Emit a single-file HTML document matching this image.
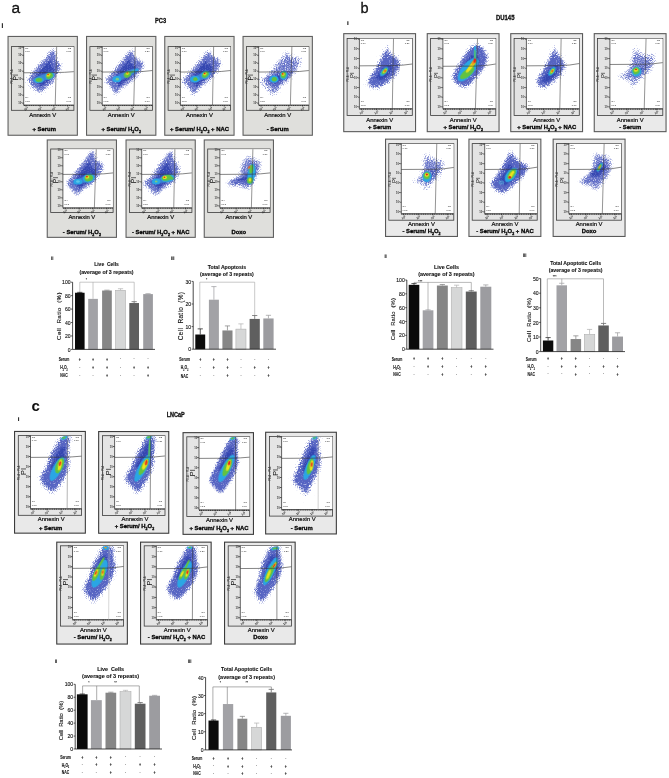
<!DOCTYPE html>
<html><head><meta charset="utf-8"><title>Figure</title>
<style>html,body{margin:0;padding:0;background:#fff}svg{display:block}text{font-family:'Liberation Sans', Arial, Helvetica, sans-serif}</style></head>
<body><svg width="669" height="778" viewBox="0 0 669 778">
<defs>
<filter id="bl0" x="-50%" y="-50%" width="200%" height="200%"><feGaussianBlur stdDeviation=".35"/></filter>
<filter id="bl1" x="-50%" y="-50%" width="200%" height="200%"><feGaussianBlur stdDeviation=".7"/></filter>
<filter id="bl2" x="-50%" y="-50%" width="200%" height="200%"><feGaussianBlur stdDeviation="1.2"/></filter>
<filter id="sp0" x="-50%" y="-50%" width="200%" height="200%" color-interpolation-filters="sRGB"><feGaussianBlur in="SourceAlpha" stdDeviation="2.8" result="a"/><feTurbulence type="fractalNoise" baseFrequency="1.0" numOctaves="1" seed="13"/><feColorMatrix type="matrix" values="0 0 0 0 0 0 0 0 0 0 0 0 0 0 0 0 1 0 0 0" result="n"/><feComposite in="a" in2="n" operator="arithmetic" k1="0" k2="1.5" k3="3.2" k4="-2.55" result="m"/><feFlood flood-color="#6673c9"/><feComposite in2="m" operator="in"/></filter>
<filter id="sp1" x="-50%" y="-50%" width="200%" height="200%" color-interpolation-filters="sRGB"><feGaussianBlur in="SourceAlpha" stdDeviation="2.1" result="a"/><feTurbulence type="fractalNoise" baseFrequency="0.9" numOctaves="1" seed="5"/><feColorMatrix type="matrix" values="0 0 0 0 0 0 0 0 0 0 0 0 0 0 0 1 0 0 0 0" result="n"/><feComposite in="a" in2="n" operator="arithmetic" k1="0" k2="2.1" k3="3.0" k4="-2.45" result="m"/><feFlood flood-color="#5664c2"/><feComposite in2="m" operator="in"/></filter>
<filter id="sp2" x="-50%" y="-50%" width="200%" height="200%" color-interpolation-filters="sRGB"><feGaussianBlur in="SourceAlpha" stdDeviation="2.0" result="a"/><feTurbulence type="fractalNoise" baseFrequency="0.9" numOctaves="1" seed="9"/><feColorMatrix type="matrix" values="0 0 0 0 0 0 0 0 0 0 0 0 0 0 0 0 1 0 0 0" result="n"/><feComposite in="a" in2="n" operator="arithmetic" k1="0" k2="1.6" k3="3.0" k4="-2.4" result="m"/><feFlood flood-color="#5f6cc6"/><feComposite in2="m" operator="in"/></filter>
<filter id="sp3" x="-50%" y="-50%" width="200%" height="200%" color-interpolation-filters="sRGB"><feGaussianBlur in="SourceAlpha" stdDeviation="2.1" result="a"/><feTurbulence type="fractalNoise" baseFrequency="0.9" numOctaves="1" seed="7"/><feColorMatrix type="matrix" values="0 0 0 0 0 0 0 0 0 0 0 0 0 0 0 1 0 0 0 0" result="n"/><feComposite in="a" in2="n" operator="arithmetic" k1="0" k2="1.9" k3="3.0" k4="-2.45" result="m"/><feFlood flood-color="#606dc7"/><feComposite in2="m" operator="in"/></filter>
<filter id="sq" x="-50%" y="-50%" width="200%" height="200%" color-interpolation-filters="sRGB"><feGaussianBlur in="SourceAlpha" stdDeviation="1.7" result="a"/><feTurbulence type="fractalNoise" baseFrequency="0.8" numOctaves="1" seed="21"/><feColorMatrix type="matrix" values="0 0 0 0 0 0 0 0 0 0 0 0 0 0 0 0 0 1 0 0" result="n"/><feComposite in="a" in2="n" operator="arithmetic" k1="0" k2="2.0" k3="2.4" k4="-2.2" result="m"/><feFlood flood-color="#3446b0"/><feComposite in2="m" operator="in"/></filter>

<filter id="bl3" x="-50%" y="-50%" width="200%" height="200%"><feGaussianBlur stdDeviation="2"/></filter>
</defs>
<rect width="669" height="778" fill="#fff"/>
<g><rect x="8.05" y="36.45" width="69.3" height="98.8" fill="#dfdfdc" stroke="#606060" stroke-width="1.1"/><rect x="11.4" y="46.6" width="62.5" height="63.7" fill="#e0e0dd" stroke="#3a3a3a" stroke-width=".8"/><rect x="23.7" y="46.8" width="50" height="58.2" fill="#fff"/><clipPath id="cpa0"><rect x="23.7" y="46.8" width="50" height="58.2"/></clipPath><g clip-path="url(#cpa0)"><g transform="translate(23.7 46.8)"><path d="M2.1 32.6C3.3 29 10.3 21.5 13.2 18.1C16 14.6 16.9 14.6 19.2 12.1C21.4 9.5 24.9 4.7 26.9 2.7C28.8 0.7 30 -0.6 31.1 0.1C32.3 0.8 33.1 4.7 33.7 7C34.3 9.2 33.7 12.2 34.5 13.8C35.4 15.4 38.4 14.6 38.8 16.4C39.3 18.1 38.1 21.6 37.1 24.1C36.1 26.5 33.8 28.9 32.8 30.9C31.8 32.9 32.8 34 31.1 36C29.4 38 25 40.9 22.6 42.9C20.2 44.9 18.6 47.7 16.6 48C14.6 48.3 12.5 46 10.6 44.6C8.8 43.1 6.9 41.4 5.5 39.4C4.1 37.4 0.8 36.2 2.1 32.6Z" fill="#000" filter="url(#sp0)"/><path d="M4 31.9C5.2 28.6 11.5 21.8 14.1 18.7C16.7 15.5 17.5 15.5 19.6 13.2C21.6 10.9 24.8 6.5 26.6 4.7C28.4 2.9 29.4 1.7 30.5 2.3C31.5 3 32.3 6.5 32.8 8.6C33.3 10.6 32.8 13.3 33.6 14.8C34.3 16.2 37.1 15.5 37.4 17.1C37.8 18.7 36.8 21.9 35.9 24.1C35 26.3 32.9 28.5 32 30.3C31.1 32.1 32 33.2 30.5 35C28.9 36.8 24.9 39.4 22.7 41.2C20.5 43 19.1 45.6 17.2 45.9C15.4 46.1 13.5 44 11.8 42.8C10.1 41.5 8.4 39.9 7.1 38.1C5.8 36.3 2.9 35.1 4 31.9Z" fill="#000" filter="url(#sp3)"/><path d="M9.8 31.4C10.5 29.3 14.7 24.8 16.4 22.8C18.1 20.7 18.6 20.7 19.9 19.2C21.3 17.7 23.3 14.8 24.5 13.6C25.7 12.4 26.4 11.7 27 12.1C27.7 12.5 28.2 14.8 28.6 16.2C28.9 17.5 28.6 19.3 29.1 20.2C29.6 21.2 31.4 20.7 31.6 21.8C31.9 22.8 31.2 24.9 30.6 26.3C30 27.8 28.7 29.2 28.1 30.4C27.5 31.6 28.1 32.3 27 33.4C26 34.6 23.4 36.3 22 37.5C20.5 38.7 19.6 40.4 18.4 40.6C17.2 40.7 16 39.4 14.8 38.5C13.7 37.7 12.6 36.7 11.8 35.5C11 34.3 9 33.5 9.8 31.4Z" fill="#000" filter="url(#sq)"/><ellipse cx="19.73" cy="30.84" rx="11.21" ry="3.36" transform="rotate(-18 19.73 30.84)" fill="#3a84d6" opacity="1" filter="url(#bl1)"/><ellipse cx="15.25" cy="33.23" rx="4.63" ry="2.84" transform="rotate(-5 15.25 33.23)" fill="#2aa6e4" opacity="1" filter="url(#bl1)"/><ellipse cx="26.08" cy="28.97" rx="4.63" ry="3.74" transform="rotate(-30 26.08 28.97)" fill="#2aa6e4" opacity="1" filter="url(#bl1)"/><ellipse cx="15.25" cy="33.08" rx="3.36" ry="2.09" transform="rotate(-3 15.25 33.08)" fill="#62c340" opacity="1" filter="url(#bl0)"/><ellipse cx="25.71" cy="28.97" rx="3.59" ry="2.84" transform="rotate(-35 25.71 28.97)" fill="#62c340" opacity="1" filter="url(#bl0)"/><ellipse cx="24.81" cy="28.23" rx="1.94" ry="1.49" transform="rotate(-30 24.81 28.23)" fill="#ece31e" opacity="1" filter="url(#bl0)"/><ellipse cx="24.37" cy="27.7" rx="0.82" ry="0.67" transform="rotate(0 24.37 27.7)" fill="#e6281c" opacity="1" filter="url(#bl0)"/></g></g><path d="M23.7 46.6V105H73.9" fill="none" stroke="#222" stroke-width=".7"/><path d="M23.7 105.45H73.7" stroke="#3a3a3a" stroke-width="1.1" stroke-dasharray="1.3 .5" fill="none"/><path d="M56.66 46.8L55.24 105" stroke="#3c3c3c" stroke-width=".55" fill="none"/><path d="M23.7 72.78L55.07 72.58Q64.69 72.48 73.8 71.66" stroke="#333" stroke-width=".6" fill="none"/><path d="M23.7 47.4h-1.6" stroke="#222" stroke-width=".6"/><text font-size="27" font-weight="bold" text-anchor="end" fill="#3a3a3a" transform="translate(22.4 48.5) scale(0.1 0.1)">10<tspan dy="-10" font-size="19">7</tspan></text><path d="M23.7 55.37h-1.6" stroke="#222" stroke-width=".6"/><text font-size="27" font-weight="bold" text-anchor="end" fill="#3a3a3a" transform="translate(22.4 56.47) scale(0.1 0.1)">10<tspan dy="-10" font-size="19">6</tspan></text><path d="M23.7 63.34h-1.6" stroke="#222" stroke-width=".6"/><text font-size="27" font-weight="bold" text-anchor="end" fill="#3a3a3a" transform="translate(22.4 64.44) scale(0.1 0.1)">10<tspan dy="-10" font-size="19">5</tspan></text><path d="M23.7 71.31h-1.6" stroke="#222" stroke-width=".6"/><text font-size="27" font-weight="bold" text-anchor="end" fill="#3a3a3a" transform="translate(22.4 72.41) scale(0.1 0.1)">10<tspan dy="-10" font-size="19">4</tspan></text><path d="M23.7 79.29h-1.6" stroke="#222" stroke-width=".6"/><text font-size="27" font-weight="bold" text-anchor="end" fill="#3a3a3a" transform="translate(22.4 80.39) scale(0.1 0.1)">10<tspan dy="-10" font-size="19">3</tspan></text><path d="M23.7 87.26h-1.6" stroke="#222" stroke-width=".6"/><text font-size="27" font-weight="bold" text-anchor="end" fill="#3a3a3a" transform="translate(22.4 88.36) scale(0.1 0.1)">10<tspan dy="-10" font-size="19">2</tspan></text><path d="M23.7 95.23h-1.6" stroke="#222" stroke-width=".6"/><text font-size="27" font-weight="bold" text-anchor="end" fill="#3a3a3a" transform="translate(22.4 96.33) scale(0.1 0.1)">10<tspan dy="-10" font-size="19">1</tspan></text><path d="M23.7 103.2h-1.6" stroke="#222" stroke-width=".6"/><text font-size="27" font-weight="bold" text-anchor="end" fill="#3a3a3a" transform="translate(22.4 104.3) scale(0.1 0.1)">10<tspan dy="-10" font-size="19">0</tspan></text><path d="M25.9 105v1.6" stroke="#222" stroke-width=".6"/><text font-size="29" font-weight="bold" text-anchor="middle" fill="#151515" transform="translate(26.5 109.7) rotate(-30) scale(0.1 0.1)">10<tspan dy="-10" font-size="19">2</tspan></text><path d="M39.77 105v1.6" stroke="#222" stroke-width=".6"/><text font-size="29" font-weight="bold" text-anchor="middle" fill="#151515" transform="translate(40.37 109.7) rotate(-30) scale(0.1 0.1)">10<tspan dy="-10" font-size="19">3</tspan></text><path d="M53.63 105v1.6" stroke="#222" stroke-width=".6"/><text font-size="29" font-weight="bold" text-anchor="middle" fill="#151515" transform="translate(54.23 109.7) rotate(-30) scale(0.1 0.1)">10<tspan dy="-10" font-size="19">4</tspan></text><path d="M67.5 105v1.6" stroke="#222" stroke-width=".6"/><text font-size="29" font-weight="bold" text-anchor="middle" fill="#151515" transform="translate(68.1 109.7) rotate(-30) scale(0.1 0.1)">10<tspan dy="-10" font-size="19">5</tspan></text><text font-size="68" font-weight="normal" text-anchor="middle" fill="#111" transform="translate(18.3 77.4) rotate(-90) scale(0.1 0.1)">PI</text><text font-size="26" font-weight="bold" text-anchor="middle" fill="#444" transform="translate(13.2 76.6) rotate(-90) scale(0.1 0.1)">PE-A :: PI-A</text><text font-size="25" font-weight="normal" text-anchor="start" fill="#2a2a2a" transform="translate(25 49) scale(0.1 0.1)">Q1</text><text font-size="25" font-weight="normal" text-anchor="start" fill="#2a2a2a" transform="translate(25 52.4) scale(0.1 0.1)">0.66</text><text font-size="25" font-weight="normal" text-anchor="end" fill="#2a2a2a" transform="translate(71.1 49) scale(0.1 0.1)">Q2</text><text font-size="25" font-weight="normal" text-anchor="end" fill="#2a2a2a" transform="translate(71.1 52.4) scale(0.1 0.1)">1.26</text><text font-size="25" font-weight="normal" text-anchor="end" fill="#2a2a2a" transform="translate(71.1 98.4) scale(0.1 0.1)">Q3</text><text font-size="25" font-weight="normal" text-anchor="end" fill="#2a2a2a" transform="translate(71.1 102) scale(0.1 0.1)">0.00</text><text font-size="25" font-weight="normal" text-anchor="start" fill="#2a2a2a" transform="translate(25 98.4) scale(0.1 0.1)">Q4</text><text font-size="25" font-weight="normal" text-anchor="start" fill="#2a2a2a" transform="translate(25 102) scale(0.1 0.1)">93.5</text><text font-size="62" font-weight="normal" text-anchor="middle" fill="#0a0a0a" transform="translate(42.7 117.15) scale(0.1 0.1)" stroke="#0a0a0a" stroke-width="2" textLength="269" lengthAdjust="spacingAndGlyphs">Annexin V</text><text font-size="59" font-weight="bold" text-anchor="middle" fill="#050505" transform="translate(44.2 130.9) scale(0.1 0.1)" stroke="#050505" stroke-width="3">+ Serum</text></g><g><rect x="86.55" y="36.45" width="69.3" height="98.8" fill="#dfdfdc" stroke="#606060" stroke-width="1.1"/><rect x="89.9" y="46.6" width="62.5" height="63.7" fill="#e0e0dd" stroke="#3a3a3a" stroke-width=".8"/><rect x="102.2" y="46.8" width="50" height="58.2" fill="#fff"/><clipPath id="cpa1"><rect x="102.2" y="46.8" width="50" height="58.2"/></clipPath><g clip-path="url(#cpa1)"><g transform="translate(102.2 46.8)"><path d="M1.5 33.3C2.2 30.9 6.5 28.1 9.2 24.8C11.9 21.5 15 17.1 17.7 13.7C20.4 10.2 23.3 6.5 25.4 4.3C27.6 2 29.3 -0.6 30.5 0C31.8 0.6 32.1 5.8 33.1 7.7C34.1 9.5 35 10.1 36.5 11.1C38.1 12.1 41.4 12.2 42.5 13.7C43.7 15.1 43.9 17.7 43.4 19.7C42.8 21.6 40.9 23.2 39.1 25.6C37.2 28.1 34.7 31.9 32.3 34.2C29.8 36.5 27 37.6 24.6 39.3C22.1 41 19.6 42.5 17.7 44.4C15.9 46.4 14.9 51.3 13.4 51.3C12 51.3 10.6 46.4 9.2 44.4C7.7 42.5 6.2 41.2 4.9 39.3C3.6 37.5 0.8 35.8 1.5 33.3Z" fill="#000" filter="url(#sp0)"/><path d="M3.5 32.6C4.2 30.4 8 27.8 10.5 24.8C13 21.9 15.8 17.8 18.3 14.7C20.7 11.6 23.3 8.3 25.3 6.2C27.2 4.1 28.8 1.8 29.9 2.3C31.1 2.8 31.4 7.6 32.3 9.3C33.2 11 33.9 11.5 35.4 12.4C36.8 13.3 39.8 13.4 40.8 14.7C41.8 16 42.1 18.4 41.6 20.2C41.1 22 39.4 23.4 37.7 25.6C36 27.8 33.7 31.3 31.5 33.4C29.3 35.5 26.7 36.5 24.5 38.1C22.3 39.6 20 40.9 18.3 42.7C16.6 44.5 15.7 48.9 14.4 48.9C13.1 48.9 11.8 44.5 10.5 42.7C9.2 40.9 7.8 39.7 6.6 38.1C5.4 36.4 2.9 34.8 3.5 32.6Z" fill="#000" filter="url(#sp3)"/><path d="M10.4 31C10.8 29.6 13.4 27.9 15 25.9C16.6 24 18.5 21.3 20.1 19.3C21.7 17.3 23.4 15.1 24.7 13.7C25.9 12.4 26.9 10.8 27.7 11.2C28.5 11.5 28.6 14.7 29.2 15.8C29.8 16.9 30.3 17.2 31.3 17.8C32.2 18.4 34.1 18.5 34.8 19.3C35.5 20.2 35.7 21.7 35.3 22.9C35 24.1 33.9 25 32.8 26.4C31.7 27.9 30.2 30.2 28.7 31.5C27.3 32.9 25.6 33.5 24.1 34.6C22.7 35.6 21.2 36.4 20.1 37.6C19 38.8 18.4 41.7 17.5 41.7C16.7 41.7 15.8 38.8 15 37.6C14.1 36.4 13.2 35.7 12.5 34.6C11.7 33.5 10 32.4 10.4 31Z" fill="#000" filter="url(#sq)"/><ellipse cx="22.97" cy="28.23" rx="14.2" ry="3.14" transform="rotate(-24 22.97 28.23)" fill="#3a84d6" opacity="1" filter="url(#bl1)"/><ellipse cx="14.75" cy="32.34" rx="4.33" ry="3.14" transform="rotate(0 14.75 32.34)" fill="#2aa6e4" opacity="1" filter="url(#bl1)"/><ellipse cx="32.68" cy="23.97" rx="4.11" ry="1.35" transform="rotate(-20 32.68 23.97)" fill="#2aa6e4" opacity="1" filter="url(#bl1)"/><ellipse cx="15.12" cy="32.34" rx="1.64" ry="1.35" transform="rotate(0 15.12 32.34)" fill="#8fd66a" opacity="0.8" filter="url(#bl0)"/><ellipse cx="25.21" cy="27.7" rx="3.74" ry="2.84" transform="rotate(-35 25.21 27.7)" fill="#62c340" opacity="1" filter="url(#bl0)"/><ellipse cx="29.7" cy="25.24" rx="2.99" ry="0.9" transform="rotate(-20 29.7 25.24)" fill="#62c340" opacity="0.8" filter="url(#bl0)"/><ellipse cx="25.21" cy="26.73" rx="1.64" ry="1.35" transform="rotate(-30 25.21 26.73)" fill="#ece31e" opacity="1" filter="url(#bl0)"/><ellipse cx="25.06" cy="26.06" rx="0.75" ry="0.67" transform="rotate(0 25.06 26.06)" fill="#e6281c" opacity="1" filter="url(#bl0)"/></g></g><path d="M102.2 46.6V105H152.4" fill="none" stroke="#222" stroke-width=".7"/><path d="M102.2 105.45H152.2" stroke="#3a3a3a" stroke-width="1.1" stroke-dasharray="1.3 .5" fill="none"/><path d="M135.26 46.8L133.76 105" stroke="#3c3c3c" stroke-width=".55" fill="none"/><path d="M102.2 72.04L133.57 71.84Q143.19 71.74 152.3 70.54" stroke="#333" stroke-width=".6" fill="none"/><path d="M102.2 47.4h-1.6" stroke="#222" stroke-width=".6"/><text font-size="27" font-weight="bold" text-anchor="end" fill="#3a3a3a" transform="translate(100.9 48.5) scale(0.1 0.1)">10<tspan dy="-10" font-size="19">7</tspan></text><path d="M102.2 55.37h-1.6" stroke="#222" stroke-width=".6"/><text font-size="27" font-weight="bold" text-anchor="end" fill="#3a3a3a" transform="translate(100.9 56.47) scale(0.1 0.1)">10<tspan dy="-10" font-size="19">6</tspan></text><path d="M102.2 63.34h-1.6" stroke="#222" stroke-width=".6"/><text font-size="27" font-weight="bold" text-anchor="end" fill="#3a3a3a" transform="translate(100.9 64.44) scale(0.1 0.1)">10<tspan dy="-10" font-size="19">5</tspan></text><path d="M102.2 71.31h-1.6" stroke="#222" stroke-width=".6"/><text font-size="27" font-weight="bold" text-anchor="end" fill="#3a3a3a" transform="translate(100.9 72.41) scale(0.1 0.1)">10<tspan dy="-10" font-size="19">4</tspan></text><path d="M102.2 79.29h-1.6" stroke="#222" stroke-width=".6"/><text font-size="27" font-weight="bold" text-anchor="end" fill="#3a3a3a" transform="translate(100.9 80.39) scale(0.1 0.1)">10<tspan dy="-10" font-size="19">3</tspan></text><path d="M102.2 87.26h-1.6" stroke="#222" stroke-width=".6"/><text font-size="27" font-weight="bold" text-anchor="end" fill="#3a3a3a" transform="translate(100.9 88.36) scale(0.1 0.1)">10<tspan dy="-10" font-size="19">2</tspan></text><path d="M102.2 95.23h-1.6" stroke="#222" stroke-width=".6"/><text font-size="27" font-weight="bold" text-anchor="end" fill="#3a3a3a" transform="translate(100.9 96.33) scale(0.1 0.1)">10<tspan dy="-10" font-size="19">1</tspan></text><path d="M102.2 103.2h-1.6" stroke="#222" stroke-width=".6"/><text font-size="27" font-weight="bold" text-anchor="end" fill="#3a3a3a" transform="translate(100.9 104.3) scale(0.1 0.1)">10<tspan dy="-10" font-size="19">0</tspan></text><path d="M104.4 105v1.6" stroke="#222" stroke-width=".6"/><text font-size="29" font-weight="bold" text-anchor="middle" fill="#151515" transform="translate(105 109.7) rotate(-30) scale(0.1 0.1)">10<tspan dy="-10" font-size="19">2</tspan></text><path d="M118.27 105v1.6" stroke="#222" stroke-width=".6"/><text font-size="29" font-weight="bold" text-anchor="middle" fill="#151515" transform="translate(118.87 109.7) rotate(-30) scale(0.1 0.1)">10<tspan dy="-10" font-size="19">3</tspan></text><path d="M132.13 105v1.6" stroke="#222" stroke-width=".6"/><text font-size="29" font-weight="bold" text-anchor="middle" fill="#151515" transform="translate(132.73 109.7) rotate(-30) scale(0.1 0.1)">10<tspan dy="-10" font-size="19">4</tspan></text><path d="M146 105v1.6" stroke="#222" stroke-width=".6"/><text font-size="29" font-weight="bold" text-anchor="middle" fill="#151515" transform="translate(146.6 109.7) rotate(-30) scale(0.1 0.1)">10<tspan dy="-10" font-size="19">5</tspan></text><text font-size="68" font-weight="normal" text-anchor="middle" fill="#111" transform="translate(96.8 77.4) rotate(-90) scale(0.1 0.1)">PI</text><text font-size="26" font-weight="bold" text-anchor="middle" fill="#444" transform="translate(91.7 76.6) rotate(-90) scale(0.1 0.1)">PE-A :: PI-A</text><text font-size="25" font-weight="normal" text-anchor="start" fill="#2a2a2a" transform="translate(103.5 49) scale(0.1 0.1)">Q1</text><text font-size="25" font-weight="normal" text-anchor="start" fill="#2a2a2a" transform="translate(103.5 52.4) scale(0.1 0.1)">0.66</text><text font-size="25" font-weight="normal" text-anchor="end" fill="#2a2a2a" transform="translate(149.6 49) scale(0.1 0.1)">Q2</text><text font-size="25" font-weight="normal" text-anchor="end" fill="#2a2a2a" transform="translate(149.6 52.4) scale(0.1 0.1)">1.26</text><text font-size="25" font-weight="normal" text-anchor="end" fill="#2a2a2a" transform="translate(149.6 98.4) scale(0.1 0.1)">Q3</text><text font-size="25" font-weight="normal" text-anchor="end" fill="#2a2a2a" transform="translate(149.6 102) scale(0.1 0.1)">0.00</text><text font-size="25" font-weight="normal" text-anchor="start" fill="#2a2a2a" transform="translate(103.5 98.4) scale(0.1 0.1)">Q4</text><text font-size="25" font-weight="normal" text-anchor="start" fill="#2a2a2a" transform="translate(103.5 102) scale(0.1 0.1)">93.5</text><text font-size="62" font-weight="normal" text-anchor="middle" fill="#0a0a0a" transform="translate(121.2 117.15) scale(0.1 0.1)" stroke="#0a0a0a" stroke-width="2" textLength="269" lengthAdjust="spacingAndGlyphs">Annexin V</text><text font-size="59" font-weight="bold" text-anchor="middle" fill="#050505" transform="translate(121.2 130.9) scale(0.1 0.1)" stroke="#050505" stroke-width="3">+ Serum/ H<tspan dy="19" font-size="36">2</tspan><tspan dy="-19">O</tspan><tspan dy="19" font-size="36">2</tspan></text></g><g><rect x="164.75" y="36.45" width="69.3" height="98.8" fill="#dfdfdc" stroke="#606060" stroke-width="1.1"/><rect x="168.1" y="46.6" width="62.5" height="63.7" fill="#e0e0dd" stroke="#3a3a3a" stroke-width=".8"/><rect x="180.4" y="46.8" width="50" height="58.2" fill="#fff"/><clipPath id="cpa2"><rect x="180.4" y="46.8" width="50" height="58.2"/></clipPath><g clip-path="url(#cpa2)"><g transform="translate(180.4 46.8)"><path d="M0.5 33.4C1.3 30.8 6.2 27.3 9 24C11.9 20.7 14.9 16.9 17.6 13.7C20.3 10.6 23.4 7.3 25.3 5.2C27.1 3 27.6 0.6 28.7 0.9C29.8 1.2 30.8 5.5 32.1 6.9C33.4 8.3 35 8.6 36.4 9.5C37.8 10.3 39.8 10.5 40.7 12C41.5 13.6 42 16.7 41.5 18.9C41.1 21 39.7 22.6 38.1 24.8C36.5 27.1 34.4 30.3 32.1 32.5C29.8 34.8 26.8 36.5 24.4 38.5C22 40.5 19.4 42.4 17.6 44.5C15.7 46.6 14.7 51.3 13.3 51.3C11.9 51.3 10.6 46.5 9 44.5C7.5 42.5 5.3 41.2 3.9 39.4C2.5 37.5 -0.4 36 0.5 33.4Z" fill="#000" filter="url(#sp0)"/><path d="M2.5 32.6C3.3 30.3 7.7 27.1 10.3 24.1C12.9 21.1 15.6 17.6 18.1 14.8C20.6 11.9 23.4 8.9 25.1 7C26.8 5 27.2 2.8 28.2 3.1C29.2 3.4 30.1 7.2 31.3 8.5C32.5 9.8 33.9 10.1 35.2 10.9C36.5 11.6 38.3 11.8 39.1 13.2C39.9 14.6 40.2 17.5 39.9 19.4C39.5 21.4 38.2 22.8 36.7 24.9C35.3 26.9 33.4 29.8 31.3 31.9C29.2 33.9 26.5 35.5 24.3 37.3C22.1 39.1 19.8 40.8 18.1 42.7C16.4 44.7 15.5 49 14.2 49C12.9 49 11.7 44.5 10.3 42.7C8.9 40.9 6.9 39.8 5.7 38.1C4.4 36.4 1.8 35 2.5 32.6Z" fill="#000" filter="url(#sp3)"/><path d="M8.7 31.6C9.2 30.1 12.1 28 13.8 26C15.5 24.1 17.2 21.8 18.8 19.9C20.5 18.1 22.3 16.1 23.4 14.9C24.5 13.6 24.8 12.2 25.4 12.3C26.1 12.5 26.7 15 27.5 15.9C28.2 16.7 29.2 16.9 30 17.4C30.9 17.9 32.1 18 32.6 18.9C33.1 19.9 33.3 21.7 33.1 23C32.8 24.3 32 25.2 31 26.6C30.1 27.9 28.8 29.8 27.5 31.1C26.1 32.5 24.3 33.5 22.9 34.7C21.5 35.9 19.9 37 18.8 38.2C17.7 39.5 17.1 42.3 16.3 42.3C15.5 42.3 14.7 39.4 13.8 38.2C12.8 37.1 11.6 36.3 10.7 35.2C9.9 34.1 8.2 33.2 8.7 31.6Z" fill="#000" filter="url(#sq)"/><ellipse cx="20.53" cy="30.1" rx="11.21" ry="2.99" transform="rotate(-24 20.53 30.1)" fill="#3a84d6" opacity="1" filter="url(#bl1)"/><ellipse cx="14.55" cy="32.34" rx="4.93" ry="3.44" transform="rotate(0 14.55 32.34)" fill="#2aa6e4" opacity="1" filter="url(#bl1)"/><ellipse cx="25.01" cy="28" rx="4.63" ry="3.89" transform="rotate(-35 25.01 28)" fill="#2aa6e4" opacity="1" filter="url(#bl1)"/><ellipse cx="14.92" cy="32.34" rx="2.24" ry="1.79" transform="rotate(0 14.92 32.34)" fill="#62c340" opacity="1" filter="url(#bl0)"/><ellipse cx="25.01" cy="27.85" rx="3.74" ry="2.69" transform="rotate(-40 25.01 27.85)" fill="#62c340" opacity="1" filter="url(#bl0)"/><ellipse cx="24.64" cy="27.11" rx="1.94" ry="1.35" transform="rotate(-35 24.64 27.11)" fill="#ece31e" opacity="1" filter="url(#bl0)"/><ellipse cx="24.26" cy="26.73" rx="0.9" ry="0.75" transform="rotate(0 24.26 26.73)" fill="#e6281c" opacity="1" filter="url(#bl0)"/></g></g><path d="M180.4 46.6V105H230.6" fill="none" stroke="#222" stroke-width=".7"/><path d="M180.4 105.45H230.4" stroke="#3a3a3a" stroke-width="1.1" stroke-dasharray="1.3 .5" fill="none"/><path d="M213.63 46.8L212.51 105" stroke="#3c3c3c" stroke-width=".55" fill="none"/><path d="M180.4 72.04L211.77 71.84Q221.39 71.74 230.5 70.54" stroke="#333" stroke-width=".6" fill="none"/><path d="M180.4 47.4h-1.6" stroke="#222" stroke-width=".6"/><text font-size="27" font-weight="bold" text-anchor="end" fill="#3a3a3a" transform="translate(179.1 48.5) scale(0.1 0.1)">10<tspan dy="-10" font-size="19">7</tspan></text><path d="M180.4 55.37h-1.6" stroke="#222" stroke-width=".6"/><text font-size="27" font-weight="bold" text-anchor="end" fill="#3a3a3a" transform="translate(179.1 56.47) scale(0.1 0.1)">10<tspan dy="-10" font-size="19">6</tspan></text><path d="M180.4 63.34h-1.6" stroke="#222" stroke-width=".6"/><text font-size="27" font-weight="bold" text-anchor="end" fill="#3a3a3a" transform="translate(179.1 64.44) scale(0.1 0.1)">10<tspan dy="-10" font-size="19">5</tspan></text><path d="M180.4 71.31h-1.6" stroke="#222" stroke-width=".6"/><text font-size="27" font-weight="bold" text-anchor="end" fill="#3a3a3a" transform="translate(179.1 72.41) scale(0.1 0.1)">10<tspan dy="-10" font-size="19">4</tspan></text><path d="M180.4 79.29h-1.6" stroke="#222" stroke-width=".6"/><text font-size="27" font-weight="bold" text-anchor="end" fill="#3a3a3a" transform="translate(179.1 80.39) scale(0.1 0.1)">10<tspan dy="-10" font-size="19">3</tspan></text><path d="M180.4 87.26h-1.6" stroke="#222" stroke-width=".6"/><text font-size="27" font-weight="bold" text-anchor="end" fill="#3a3a3a" transform="translate(179.1 88.36) scale(0.1 0.1)">10<tspan dy="-10" font-size="19">2</tspan></text><path d="M180.4 95.23h-1.6" stroke="#222" stroke-width=".6"/><text font-size="27" font-weight="bold" text-anchor="end" fill="#3a3a3a" transform="translate(179.1 96.33) scale(0.1 0.1)">10<tspan dy="-10" font-size="19">1</tspan></text><path d="M180.4 103.2h-1.6" stroke="#222" stroke-width=".6"/><text font-size="27" font-weight="bold" text-anchor="end" fill="#3a3a3a" transform="translate(179.1 104.3) scale(0.1 0.1)">10<tspan dy="-10" font-size="19">0</tspan></text><path d="M182.6 105v1.6" stroke="#222" stroke-width=".6"/><text font-size="29" font-weight="bold" text-anchor="middle" fill="#151515" transform="translate(183.2 109.7) rotate(-30) scale(0.1 0.1)">10<tspan dy="-10" font-size="19">2</tspan></text><path d="M196.47 105v1.6" stroke="#222" stroke-width=".6"/><text font-size="29" font-weight="bold" text-anchor="middle" fill="#151515" transform="translate(197.07 109.7) rotate(-30) scale(0.1 0.1)">10<tspan dy="-10" font-size="19">3</tspan></text><path d="M210.33 105v1.6" stroke="#222" stroke-width=".6"/><text font-size="29" font-weight="bold" text-anchor="middle" fill="#151515" transform="translate(210.93 109.7) rotate(-30) scale(0.1 0.1)">10<tspan dy="-10" font-size="19">4</tspan></text><path d="M224.2 105v1.6" stroke="#222" stroke-width=".6"/><text font-size="29" font-weight="bold" text-anchor="middle" fill="#151515" transform="translate(224.8 109.7) rotate(-30) scale(0.1 0.1)">10<tspan dy="-10" font-size="19">5</tspan></text><text font-size="68" font-weight="normal" text-anchor="middle" fill="#111" transform="translate(175 77.4) rotate(-90) scale(0.1 0.1)">PI</text><text font-size="26" font-weight="bold" text-anchor="middle" fill="#444" transform="translate(169.9 76.6) rotate(-90) scale(0.1 0.1)">PE-A :: PI-A</text><text font-size="25" font-weight="normal" text-anchor="start" fill="#2a2a2a" transform="translate(181.7 49) scale(0.1 0.1)">Q1</text><text font-size="25" font-weight="normal" text-anchor="start" fill="#2a2a2a" transform="translate(181.7 52.4) scale(0.1 0.1)">0.66</text><text font-size="25" font-weight="normal" text-anchor="end" fill="#2a2a2a" transform="translate(227.8 49) scale(0.1 0.1)">Q2</text><text font-size="25" font-weight="normal" text-anchor="end" fill="#2a2a2a" transform="translate(227.8 52.4) scale(0.1 0.1)">1.26</text><text font-size="25" font-weight="normal" text-anchor="end" fill="#2a2a2a" transform="translate(227.8 98.4) scale(0.1 0.1)">Q3</text><text font-size="25" font-weight="normal" text-anchor="end" fill="#2a2a2a" transform="translate(227.8 102) scale(0.1 0.1)">0.00</text><text font-size="25" font-weight="normal" text-anchor="start" fill="#2a2a2a" transform="translate(181.7 98.4) scale(0.1 0.1)">Q4</text><text font-size="25" font-weight="normal" text-anchor="start" fill="#2a2a2a" transform="translate(181.7 102) scale(0.1 0.1)">93.5</text><text font-size="62" font-weight="normal" text-anchor="middle" fill="#0a0a0a" transform="translate(199.4 117.15) scale(0.1 0.1)" stroke="#0a0a0a" stroke-width="2" textLength="269" lengthAdjust="spacingAndGlyphs">Annexin V</text><text font-size="59" font-weight="bold" text-anchor="middle" fill="#050505" transform="translate(199.4 130.9) scale(0.1 0.1)" stroke="#050505" stroke-width="3">+ Serum/ H<tspan dy="19" font-size="36">2</tspan><tspan dy="-19">O</tspan><tspan dy="19" font-size="36">2</tspan><tspan dy="-19"> + NAC</tspan></text></g><g><rect x="243.05" y="36.45" width="69.3" height="98.8" fill="#dfdfdc" stroke="#606060" stroke-width="1.1"/><rect x="246.4" y="46.6" width="62.5" height="63.7" fill="#e0e0dd" stroke="#3a3a3a" stroke-width=".8"/><rect x="258.7" y="46.8" width="50" height="58.2" fill="#fff"/><clipPath id="cpa3"><rect x="258.7" y="46.8" width="50" height="58.2"/></clipPath><g clip-path="url(#cpa3)"><g transform="translate(258.7 46.8)"><path d="M-0.4 33.9C0.2 31 7.1 28.1 10.3 24.8C13.4 21.5 15.7 17.4 18.5 14.1C21.2 10.8 24.6 7 26.7 5.1C28.7 3.2 29.7 2.1 30.8 2.6C31.9 3.2 31.2 7.1 33.3 8.4C35.3 9.6 41.6 8.2 43.1 10C44.6 11.8 43.3 16.5 42.3 19.1C41.4 21.7 39 23.5 37.4 25.6C35.7 27.8 34.5 30 32.4 32.2C30.4 34.4 27.4 36.3 25 38.8C22.7 41.3 20.4 45.1 18.5 47C16.6 48.9 15.6 51.1 13.5 50.3C11.5 49.5 8.5 44.8 6.1 42.1C3.8 39.3 -1.1 36.7 -0.4 33.9Z" fill="#000" filter="url(#sp0)"/><path d="M3.6 32.5C4.2 30.1 9.9 27.6 12.5 24.9C15.2 22.1 17.1 18.7 19.4 16C21.7 13.2 24.6 10 26.3 8.4C28 6.8 28.8 5.9 29.7 6.3C30.6 6.8 30.1 10.1 31.8 11.1C33.5 12.2 38.8 11 40 12.5C41.3 14 40.1 17.9 39.3 20.1C38.5 22.3 36.6 23.8 35.2 25.6C33.8 27.4 32.8 29.3 31.1 31.1C29.4 32.9 26.8 34.5 24.9 36.6C22.9 38.6 21 41.9 19.4 43.5C17.8 45.1 17 46.9 15.3 46.2C13.6 45.5 11 41.6 9.1 39.3C7.1 37 3 34.9 3.6 32.5Z" fill="#000" filter="url(#sp2)" opacity=".8"/><path d="M7 32.3C7.4 30.7 10.6 29.1 13 27.9C15.4 26.6 18.4 25.5 21.2 24.9C24.1 24.2 27.8 24.5 30.2 24.1C32.6 23.7 34.9 21.9 35.4 22.6C35.9 23.4 34.4 26.7 33.2 28.6C31.9 30.5 29.9 32.3 28 33.8C26 35.3 23.3 36.3 21.2 37.6C19.1 38.8 17 41.3 15.2 41.3C13.5 41.3 12.1 39.1 10.8 37.6C9.4 36.1 6.7 34 7 32.3Z" fill="#000" filter="url(#sp1)"/><path d="M10.7 31.9C11 30.8 13.2 29.7 14.8 28.9C16.4 28 18.4 27.3 20.4 26.9C22.3 26.4 24.9 26.6 26.5 26.3C28.1 26.1 29.7 24.8 30 25.3C30.4 25.8 29.4 28.1 28.5 29.4C27.7 30.7 26.3 31.9 25 33C23.6 34 21.8 34.6 20.4 35.5C18.9 36.3 17.5 38 16.3 38C15.1 38 14.2 36.5 13.3 35.5C12.3 34.5 10.5 33 10.7 31.9Z" fill="#000" filter="url(#sq)"/><ellipse cx="15.25" cy="32.34" rx="4.63" ry="3.59" transform="rotate(0 15.25 32.34)" fill="#2aa6e4" opacity="1" filter="url(#bl1)"/><ellipse cx="24.96" cy="28.6" rx="3.89" ry="4.63" transform="rotate(20 24.96 28.6)" fill="#2aa6e4" opacity="1" filter="url(#bl1)"/><ellipse cx="15.62" cy="32.34" rx="2.54" ry="2.24" transform="rotate(0 15.62 32.34)" fill="#62c340" opacity="1" filter="url(#bl0)"/><ellipse cx="24.81" cy="28.23" rx="2.54" ry="3.29" transform="rotate(20 24.81 28.23)" fill="#62c340" opacity="1" filter="url(#bl0)"/><ellipse cx="24.37" cy="27.48" rx="1.42" ry="1.64" transform="rotate(15 24.37 27.48)" fill="#ece31e" opacity="1" filter="url(#bl0)"/><ellipse cx="24.07" cy="27.11" rx="0.82" ry="0.82" transform="rotate(0 24.07 27.11)" fill="#e6281c" opacity="1" filter="url(#bl0)"/></g></g><path d="M258.7 46.6V105H308.9" fill="none" stroke="#222" stroke-width=".7"/><path d="M258.7 105.45H308.7" stroke="#3a3a3a" stroke-width="1.1" stroke-dasharray="1.3 .5" fill="none"/><path d="M291.88 46.8L290.39 105" stroke="#3c3c3c" stroke-width=".55" fill="none"/><path d="M258.7 72.04L290.07 71.84Q299.69 71.74 308.8 70.54" stroke="#333" stroke-width=".6" fill="none"/><path d="M258.7 47.4h-1.6" stroke="#222" stroke-width=".6"/><text font-size="27" font-weight="bold" text-anchor="end" fill="#3a3a3a" transform="translate(257.4 48.5) scale(0.1 0.1)">10<tspan dy="-10" font-size="19">7</tspan></text><path d="M258.7 55.37h-1.6" stroke="#222" stroke-width=".6"/><text font-size="27" font-weight="bold" text-anchor="end" fill="#3a3a3a" transform="translate(257.4 56.47) scale(0.1 0.1)">10<tspan dy="-10" font-size="19">6</tspan></text><path d="M258.7 63.34h-1.6" stroke="#222" stroke-width=".6"/><text font-size="27" font-weight="bold" text-anchor="end" fill="#3a3a3a" transform="translate(257.4 64.44) scale(0.1 0.1)">10<tspan dy="-10" font-size="19">5</tspan></text><path d="M258.7 71.31h-1.6" stroke="#222" stroke-width=".6"/><text font-size="27" font-weight="bold" text-anchor="end" fill="#3a3a3a" transform="translate(257.4 72.41) scale(0.1 0.1)">10<tspan dy="-10" font-size="19">4</tspan></text><path d="M258.7 79.29h-1.6" stroke="#222" stroke-width=".6"/><text font-size="27" font-weight="bold" text-anchor="end" fill="#3a3a3a" transform="translate(257.4 80.39) scale(0.1 0.1)">10<tspan dy="-10" font-size="19">3</tspan></text><path d="M258.7 87.26h-1.6" stroke="#222" stroke-width=".6"/><text font-size="27" font-weight="bold" text-anchor="end" fill="#3a3a3a" transform="translate(257.4 88.36) scale(0.1 0.1)">10<tspan dy="-10" font-size="19">2</tspan></text><path d="M258.7 95.23h-1.6" stroke="#222" stroke-width=".6"/><text font-size="27" font-weight="bold" text-anchor="end" fill="#3a3a3a" transform="translate(257.4 96.33) scale(0.1 0.1)">10<tspan dy="-10" font-size="19">1</tspan></text><path d="M258.7 103.2h-1.6" stroke="#222" stroke-width=".6"/><text font-size="27" font-weight="bold" text-anchor="end" fill="#3a3a3a" transform="translate(257.4 104.3) scale(0.1 0.1)">10<tspan dy="-10" font-size="19">0</tspan></text><path d="M260.9 105v1.6" stroke="#222" stroke-width=".6"/><text font-size="29" font-weight="bold" text-anchor="middle" fill="#151515" transform="translate(261.5 109.7) rotate(-30) scale(0.1 0.1)">10<tspan dy="-10" font-size="19">2</tspan></text><path d="M274.77 105v1.6" stroke="#222" stroke-width=".6"/><text font-size="29" font-weight="bold" text-anchor="middle" fill="#151515" transform="translate(275.37 109.7) rotate(-30) scale(0.1 0.1)">10<tspan dy="-10" font-size="19">3</tspan></text><path d="M288.63 105v1.6" stroke="#222" stroke-width=".6"/><text font-size="29" font-weight="bold" text-anchor="middle" fill="#151515" transform="translate(289.23 109.7) rotate(-30) scale(0.1 0.1)">10<tspan dy="-10" font-size="19">4</tspan></text><path d="M302.5 105v1.6" stroke="#222" stroke-width=".6"/><text font-size="29" font-weight="bold" text-anchor="middle" fill="#151515" transform="translate(303.1 109.7) rotate(-30) scale(0.1 0.1)">10<tspan dy="-10" font-size="19">5</tspan></text><text font-size="68" font-weight="normal" text-anchor="middle" fill="#111" transform="translate(253.3 77.4) rotate(-90) scale(0.1 0.1)">PI</text><text font-size="26" font-weight="bold" text-anchor="middle" fill="#444" transform="translate(248.2 76.6) rotate(-90) scale(0.1 0.1)">PE-A :: PI-A</text><text font-size="25" font-weight="normal" text-anchor="start" fill="#2a2a2a" transform="translate(260 49) scale(0.1 0.1)">Q1</text><text font-size="25" font-weight="normal" text-anchor="start" fill="#2a2a2a" transform="translate(260 52.4) scale(0.1 0.1)">0.66</text><text font-size="25" font-weight="normal" text-anchor="end" fill="#2a2a2a" transform="translate(306.1 49) scale(0.1 0.1)">Q2</text><text font-size="25" font-weight="normal" text-anchor="end" fill="#2a2a2a" transform="translate(306.1 52.4) scale(0.1 0.1)">1.26</text><text font-size="25" font-weight="normal" text-anchor="end" fill="#2a2a2a" transform="translate(306.1 98.4) scale(0.1 0.1)">Q3</text><text font-size="25" font-weight="normal" text-anchor="end" fill="#2a2a2a" transform="translate(306.1 102) scale(0.1 0.1)">0.00</text><text font-size="25" font-weight="normal" text-anchor="start" fill="#2a2a2a" transform="translate(260 98.4) scale(0.1 0.1)">Q4</text><text font-size="25" font-weight="normal" text-anchor="start" fill="#2a2a2a" transform="translate(260 102) scale(0.1 0.1)">93.5</text><text font-size="62" font-weight="normal" text-anchor="middle" fill="#0a0a0a" transform="translate(277.7 117.15) scale(0.1 0.1)" stroke="#0a0a0a" stroke-width="2" textLength="269" lengthAdjust="spacingAndGlyphs">Annexin V</text><text font-size="59" font-weight="bold" text-anchor="middle" fill="#050505" transform="translate(277.7 130.9) scale(0.1 0.1)" stroke="#050505" stroke-width="3">- Serum</text></g><g><rect x="47.25" y="139.95" width="69.2" height="97.4" fill="#dfdfdc" stroke="#606060" stroke-width="1.1"/><rect x="50.7" y="149" width="62.4" height="63.5" fill="#e0e0dd" stroke="#3a3a3a" stroke-width=".8"/><rect x="62.9" y="149.2" width="50" height="58.6" fill="#fff"/><clipPath id="cpa4"><rect x="62.9" y="149.2" width="50" height="58.6"/></clipPath><g clip-path="url(#cpa4)"><g transform="translate(62.9 149.2)"><path d="M1.8 33.8C2.7 31.4 6.8 27.8 9.5 24.4C12.2 21 15.4 16.9 18.1 13.3C20.8 9.7 23.5 5.6 25.8 3C28 0.5 30.5 -2.7 31.7 -2.1C33 -1.5 32.7 4.3 33.4 6.4C34.2 8.6 34.6 9.6 36 10.7C37.4 11.9 41 11.7 42 13.3C43 14.9 42.7 18 42 20.1C41.3 22.3 39.3 23.8 37.7 26.1C36.2 28.4 34.7 31.7 32.6 33.8C30.5 35.9 27.3 37.2 24.9 38.9C22.5 40.6 19.9 42.4 18.1 44.1C16.2 45.8 15.2 49.2 13.8 49.2C12.4 49.2 11.1 45.8 9.5 44.1C7.9 42.4 5.7 40.6 4.4 38.9C3.1 37.2 1 36.2 1.8 33.8Z" fill="#000" filter="url(#sp0)"/><path d="M3.8 33C4.6 30.8 8.3 27.6 10.8 24.4C13.3 21.3 16.1 17.6 18.6 14.3C21 11.1 23.5 7.3 25.6 5C27.7 2.7 29.9 -0.2 31 0.4C32.2 0.9 31.9 6.2 32.6 8.1C33.2 10.1 33.6 11 34.9 12C36.2 13 39.4 12.9 40.3 14.3C41.3 15.8 41 18.6 40.3 20.6C39.7 22.5 37.9 23.9 36.5 26C35 28.1 33.7 31.1 31.8 33C29.9 34.9 27 36.1 24.8 37.7C22.6 39.2 20.3 40.8 18.6 42.3C16.9 43.9 16 47 14.7 47C13.4 47 12.2 43.9 10.8 42.3C9.4 40.8 7.3 39.2 6.1 37.7C5 36.1 3 35.2 3.8 33Z" fill="#000" filter="url(#sp3)"/><path d="M9.6 32C10.2 30.6 12.6 28.5 14.2 26.5C15.8 24.4 17.7 22 19.3 19.8C20.9 17.7 22.5 15.3 23.9 13.8C25.2 12.2 26.7 10.4 27.4 10.7C28.2 11 28 14.5 28.5 15.8C28.9 17.1 29.1 17.6 30 18.3C30.8 19 32.9 18.9 33.5 19.8C34.1 20.8 34 22.6 33.5 23.9C33.1 25.2 31.9 26.1 31 27.5C30.1 28.8 29.2 30.8 27.9 32C26.7 33.3 24.8 34.1 23.4 35.1C21.9 36.1 20.4 37.1 19.3 38.1C18.2 39.2 17.6 41.2 16.8 41.2C15.9 41.2 15.2 39.2 14.2 38.1C13.3 37.1 11.9 36.1 11.2 35.1C10.4 34.1 9.1 33.5 9.6 32Z" fill="#000" filter="url(#sq)"/><ellipse cx="20.28" cy="30.82" rx="11.21" ry="2.99" transform="rotate(-20 20.28 30.82)" fill="#3a84d6" opacity="0.9" filter="url(#bl1)"/><ellipse cx="15.05" cy="32.31" rx="4.48" ry="2.84" transform="rotate(0 15.05 32.31)" fill="#2aa6e4" opacity="1" filter="url(#bl1)"/><ellipse cx="25.88" cy="28.95" rx="6.13" ry="4.33" transform="rotate(-15 25.88 28.95)" fill="#2aa6e4" opacity="1" filter="url(#bl1)"/><ellipse cx="15.05" cy="32.31" rx="1.87" ry="1.2" transform="rotate(0 15.05 32.31)" fill="#5cc6e8" opacity="1" filter="url(#bl1)"/><ellipse cx="25.88" cy="28.95" rx="4.33" ry="3.14" transform="rotate(-15 25.88 28.95)" fill="#62c340" opacity="1" filter="url(#bl0)"/><ellipse cx="24.39" cy="27.9" rx="1.94" ry="1.64" transform="rotate(-20 24.39 27.9)" fill="#ece31e" opacity="1" filter="url(#bl0)"/><ellipse cx="24.02" cy="27.45" rx="0.97" ry="0.82" transform="rotate(0 24.02 27.45)" fill="#e6281c" opacity="1" filter="url(#bl0)"/></g></g><path d="M62.9 149V207.8H113.1" fill="none" stroke="#222" stroke-width=".7"/><path d="M62.9 208.25H112.9" stroke="#3a3a3a" stroke-width="1.1" stroke-dasharray="1.3 .5" fill="none"/><path d="M96.26 149.2L94.39 207.8" stroke="#3c3c3c" stroke-width=".55" fill="none"/><path d="M62.9 174.41L94.27 174.21Q103.89 174.11 113 172.92" stroke="#333" stroke-width=".6" fill="none"/><path d="M62.9 149.8h-1.6" stroke="#222" stroke-width=".6"/><text font-size="27" font-weight="bold" text-anchor="end" fill="#3a3a3a" transform="translate(61.6 150.9) scale(0.1 0.1)">10<tspan dy="-10" font-size="19">7</tspan></text><path d="M62.9 157.83h-1.6" stroke="#222" stroke-width=".6"/><text font-size="27" font-weight="bold" text-anchor="end" fill="#3a3a3a" transform="translate(61.6 158.93) scale(0.1 0.1)">10<tspan dy="-10" font-size="19">6</tspan></text><path d="M62.9 165.86h-1.6" stroke="#222" stroke-width=".6"/><text font-size="27" font-weight="bold" text-anchor="end" fill="#3a3a3a" transform="translate(61.6 166.96) scale(0.1 0.1)">10<tspan dy="-10" font-size="19">5</tspan></text><path d="M62.9 173.89h-1.6" stroke="#222" stroke-width=".6"/><text font-size="27" font-weight="bold" text-anchor="end" fill="#3a3a3a" transform="translate(61.6 174.99) scale(0.1 0.1)">10<tspan dy="-10" font-size="19">4</tspan></text><path d="M62.9 181.91h-1.6" stroke="#222" stroke-width=".6"/><text font-size="27" font-weight="bold" text-anchor="end" fill="#3a3a3a" transform="translate(61.6 183.01) scale(0.1 0.1)">10<tspan dy="-10" font-size="19">3</tspan></text><path d="M62.9 189.94h-1.6" stroke="#222" stroke-width=".6"/><text font-size="27" font-weight="bold" text-anchor="end" fill="#3a3a3a" transform="translate(61.6 191.04) scale(0.1 0.1)">10<tspan dy="-10" font-size="19">2</tspan></text><path d="M62.9 197.97h-1.6" stroke="#222" stroke-width=".6"/><text font-size="27" font-weight="bold" text-anchor="end" fill="#3a3a3a" transform="translate(61.6 199.07) scale(0.1 0.1)">10<tspan dy="-10" font-size="19">1</tspan></text><path d="M62.9 206h-1.6" stroke="#222" stroke-width=".6"/><text font-size="27" font-weight="bold" text-anchor="end" fill="#3a3a3a" transform="translate(61.6 207.1) scale(0.1 0.1)">10<tspan dy="-10" font-size="19">0</tspan></text><path d="M65.1 207.8v1.6" stroke="#222" stroke-width=".6"/><text font-size="29" font-weight="bold" text-anchor="middle" fill="#151515" transform="translate(65.7 212.5) rotate(-30) scale(0.1 0.1)">10<tspan dy="-10" font-size="19">2</tspan></text><path d="M78.97 207.8v1.6" stroke="#222" stroke-width=".6"/><text font-size="29" font-weight="bold" text-anchor="middle" fill="#151515" transform="translate(79.57 212.5) rotate(-30) scale(0.1 0.1)">10<tspan dy="-10" font-size="19">3</tspan></text><path d="M92.83 207.8v1.6" stroke="#222" stroke-width=".6"/><text font-size="29" font-weight="bold" text-anchor="middle" fill="#151515" transform="translate(93.43 212.5) rotate(-30) scale(0.1 0.1)">10<tspan dy="-10" font-size="19">4</tspan></text><path d="M106.7 207.8v1.6" stroke="#222" stroke-width=".6"/><text font-size="29" font-weight="bold" text-anchor="middle" fill="#151515" transform="translate(107.3 212.5) rotate(-30) scale(0.1 0.1)">10<tspan dy="-10" font-size="19">5</tspan></text><text font-size="68" font-weight="normal" text-anchor="middle" fill="#111" transform="translate(57.5 180) rotate(-90) scale(0.1 0.1)">PI</text><text font-size="26" font-weight="bold" text-anchor="middle" fill="#444" transform="translate(52.5 179.2) rotate(-90) scale(0.1 0.1)">PE-A :: PI-A</text><text font-size="25" font-weight="normal" text-anchor="start" fill="#2a2a2a" transform="translate(64.2 151.4) scale(0.1 0.1)">Q1</text><text font-size="25" font-weight="normal" text-anchor="start" fill="#2a2a2a" transform="translate(64.2 154.8) scale(0.1 0.1)">0.66</text><text font-size="25" font-weight="normal" text-anchor="end" fill="#2a2a2a" transform="translate(110.3 151.4) scale(0.1 0.1)">Q2</text><text font-size="25" font-weight="normal" text-anchor="end" fill="#2a2a2a" transform="translate(110.3 154.8) scale(0.1 0.1)">1.26</text><text font-size="25" font-weight="normal" text-anchor="end" fill="#2a2a2a" transform="translate(110.3 201.2) scale(0.1 0.1)">Q3</text><text font-size="25" font-weight="normal" text-anchor="end" fill="#2a2a2a" transform="translate(110.3 204.8) scale(0.1 0.1)">0.00</text><text font-size="25" font-weight="normal" text-anchor="start" fill="#2a2a2a" transform="translate(64.2 201.2) scale(0.1 0.1)">Q4</text><text font-size="25" font-weight="normal" text-anchor="start" fill="#2a2a2a" transform="translate(64.2 204.8) scale(0.1 0.1)">93.5</text><text font-size="62" font-weight="normal" text-anchor="middle" fill="#0a0a0a" transform="translate(81.85 219.1) scale(0.1 0.1)" stroke="#0a0a0a" stroke-width="2" textLength="269" lengthAdjust="spacingAndGlyphs">Annexin V</text><text font-size="59" font-weight="bold" text-anchor="middle" fill="#050505" transform="translate(81.85 234.4) scale(0.1 0.1)" stroke="#050505" stroke-width="3">- Serum/ H<tspan dy="19" font-size="36">2</tspan><tspan dy="-19">O</tspan><tspan dy="19" font-size="36">2</tspan></text></g><g><rect x="126.05" y="139.95" width="69.2" height="97.4" fill="#dfdfdc" stroke="#606060" stroke-width="1.1"/><rect x="129.5" y="149" width="62.4" height="63.5" fill="#e0e0dd" stroke="#3a3a3a" stroke-width=".8"/><rect x="141.7" y="149.2" width="50" height="58.6" fill="#fff"/><clipPath id="cpa5"><rect x="141.7" y="149.2" width="50" height="58.6"/></clipPath><g clip-path="url(#cpa5)"><g transform="translate(141.7 149.2)"><path d="M-0.4 33.7C0.6 31.4 7 28.3 9.8 25.2C12.7 22 14.1 18.5 16.7 14.9C19.2 11.4 22.8 6.7 25.2 3.8C27.7 1 29.9 -2.6 31.2 -2.2C32.5 -1.8 32.2 4.1 32.9 6.4C33.6 8.6 34.6 9.9 35.5 11.5C36.3 13.1 37.5 14.1 38.1 15.8C38.6 17.5 39.1 19.8 38.9 21.8C38.8 23.8 38.2 25.7 37.2 27.7C36.2 29.7 34.9 31.9 32.9 33.7C30.9 35.6 27.7 37.1 25.2 38.9C22.8 40.6 20.2 42.3 18.4 44C16.5 45.7 15.5 49.1 14.1 49.1C12.7 49.1 11.6 45.7 9.8 44C8.1 42.3 5.6 40.6 3.9 38.9C2.1 37.1 -1.4 36 -0.4 33.7Z" fill="#000" filter="url(#sp0)"/><path d="M1.7 33C2.6 30.9 8.5 28.1 11 25.2C13.6 22.4 14.9 19.1 17.3 15.9C19.6 12.6 22.8 8.4 25 5.8C27.2 3.2 29.3 -0.1 30.5 0.3C31.6 0.7 31.4 6 32 8.1C32.7 10.2 33.6 11.3 34.4 12.8C35.1 14.2 36.2 15.1 36.7 16.7C37.2 18.2 37.6 20.3 37.5 22.1C37.3 23.9 36.8 25.7 35.9 27.5C35 29.3 33.8 31.3 32 33C30.2 34.7 27.2 36.1 25 37.6C22.8 39.2 20.5 40.7 18.8 42.3C17.1 43.9 16.2 47 14.9 47C13.6 47 12.6 43.9 11 42.3C9.5 40.7 7.2 39.2 5.6 37.6C4.1 36.1 0.8 35 1.7 33Z" fill="#000" filter="url(#sp3)"/><path d="M8.2 32.1C8.8 30.7 12.6 28.8 14.3 27C16 25.1 16.9 23 18.4 20.9C19.9 18.8 22 16 23.5 14.3C24.9 12.6 26.3 10.5 27 10.7C27.8 11 27.6 14.4 28.1 15.8C28.5 17.2 29.1 17.9 29.6 18.8C30.1 19.8 30.8 20.4 31.1 21.4C31.5 22.4 31.7 23.8 31.6 24.9C31.5 26.1 31.2 27.3 30.6 28.5C30 29.7 29.2 31 28.1 32.1C26.9 33.2 24.9 34.1 23.5 35.1C22 36.1 20.5 37.1 19.4 38.2C18.3 39.2 17.7 41.2 16.9 41.2C16 41.2 15.4 39.2 14.3 38.2C13.3 37.1 11.8 36.1 10.8 35.1C9.8 34.1 7.6 33.4 8.2 32.1Z" fill="#000" filter="url(#sq)"/><ellipse cx="20.48" cy="30.82" rx="11.21" ry="2.84" transform="rotate(-15 20.48 30.82)" fill="#3a84d6" opacity="0.9" filter="url(#bl1)"/><ellipse cx="14.5" cy="32.31" rx="4.19" ry="2.99" transform="rotate(0 14.5 32.31)" fill="#2aa6e4" opacity="1" filter="url(#bl1)"/><ellipse cx="26.08" cy="29.1" rx="6.88" ry="3.89" transform="rotate(-8 26.08 29.1)" fill="#2aa6e4" opacity="1" filter="url(#bl1)"/><ellipse cx="14.5" cy="32.31" rx="1.35" ry="0.97" transform="rotate(0 14.5 32.31)" fill="#8fd66a" opacity="0.8" filter="url(#bl0)"/><ellipse cx="24.96" cy="28.57" rx="5.08" ry="2.84" transform="rotate(-10 24.96 28.57)" fill="#62c340" opacity="1" filter="url(#bl0)"/><ellipse cx="30.2" cy="29.1" rx="1.64" ry="1.64" transform="rotate(0 30.2 29.1)" fill="#62c340" opacity="0.8" filter="url(#bl0)"/><ellipse cx="23.1" cy="28.2" rx="2.09" ry="1.72" transform="rotate(0 23.1 28.2)" fill="#ece31e" opacity="1" filter="url(#bl0)"/><ellipse cx="22.72" cy="28.05" rx="0.97" ry="0.82" transform="rotate(0 22.72 28.05)" fill="#e6281c" opacity="1" filter="url(#bl0)"/></g></g><path d="M141.7 149V207.8H191.9" fill="none" stroke="#222" stroke-width=".7"/><path d="M141.7 208.25H191.7" stroke="#3a3a3a" stroke-width="1.1" stroke-dasharray="1.3 .5" fill="none"/><path d="M174.88 149.2L173.76 207.8" stroke="#3c3c3c" stroke-width=".55" fill="none"/><path d="M141.7 174.41L173.07 174.21Q182.69 174.11 191.8 172.92" stroke="#333" stroke-width=".6" fill="none"/><path d="M141.7 149.8h-1.6" stroke="#222" stroke-width=".6"/><text font-size="27" font-weight="bold" text-anchor="end" fill="#3a3a3a" transform="translate(140.4 150.9) scale(0.1 0.1)">10<tspan dy="-10" font-size="19">7</tspan></text><path d="M141.7 157.83h-1.6" stroke="#222" stroke-width=".6"/><text font-size="27" font-weight="bold" text-anchor="end" fill="#3a3a3a" transform="translate(140.4 158.93) scale(0.1 0.1)">10<tspan dy="-10" font-size="19">6</tspan></text><path d="M141.7 165.86h-1.6" stroke="#222" stroke-width=".6"/><text font-size="27" font-weight="bold" text-anchor="end" fill="#3a3a3a" transform="translate(140.4 166.96) scale(0.1 0.1)">10<tspan dy="-10" font-size="19">5</tspan></text><path d="M141.7 173.89h-1.6" stroke="#222" stroke-width=".6"/><text font-size="27" font-weight="bold" text-anchor="end" fill="#3a3a3a" transform="translate(140.4 174.99) scale(0.1 0.1)">10<tspan dy="-10" font-size="19">4</tspan></text><path d="M141.7 181.91h-1.6" stroke="#222" stroke-width=".6"/><text font-size="27" font-weight="bold" text-anchor="end" fill="#3a3a3a" transform="translate(140.4 183.01) scale(0.1 0.1)">10<tspan dy="-10" font-size="19">3</tspan></text><path d="M141.7 189.94h-1.6" stroke="#222" stroke-width=".6"/><text font-size="27" font-weight="bold" text-anchor="end" fill="#3a3a3a" transform="translate(140.4 191.04) scale(0.1 0.1)">10<tspan dy="-10" font-size="19">2</tspan></text><path d="M141.7 197.97h-1.6" stroke="#222" stroke-width=".6"/><text font-size="27" font-weight="bold" text-anchor="end" fill="#3a3a3a" transform="translate(140.4 199.07) scale(0.1 0.1)">10<tspan dy="-10" font-size="19">1</tspan></text><path d="M141.7 206h-1.6" stroke="#222" stroke-width=".6"/><text font-size="27" font-weight="bold" text-anchor="end" fill="#3a3a3a" transform="translate(140.4 207.1) scale(0.1 0.1)">10<tspan dy="-10" font-size="19">0</tspan></text><path d="M143.9 207.8v1.6" stroke="#222" stroke-width=".6"/><text font-size="29" font-weight="bold" text-anchor="middle" fill="#151515" transform="translate(144.5 212.5) rotate(-30) scale(0.1 0.1)">10<tspan dy="-10" font-size="19">2</tspan></text><path d="M157.77 207.8v1.6" stroke="#222" stroke-width=".6"/><text font-size="29" font-weight="bold" text-anchor="middle" fill="#151515" transform="translate(158.37 212.5) rotate(-30) scale(0.1 0.1)">10<tspan dy="-10" font-size="19">3</tspan></text><path d="M171.63 207.8v1.6" stroke="#222" stroke-width=".6"/><text font-size="29" font-weight="bold" text-anchor="middle" fill="#151515" transform="translate(172.23 212.5) rotate(-30) scale(0.1 0.1)">10<tspan dy="-10" font-size="19">4</tspan></text><path d="M185.5 207.8v1.6" stroke="#222" stroke-width=".6"/><text font-size="29" font-weight="bold" text-anchor="middle" fill="#151515" transform="translate(186.1 212.5) rotate(-30) scale(0.1 0.1)">10<tspan dy="-10" font-size="19">5</tspan></text><text font-size="68" font-weight="normal" text-anchor="middle" fill="#111" transform="translate(136.3 180) rotate(-90) scale(0.1 0.1)">PI</text><text font-size="26" font-weight="bold" text-anchor="middle" fill="#444" transform="translate(131.3 179.2) rotate(-90) scale(0.1 0.1)">PE-A :: PI-A</text><text font-size="25" font-weight="normal" text-anchor="start" fill="#2a2a2a" transform="translate(143 151.4) scale(0.1 0.1)">Q1</text><text font-size="25" font-weight="normal" text-anchor="start" fill="#2a2a2a" transform="translate(143 154.8) scale(0.1 0.1)">0.66</text><text font-size="25" font-weight="normal" text-anchor="end" fill="#2a2a2a" transform="translate(189.1 151.4) scale(0.1 0.1)">Q2</text><text font-size="25" font-weight="normal" text-anchor="end" fill="#2a2a2a" transform="translate(189.1 154.8) scale(0.1 0.1)">1.26</text><text font-size="25" font-weight="normal" text-anchor="end" fill="#2a2a2a" transform="translate(189.1 201.2) scale(0.1 0.1)">Q3</text><text font-size="25" font-weight="normal" text-anchor="end" fill="#2a2a2a" transform="translate(189.1 204.8) scale(0.1 0.1)">0.00</text><text font-size="25" font-weight="normal" text-anchor="start" fill="#2a2a2a" transform="translate(143 201.2) scale(0.1 0.1)">Q4</text><text font-size="25" font-weight="normal" text-anchor="start" fill="#2a2a2a" transform="translate(143 204.8) scale(0.1 0.1)">93.5</text><text font-size="62" font-weight="normal" text-anchor="middle" fill="#0a0a0a" transform="translate(160.65 219.1) scale(0.1 0.1)" stroke="#0a0a0a" stroke-width="2" textLength="269" lengthAdjust="spacingAndGlyphs">Annexin V</text><text font-size="59" font-weight="bold" text-anchor="middle" fill="#050505" transform="translate(160.65 234.4) scale(0.1 0.1)" stroke="#050505" stroke-width="3">- Serum/ H<tspan dy="19" font-size="36">2</tspan><tspan dy="-19">O</tspan><tspan dy="19" font-size="36">2</tspan><tspan dy="-19"> + NAC</tspan></text></g><g><rect x="204.25" y="139.95" width="69.2" height="97.4" fill="#dfdfdc" stroke="#606060" stroke-width="1.1"/><rect x="207.7" y="149" width="62.4" height="63.5" fill="#e0e0dd" stroke="#3a3a3a" stroke-width=".8"/><rect x="219.9" y="149.2" width="50" height="58.6" fill="#fff"/><clipPath id="cpa6"><rect x="219.9" y="149.2" width="50" height="58.6"/></clipPath><g clip-path="url(#cpa6)"><g transform="translate(219.9 149.2)"><path d="M4 33.5C5.4 31.3 15.3 28.6 18 25.3C20.7 22 18.7 17.2 20.5 13.8C22.3 10.3 26.4 5.7 28.7 4.7C31 3.8 32.3 7 34.4 8C36.6 9 40.5 8.8 41.8 10.5C43.2 12.1 43.2 15.3 42.7 17.9C42.1 20.5 40.1 22.9 38.6 26.1C37.1 29.2 35.3 34.2 33.6 36.8C32 39.4 31.3 41.4 28.7 41.7C26.1 42 21.2 39 18 38.4C14.9 37.9 12.1 39.2 9.8 38.4C7.5 37.6 2.7 35.7 4 33.5Z" fill="#000" filter="url(#sp0)"/><path d="M7.7 32C8.9 30.2 17.1 27.9 19.4 25.2C21.7 22.4 20 18.4 21.5 15.5C23 12.7 26.4 8.8 28.3 8C30.3 7.2 31.3 9.9 33.2 10.7C35 11.5 38.2 11.4 39.3 12.8C40.5 14.2 40.5 16.8 40 19C39.6 21.2 37.9 23.2 36.6 25.8C35.3 28.5 33.8 32.6 32.5 34.8C31.1 37 30.5 38.7 28.3 38.9C26.2 39.1 22 36.6 19.4 36.2C16.8 35.7 14.5 36.9 12.5 36.2C10.6 35.5 6.6 33.9 7.7 32Z" fill="#000" filter="url(#sp2)" opacity=".8"/><path d="M7.6 32.7C7.6 31.7 12.6 30.6 15 29.7C17.5 28.8 20.5 28.7 22.5 27.5C24.5 26.2 26 24.1 27 22.2C28 20.4 27.8 17.9 28.5 16.2C29.2 14.6 30.4 12.9 31.5 12.5C32.6 12.1 34.2 13 35.2 14C36.2 15 37.2 16.7 37.5 18.5C37.7 20.2 37.2 22.6 36.7 24.5C36.2 26.3 35.2 28 34.5 29.7C33.7 31.4 33.2 33.7 32.2 34.9C31.2 36.2 30.1 37.2 28.5 37.2C26.9 37.2 24.8 35.2 22.5 34.9C20.3 34.7 17.5 36 15 35.7C12.6 35.3 7.6 33.7 7.6 32.7Z" fill="#000" filter="url(#sp1)"/><path d="M15.1 30.3C15.1 29.7 18.5 28.9 20.1 28.3C21.8 27.7 23.9 27.6 25.2 26.8C26.6 25.9 27.6 24.5 28.3 23.2C29 21.9 28.8 20.3 29.3 19.2C29.8 18.1 30.6 16.9 31.3 16.6C32.1 16.4 33.2 16.9 33.9 17.6C34.5 18.3 35.2 19.5 35.4 20.7C35.6 21.9 35.2 23.5 34.9 24.7C34.5 26 33.9 27.1 33.4 28.3C32.9 29.5 32.5 31 31.8 31.9C31.2 32.7 30.4 33.4 29.3 33.4C28.2 33.4 26.8 32 25.2 31.9C23.7 31.7 21.8 32.6 20.1 32.4C18.5 32.1 15.1 31 15.1 30.3Z" fill="#000" filter="url(#sq)"/><ellipse cx="31.49" cy="24.84" rx="3.89" ry="10.46" transform="rotate(8 31.49 24.84)" fill="#2aa6e4" opacity="1" filter="url(#bl1)"/><ellipse cx="31.49" cy="19.98" rx="1.94" ry="4.48" transform="rotate(8 31.49 19.98)" fill="#62c340" opacity="1" filter="url(#bl0)"/><ellipse cx="30" cy="31.19" rx="2.84" ry="3.29" transform="rotate(10 30 31.19)" fill="#62c340" opacity="1" filter="url(#bl0)"/><ellipse cx="30.14" cy="30.82" rx="1.42" ry="1.79" transform="rotate(10 30.14 30.82)" fill="#ece31e" opacity="1" filter="url(#bl0)"/><ellipse cx="29.4" cy="18.11" rx="0.82" ry="1.94" transform="rotate(35 29.4 18.11)" fill="#f39a1c" opacity="1" filter="url(#bl0)"/><ellipse cx="29.25" cy="17.96" rx="0.45" ry="1.2" transform="rotate(35 29.25 17.96)" fill="#e6281c" opacity="1" filter="url(#bl0)"/></g></g><path d="M219.9 149V207.8H270.1" fill="none" stroke="#222" stroke-width=".7"/><path d="M219.9 208.25H269.9" stroke="#3a3a3a" stroke-width="1.1" stroke-dasharray="1.3 .5" fill="none"/><path d="M252.88 149.2L251.39 207.8" stroke="#3c3c3c" stroke-width=".55" fill="none"/><path d="M219.9 174.41L251.27 174.21Q260.89 174.11 270 172.92" stroke="#333" stroke-width=".6" fill="none"/><path d="M219.9 149.8h-1.6" stroke="#222" stroke-width=".6"/><text font-size="27" font-weight="bold" text-anchor="end" fill="#3a3a3a" transform="translate(218.6 150.9) scale(0.1 0.1)">10<tspan dy="-10" font-size="19">7</tspan></text><path d="M219.9 157.83h-1.6" stroke="#222" stroke-width=".6"/><text font-size="27" font-weight="bold" text-anchor="end" fill="#3a3a3a" transform="translate(218.6 158.93) scale(0.1 0.1)">10<tspan dy="-10" font-size="19">6</tspan></text><path d="M219.9 165.86h-1.6" stroke="#222" stroke-width=".6"/><text font-size="27" font-weight="bold" text-anchor="end" fill="#3a3a3a" transform="translate(218.6 166.96) scale(0.1 0.1)">10<tspan dy="-10" font-size="19">5</tspan></text><path d="M219.9 173.89h-1.6" stroke="#222" stroke-width=".6"/><text font-size="27" font-weight="bold" text-anchor="end" fill="#3a3a3a" transform="translate(218.6 174.99) scale(0.1 0.1)">10<tspan dy="-10" font-size="19">4</tspan></text><path d="M219.9 181.91h-1.6" stroke="#222" stroke-width=".6"/><text font-size="27" font-weight="bold" text-anchor="end" fill="#3a3a3a" transform="translate(218.6 183.01) scale(0.1 0.1)">10<tspan dy="-10" font-size="19">3</tspan></text><path d="M219.9 189.94h-1.6" stroke="#222" stroke-width=".6"/><text font-size="27" font-weight="bold" text-anchor="end" fill="#3a3a3a" transform="translate(218.6 191.04) scale(0.1 0.1)">10<tspan dy="-10" font-size="19">2</tspan></text><path d="M219.9 197.97h-1.6" stroke="#222" stroke-width=".6"/><text font-size="27" font-weight="bold" text-anchor="end" fill="#3a3a3a" transform="translate(218.6 199.07) scale(0.1 0.1)">10<tspan dy="-10" font-size="19">1</tspan></text><path d="M219.9 206h-1.6" stroke="#222" stroke-width=".6"/><text font-size="27" font-weight="bold" text-anchor="end" fill="#3a3a3a" transform="translate(218.6 207.1) scale(0.1 0.1)">10<tspan dy="-10" font-size="19">0</tspan></text><path d="M222.1 207.8v1.6" stroke="#222" stroke-width=".6"/><text font-size="29" font-weight="bold" text-anchor="middle" fill="#151515" transform="translate(222.7 212.5) rotate(-30) scale(0.1 0.1)">10<tspan dy="-10" font-size="19">2</tspan></text><path d="M235.97 207.8v1.6" stroke="#222" stroke-width=".6"/><text font-size="29" font-weight="bold" text-anchor="middle" fill="#151515" transform="translate(236.57 212.5) rotate(-30) scale(0.1 0.1)">10<tspan dy="-10" font-size="19">3</tspan></text><path d="M249.83 207.8v1.6" stroke="#222" stroke-width=".6"/><text font-size="29" font-weight="bold" text-anchor="middle" fill="#151515" transform="translate(250.43 212.5) rotate(-30) scale(0.1 0.1)">10<tspan dy="-10" font-size="19">4</tspan></text><path d="M263.7 207.8v1.6" stroke="#222" stroke-width=".6"/><text font-size="29" font-weight="bold" text-anchor="middle" fill="#151515" transform="translate(264.3 212.5) rotate(-30) scale(0.1 0.1)">10<tspan dy="-10" font-size="19">5</tspan></text><text font-size="68" font-weight="normal" text-anchor="middle" fill="#111" transform="translate(214.5 180) rotate(-90) scale(0.1 0.1)">PI</text><text font-size="26" font-weight="bold" text-anchor="middle" fill="#444" transform="translate(209.5 179.2) rotate(-90) scale(0.1 0.1)">PE-A :: PI-A</text><text font-size="25" font-weight="normal" text-anchor="start" fill="#2a2a2a" transform="translate(221.2 151.4) scale(0.1 0.1)">Q1</text><text font-size="25" font-weight="normal" text-anchor="start" fill="#2a2a2a" transform="translate(221.2 154.8) scale(0.1 0.1)">0.66</text><text font-size="25" font-weight="normal" text-anchor="end" fill="#2a2a2a" transform="translate(267.3 151.4) scale(0.1 0.1)">Q2</text><text font-size="25" font-weight="normal" text-anchor="end" fill="#2a2a2a" transform="translate(267.3 154.8) scale(0.1 0.1)">1.26</text><text font-size="25" font-weight="normal" text-anchor="end" fill="#2a2a2a" transform="translate(267.3 201.2) scale(0.1 0.1)">Q3</text><text font-size="25" font-weight="normal" text-anchor="end" fill="#2a2a2a" transform="translate(267.3 204.8) scale(0.1 0.1)">0.00</text><text font-size="25" font-weight="normal" text-anchor="start" fill="#2a2a2a" transform="translate(221.2 201.2) scale(0.1 0.1)">Q4</text><text font-size="25" font-weight="normal" text-anchor="start" fill="#2a2a2a" transform="translate(221.2 204.8) scale(0.1 0.1)">93.5</text><text font-size="62" font-weight="normal" text-anchor="middle" fill="#0a0a0a" transform="translate(238.85 219.1) scale(0.1 0.1)" stroke="#0a0a0a" stroke-width="2" textLength="269" lengthAdjust="spacingAndGlyphs">Annexin V</text><text font-size="59" font-weight="bold" text-anchor="middle" fill="#050505" transform="translate(238.85 234.4) scale(0.1 0.1)" stroke="#050505" stroke-width="3">Doxo</text></g><g><rect x="343.75" y="33.65" width="71.8" height="98" fill="#eaeaea" stroke="#5a5a5a" stroke-width="1.1"/><rect x="347.1" y="38.5" width="65.2" height="76.9" fill="#e3e3e3" stroke="#3a3a3a" stroke-width=".8"/><rect x="359.4" y="38.7" width="52.7" height="70" fill="#fff"/><clipPath id="cpb0"><rect x="359.4" y="38.7" width="52.7" height="70"/></clipPath><g clip-path="url(#cpb0)"><g transform="translate(359.4 38.7)"><path d="M6.4 43.9C6.9 41.3 10.4 37.3 12.7 33.4C14.9 29.6 17.7 25.1 20 20.9C22.2 16.7 24.8 11.2 26.2 8.4C27.6 5.6 27.5 3.3 28.3 4.2C29.2 5.1 29.5 11.2 31.5 13.6C33.4 16 38.1 16.7 39.8 18.8C41.5 20.9 42.1 23.5 41.9 26.1C41.7 28.7 40.5 31.7 38.8 34.5C37 37.3 34.2 40.4 31.5 42.8C28.7 45.3 24.8 47.7 22.1 49.1C19.3 50.5 16.8 51.2 14.8 51.2C12.7 51.2 10.9 50.3 9.5 49.1C8.1 47.9 5.9 46.5 6.4 43.9Z" fill="#000" filter="url(#sp0)"/><path d="M8.1 42.7C8.6 40.3 11.7 36.6 13.8 33.2C15.8 29.7 18.4 25.6 20.4 21.8C22.5 18 24.8 12.9 26.1 10.4C27.4 7.9 27.2 5.8 28 6.6C28.8 7.4 29.1 12.9 30.9 15.1C32.6 17.4 36.9 18 38.5 19.9C40 21.8 40.5 24.2 40.3 26.5C40.2 28.9 39.1 31.6 37.5 34.1C35.9 36.6 33.4 39.5 30.9 41.7C28.3 43.9 24.8 46.1 22.3 47.4C19.8 48.7 17.6 49.3 15.7 49.3C13.8 49.3 12.2 48.5 10.9 47.4C9.7 46.3 7.6 45 8.1 42.7Z" fill="#000" filter="url(#sp1)"/><path d="M16 39.5C16 37.3 20.1 31.7 22.4 29.4C24.7 27.1 27.7 25.8 29.7 25.8C31.7 25.8 34.3 27.6 34.3 29.4C34.3 31.2 31.7 34.6 29.7 36.7C27.7 38.8 24.7 41.7 22.4 42.2C20.1 42.6 16 41.6 16 39.5Z" fill="#000" filter="url(#sq)"/><ellipse cx="24.7" cy="32.88" rx="5.66" ry="2.74" transform="rotate(-48 24.7 32.88)" fill="#2aa6e4" opacity="1" filter="url(#bl1)"/><ellipse cx="25.15" cy="32.61" rx="3.83" ry="1.83" transform="rotate(-48 25.15 32.61)" fill="#62c340" opacity="1" filter="url(#bl0)"/><ellipse cx="25.43" cy="32.34" rx="2.46" ry="1.19" transform="rotate(-48 25.43 32.34)" fill="#ece31e" opacity="1" filter="url(#bl0)"/><ellipse cx="25.61" cy="32.15" rx="1.19" ry="0.73" transform="rotate(-48 25.61 32.15)" fill="#e6281c" opacity="1" filter="url(#bl0)"/></g></g><path d="M359.4 38.5V108.7H412.3" fill="none" stroke="#222" stroke-width=".7"/><path d="M359.4 109.15H412.1" stroke="#3a3a3a" stroke-width="1.1" stroke-dasharray="1.3 .5" fill="none"/><path d="M393.5 38.7L392.31 108.7" stroke="#3c3c3c" stroke-width=".55" fill="none"/><path d="M359.4 65.83L392.45 65.63Q402.57 65.53 412.2 64.01" stroke="#333" stroke-width=".6" fill="none"/><path d="M359.4 39.3h-1.6" stroke="#222" stroke-width=".6"/><text font-size="27" font-weight="bold" text-anchor="end" fill="#3a3a3a" transform="translate(358.1 40.4) scale(0.1 0.1)">10<tspan dy="-10" font-size="19">7</tspan></text><path d="M359.4 48.96h-1.6" stroke="#222" stroke-width=".6"/><text font-size="27" font-weight="bold" text-anchor="end" fill="#3a3a3a" transform="translate(358.1 50.06) scale(0.1 0.1)">10<tspan dy="-10" font-size="19">6</tspan></text><path d="M359.4 58.61h-1.6" stroke="#222" stroke-width=".6"/><text font-size="27" font-weight="bold" text-anchor="end" fill="#3a3a3a" transform="translate(358.1 59.71) scale(0.1 0.1)">10<tspan dy="-10" font-size="19">5</tspan></text><path d="M359.4 68.27h-1.6" stroke="#222" stroke-width=".6"/><text font-size="27" font-weight="bold" text-anchor="end" fill="#3a3a3a" transform="translate(358.1 69.37) scale(0.1 0.1)">10<tspan dy="-10" font-size="19">4</tspan></text><path d="M359.4 77.93h-1.6" stroke="#222" stroke-width=".6"/><text font-size="27" font-weight="bold" text-anchor="end" fill="#3a3a3a" transform="translate(358.1 79.03) scale(0.1 0.1)">10<tspan dy="-10" font-size="19">3</tspan></text><path d="M359.4 87.59h-1.6" stroke="#222" stroke-width=".6"/><text font-size="27" font-weight="bold" text-anchor="end" fill="#3a3a3a" transform="translate(358.1 88.69) scale(0.1 0.1)">10<tspan dy="-10" font-size="19">2</tspan></text><path d="M359.4 97.24h-1.6" stroke="#222" stroke-width=".6"/><text font-size="27" font-weight="bold" text-anchor="end" fill="#3a3a3a" transform="translate(358.1 98.34) scale(0.1 0.1)">10<tspan dy="-10" font-size="19">1</tspan></text><path d="M359.4 106.9h-1.6" stroke="#222" stroke-width=".6"/><text font-size="27" font-weight="bold" text-anchor="end" fill="#3a3a3a" transform="translate(358.1 108) scale(0.1 0.1)">10<tspan dy="-10" font-size="19">0</tspan></text><path d="M361.6 108.7v1.6" stroke="#222" stroke-width=".6"/><text font-size="29" font-weight="bold" text-anchor="middle" fill="#151515" transform="translate(362.2 113.4) rotate(-30) scale(0.1 0.1)">10<tspan dy="-10" font-size="19">2</tspan></text><path d="M376.37 108.7v1.6" stroke="#222" stroke-width=".6"/><text font-size="29" font-weight="bold" text-anchor="middle" fill="#151515" transform="translate(376.97 113.4) rotate(-30) scale(0.1 0.1)">10<tspan dy="-10" font-size="19">3</tspan></text><path d="M391.13 108.7v1.6" stroke="#222" stroke-width=".6"/><text font-size="29" font-weight="bold" text-anchor="middle" fill="#151515" transform="translate(391.73 113.4) rotate(-30) scale(0.1 0.1)">10<tspan dy="-10" font-size="19">4</tspan></text><path d="M405.9 108.7v1.6" stroke="#222" stroke-width=".6"/><text font-size="29" font-weight="bold" text-anchor="middle" fill="#151515" transform="translate(406.5 113.4) rotate(-30) scale(0.1 0.1)">10<tspan dy="-10" font-size="19">5</tspan></text><text font-size="60" font-weight="normal" text-anchor="middle" fill="#111" transform="translate(354.3 75.2) rotate(-90) scale(0.1 0.1)">PI</text><text font-size="26" font-weight="bold" text-anchor="middle" fill="#444" transform="translate(348.9 74.4) rotate(-90) scale(0.1 0.1)">PE-A :: PI-A</text><text font-size="25" font-weight="normal" text-anchor="start" fill="#2a2a2a" transform="translate(360.7 40.9) scale(0.1 0.1)">Q1</text><text font-size="25" font-weight="normal" text-anchor="start" fill="#2a2a2a" transform="translate(360.7 44.3) scale(0.1 0.1)">0.66</text><text font-size="25" font-weight="normal" text-anchor="end" fill="#2a2a2a" transform="translate(409.5 40.9) scale(0.1 0.1)">Q2</text><text font-size="25" font-weight="normal" text-anchor="end" fill="#2a2a2a" transform="translate(409.5 44.3) scale(0.1 0.1)">1.26</text><text font-size="25" font-weight="normal" text-anchor="end" fill="#2a2a2a" transform="translate(409.5 102.1) scale(0.1 0.1)">Q3</text><text font-size="25" font-weight="normal" text-anchor="end" fill="#2a2a2a" transform="translate(409.5 105.7) scale(0.1 0.1)">0.00</text><text font-size="25" font-weight="normal" text-anchor="start" fill="#2a2a2a" transform="translate(360.7 102.1) scale(0.1 0.1)">Q4</text><text font-size="25" font-weight="normal" text-anchor="start" fill="#2a2a2a" transform="translate(360.7 105.7) scale(0.1 0.1)">93.5</text><text font-size="62" font-weight="normal" text-anchor="middle" fill="#0a0a0a" transform="translate(379.65 121.7) scale(0.1 0.1)" stroke="#0a0a0a" stroke-width="2" textLength="269" lengthAdjust="spacingAndGlyphs">Annexin V</text><text font-size="59" font-weight="bold" text-anchor="middle" fill="#050505" transform="translate(379.65 128.8) scale(0.1 0.1)" stroke="#050505" stroke-width="3">+ Serum</text></g><g><rect x="427.25" y="33.65" width="71.8" height="98" fill="#eaeaea" stroke="#5a5a5a" stroke-width="1.1"/><rect x="430.6" y="38.5" width="65.2" height="76.9" fill="#e3e3e3" stroke="#3a3a3a" stroke-width=".8"/><rect x="442.9" y="38.7" width="52.7" height="70" fill="#fff"/><clipPath id="cpb1"><rect x="442.9" y="38.7" width="52.7" height="70"/></clipPath><g clip-path="url(#cpb1)"><g transform="translate(442.9 38.7)"><path d="M7.6 38.9C8.3 36 11.5 30.7 13.9 26.4C16.3 22 19.6 16.3 22.2 12.8C24.9 9.3 26.9 6.9 29.6 5.5C32.2 4.1 35.5 3.4 37.9 4.5C40.3 5.5 42.8 9.3 44.2 11.8C45.6 14.2 46.4 16.3 46.3 19.1C46.1 21.9 44.7 25.5 43.1 28.5C41.6 31.4 39.1 34.1 36.9 36.8C34.6 39.6 32 42.9 29.6 45.2C27.1 47.4 24.7 49.9 22.2 50.4C19.8 50.9 17 49.4 14.9 48.3C12.9 47.3 10.9 45.7 9.7 44.1C8.5 42.6 6.9 41.9 7.6 38.9Z" fill="#000" filter="url(#sp0)"/><path d="M9.4 38C10.1 35.3 12.9 30.6 15.1 26.6C17.4 22.6 20.4 17.4 22.7 14.3C25.1 11.1 27 8.9 29.4 7.6C31.7 6.4 34.8 5.7 37 6.7C39.2 7.6 41.4 11.1 42.7 13.3C43.9 15.5 44.7 17.4 44.6 20C44.4 22.5 43.1 25.8 41.7 28.5C40.3 31.2 38.1 33.6 36 36.1C34 38.6 31.6 41.6 29.4 43.7C27.2 45.7 24.9 48 22.7 48.4C20.5 48.9 18 47.5 16.1 46.5C14.2 45.6 12.4 44.2 11.3 42.7C10.2 41.3 8.8 40.7 9.4 38Z" fill="#000" filter="url(#sp1)"/><path d="M17 33.2C17.3 31.7 19 29 20.3 26.7C21.5 24.4 23.3 21.4 24.6 19.6C26 17.7 27.1 16.5 28.5 15.7C29.8 15 31.6 14.6 32.9 15.2C34.1 15.7 35.4 17.7 36.1 19C36.9 20.3 37.3 21.4 37.2 22.8C37.1 24.3 36.4 26.2 35.6 27.8C34.8 29.3 33.5 30.7 32.3 32.2C31.1 33.6 29.8 35.3 28.5 36.5C27.2 37.7 25.9 39 24.6 39.3C23.4 39.5 21.9 38.7 20.8 38.2C19.7 37.6 18.7 36.8 18.1 36C17.4 35.2 16.6 34.8 17 33.2Z" fill="#000" filter="url(#sq)"/><ellipse cx="25.2" cy="30.78" rx="14.6" ry="6.21" transform="rotate(-50 25.2 30.78)" fill="#2aa6e4" opacity="1" filter="url(#bl1)"/><ellipse cx="32.22" cy="14.81" rx="1.46" ry="7.76" transform="rotate(0 32.22 14.81)" fill="#2aa6e4" opacity="1" filter="url(#bl1)"/><ellipse cx="24.28" cy="34.43" rx="8.67" ry="3.47" transform="rotate(-38 24.28 34.43)" fill="#62c340" opacity="1" filter="url(#bl0)"/><ellipse cx="29.3" cy="26.68" rx="6.39" ry="2.37" transform="rotate(-55 29.3 26.68)" fill="#62c340" opacity="1" filter="url(#bl0)"/><ellipse cx="32.04" cy="16.64" rx="0.73" ry="5.48" transform="rotate(0 32.04 16.64)" fill="#62c340" opacity="0.8" filter="url(#bl0)"/><ellipse cx="27.48" cy="28.5" rx="6.84" ry="1.83" transform="rotate(-52 27.48 28.5)" fill="#ece31e" opacity="1" filter="url(#bl0)"/><ellipse cx="30.67" cy="23.76" rx="2.92" ry="1.55" transform="rotate(-55 30.67 23.76)" fill="#f39a1c" opacity="1" filter="url(#bl0)"/><ellipse cx="31.86" cy="21.93" rx="1.37" ry="2.37" transform="rotate(10 31.86 21.93)" fill="#e6281c" opacity="1" filter="url(#bl0)"/></g></g><path d="M442.9 38.5V108.7H495.8" fill="none" stroke="#222" stroke-width=".7"/><path d="M442.9 109.15H495.6" stroke="#3a3a3a" stroke-width="1.1" stroke-dasharray="1.3 .5" fill="none"/><path d="M477.5 38.7L475.4 108.7" stroke="#3c3c3c" stroke-width=".55" fill="none"/><path d="M442.9 66.29L475.95 66.09Q486.07 65.99 495.7 64.01" stroke="#333" stroke-width=".6" fill="none"/><path d="M442.9 39.3h-1.6" stroke="#222" stroke-width=".6"/><text font-size="27" font-weight="bold" text-anchor="end" fill="#3a3a3a" transform="translate(441.6 40.4) scale(0.1 0.1)">10<tspan dy="-10" font-size="19">7</tspan></text><path d="M442.9 48.96h-1.6" stroke="#222" stroke-width=".6"/><text font-size="27" font-weight="bold" text-anchor="end" fill="#3a3a3a" transform="translate(441.6 50.06) scale(0.1 0.1)">10<tspan dy="-10" font-size="19">6</tspan></text><path d="M442.9 58.61h-1.6" stroke="#222" stroke-width=".6"/><text font-size="27" font-weight="bold" text-anchor="end" fill="#3a3a3a" transform="translate(441.6 59.71) scale(0.1 0.1)">10<tspan dy="-10" font-size="19">5</tspan></text><path d="M442.9 68.27h-1.6" stroke="#222" stroke-width=".6"/><text font-size="27" font-weight="bold" text-anchor="end" fill="#3a3a3a" transform="translate(441.6 69.37) scale(0.1 0.1)">10<tspan dy="-10" font-size="19">4</tspan></text><path d="M442.9 77.93h-1.6" stroke="#222" stroke-width=".6"/><text font-size="27" font-weight="bold" text-anchor="end" fill="#3a3a3a" transform="translate(441.6 79.03) scale(0.1 0.1)">10<tspan dy="-10" font-size="19">3</tspan></text><path d="M442.9 87.59h-1.6" stroke="#222" stroke-width=".6"/><text font-size="27" font-weight="bold" text-anchor="end" fill="#3a3a3a" transform="translate(441.6 88.69) scale(0.1 0.1)">10<tspan dy="-10" font-size="19">2</tspan></text><path d="M442.9 97.24h-1.6" stroke="#222" stroke-width=".6"/><text font-size="27" font-weight="bold" text-anchor="end" fill="#3a3a3a" transform="translate(441.6 98.34) scale(0.1 0.1)">10<tspan dy="-10" font-size="19">1</tspan></text><path d="M442.9 106.9h-1.6" stroke="#222" stroke-width=".6"/><text font-size="27" font-weight="bold" text-anchor="end" fill="#3a3a3a" transform="translate(441.6 108) scale(0.1 0.1)">10<tspan dy="-10" font-size="19">0</tspan></text><path d="M445.1 108.7v1.6" stroke="#222" stroke-width=".6"/><text font-size="29" font-weight="bold" text-anchor="middle" fill="#151515" transform="translate(445.7 113.4) rotate(-30) scale(0.1 0.1)">10<tspan dy="-10" font-size="19">2</tspan></text><path d="M459.87 108.7v1.6" stroke="#222" stroke-width=".6"/><text font-size="29" font-weight="bold" text-anchor="middle" fill="#151515" transform="translate(460.47 113.4) rotate(-30) scale(0.1 0.1)">10<tspan dy="-10" font-size="19">3</tspan></text><path d="M474.63 108.7v1.6" stroke="#222" stroke-width=".6"/><text font-size="29" font-weight="bold" text-anchor="middle" fill="#151515" transform="translate(475.23 113.4) rotate(-30) scale(0.1 0.1)">10<tspan dy="-10" font-size="19">4</tspan></text><path d="M489.4 108.7v1.6" stroke="#222" stroke-width=".6"/><text font-size="29" font-weight="bold" text-anchor="middle" fill="#151515" transform="translate(490 113.4) rotate(-30) scale(0.1 0.1)">10<tspan dy="-10" font-size="19">5</tspan></text><text font-size="60" font-weight="normal" text-anchor="middle" fill="#111" transform="translate(437.8 75.2) rotate(-90) scale(0.1 0.1)">PI</text><text font-size="26" font-weight="bold" text-anchor="middle" fill="#444" transform="translate(432.4 74.4) rotate(-90) scale(0.1 0.1)">PE-A :: PI-A</text><text font-size="25" font-weight="normal" text-anchor="start" fill="#2a2a2a" transform="translate(444.2 40.9) scale(0.1 0.1)">Q1</text><text font-size="25" font-weight="normal" text-anchor="start" fill="#2a2a2a" transform="translate(444.2 44.3) scale(0.1 0.1)">0.66</text><text font-size="25" font-weight="normal" text-anchor="end" fill="#2a2a2a" transform="translate(493 40.9) scale(0.1 0.1)">Q2</text><text font-size="25" font-weight="normal" text-anchor="end" fill="#2a2a2a" transform="translate(493 44.3) scale(0.1 0.1)">1.26</text><text font-size="25" font-weight="normal" text-anchor="end" fill="#2a2a2a" transform="translate(493 102.1) scale(0.1 0.1)">Q3</text><text font-size="25" font-weight="normal" text-anchor="end" fill="#2a2a2a" transform="translate(493 105.7) scale(0.1 0.1)">0.00</text><text font-size="25" font-weight="normal" text-anchor="start" fill="#2a2a2a" transform="translate(444.2 102.1) scale(0.1 0.1)">Q4</text><text font-size="25" font-weight="normal" text-anchor="start" fill="#2a2a2a" transform="translate(444.2 105.7) scale(0.1 0.1)">93.5</text><text font-size="62" font-weight="normal" text-anchor="middle" fill="#0a0a0a" transform="translate(463.15 121.7) scale(0.1 0.1)" stroke="#0a0a0a" stroke-width="2" textLength="269" lengthAdjust="spacingAndGlyphs">Annexin V</text><text font-size="59" font-weight="bold" text-anchor="middle" fill="#050505" transform="translate(463.15 128.8) scale(0.1 0.1)" stroke="#050505" stroke-width="3">+ Serum/ H<tspan dy="19" font-size="36">2</tspan><tspan dy="-19">O</tspan><tspan dy="19" font-size="36">2</tspan></text></g><g><rect x="510.75" y="33.65" width="71.8" height="98" fill="#eaeaea" stroke="#5a5a5a" stroke-width="1.1"/><rect x="514.1" y="38.5" width="65.2" height="76.9" fill="#e3e3e3" stroke="#3a3a3a" stroke-width=".8"/><rect x="526.4" y="38.7" width="52.7" height="70" fill="#fff"/><clipPath id="cpb2"><rect x="526.4" y="38.7" width="52.7" height="70"/></clipPath><g clip-path="url(#cpb2)"><g transform="translate(526.4 38.7)"><path d="M8.5 42.8C9 40.5 11.8 37.7 13.7 34.4C15.6 31.1 17.9 26.9 20 22.9C22.1 18.9 24.9 13.4 26.2 10.4C27.6 7.5 27.3 4.5 28.3 5.2C29.4 5.9 30.9 12.2 32.5 14.6C34.1 17 36.5 17.7 37.7 19.8C38.9 21.9 40 24.5 39.8 27.1C39.6 29.7 38.3 33 36.7 35.5C35.1 37.9 32.9 39.6 30.4 41.7C28 43.8 24.5 46.4 22.1 48C19.6 49.6 17.7 51.1 15.8 51.1C13.9 51.1 11.8 49.4 10.6 48C9.4 46.6 8 45 8.5 42.8Z" fill="#000" filter="url(#sp0)"/><path d="M10 41.7C10.5 39.6 13 37.1 14.7 34.1C16.5 31.1 18.5 27.3 20.4 23.7C22.3 20 24.9 15 26.1 12.3C27.4 9.6 27.1 6.9 28 7.5C29 8.2 30.4 13.9 31.8 16.1C33.2 18.3 35.4 18.9 36.6 20.8C37.7 22.7 38.6 25.1 38.5 27.5C38.3 29.8 37 32.8 35.6 35.1C34.2 37.3 32.1 38.8 29.9 40.7C27.7 42.6 24.5 45 22.3 46.4C20.1 47.9 18.4 49.3 16.6 49.3C14.9 49.3 13 47.7 11.9 46.4C10.8 45.2 9.5 43.8 10 41.7Z" fill="#000" filter="url(#sp1)"/><path d="M15.1 42.2C15.1 40.1 19.2 34 21.5 31.2C23.8 28.5 26.8 26.2 28.8 25.8C30.8 25.3 33.2 26.7 33.4 28.5C33.5 30.3 31.7 34.1 29.7 36.7C27.7 39.3 23.9 43.1 21.5 44C19.1 44.9 15.1 44.3 15.1 42.2Z" fill="#000" filter="url(#sq)"/><ellipse cx="25.61" cy="32.61" rx="5.29" ry="2.56" transform="rotate(-52 25.61 32.61)" fill="#2aa6e4" opacity="1" filter="url(#bl1)"/><ellipse cx="25.7" cy="32.52" rx="3.65" ry="1.64" transform="rotate(-52 25.7 32.52)" fill="#62c340" opacity="1" filter="url(#bl0)"/><ellipse cx="25.79" cy="32.43" rx="2.37" ry="1.1" transform="rotate(-52 25.79 32.43)" fill="#ece31e" opacity="1" filter="url(#bl0)"/><ellipse cx="25.88" cy="32.34" rx="1.1" ry="0.73" transform="rotate(-52 25.88 32.34)" fill="#e6281c" opacity="1" filter="url(#bl0)"/></g></g><path d="M526.4 38.5V108.7H579.3" fill="none" stroke="#222" stroke-width=".7"/><path d="M526.4 109.15H579.1" stroke="#3a3a3a" stroke-width="1.1" stroke-dasharray="1.3 .5" fill="none"/><path d="M561.13 38.7L559.77 108.7" stroke="#3c3c3c" stroke-width=".55" fill="none"/><path d="M526.4 65.83L559.45 65.63Q569.57 65.53 579.2 63.55" stroke="#333" stroke-width=".6" fill="none"/><path d="M526.4 39.3h-1.6" stroke="#222" stroke-width=".6"/><text font-size="27" font-weight="bold" text-anchor="end" fill="#3a3a3a" transform="translate(525.1 40.4) scale(0.1 0.1)">10<tspan dy="-10" font-size="19">7</tspan></text><path d="M526.4 48.96h-1.6" stroke="#222" stroke-width=".6"/><text font-size="27" font-weight="bold" text-anchor="end" fill="#3a3a3a" transform="translate(525.1 50.06) scale(0.1 0.1)">10<tspan dy="-10" font-size="19">6</tspan></text><path d="M526.4 58.61h-1.6" stroke="#222" stroke-width=".6"/><text font-size="27" font-weight="bold" text-anchor="end" fill="#3a3a3a" transform="translate(525.1 59.71) scale(0.1 0.1)">10<tspan dy="-10" font-size="19">5</tspan></text><path d="M526.4 68.27h-1.6" stroke="#222" stroke-width=".6"/><text font-size="27" font-weight="bold" text-anchor="end" fill="#3a3a3a" transform="translate(525.1 69.37) scale(0.1 0.1)">10<tspan dy="-10" font-size="19">4</tspan></text><path d="M526.4 77.93h-1.6" stroke="#222" stroke-width=".6"/><text font-size="27" font-weight="bold" text-anchor="end" fill="#3a3a3a" transform="translate(525.1 79.03) scale(0.1 0.1)">10<tspan dy="-10" font-size="19">3</tspan></text><path d="M526.4 87.59h-1.6" stroke="#222" stroke-width=".6"/><text font-size="27" font-weight="bold" text-anchor="end" fill="#3a3a3a" transform="translate(525.1 88.69) scale(0.1 0.1)">10<tspan dy="-10" font-size="19">2</tspan></text><path d="M526.4 97.24h-1.6" stroke="#222" stroke-width=".6"/><text font-size="27" font-weight="bold" text-anchor="end" fill="#3a3a3a" transform="translate(525.1 98.34) scale(0.1 0.1)">10<tspan dy="-10" font-size="19">1</tspan></text><path d="M526.4 106.9h-1.6" stroke="#222" stroke-width=".6"/><text font-size="27" font-weight="bold" text-anchor="end" fill="#3a3a3a" transform="translate(525.1 108) scale(0.1 0.1)">10<tspan dy="-10" font-size="19">0</tspan></text><path d="M528.6 108.7v1.6" stroke="#222" stroke-width=".6"/><text font-size="29" font-weight="bold" text-anchor="middle" fill="#151515" transform="translate(529.2 113.4) rotate(-30) scale(0.1 0.1)">10<tspan dy="-10" font-size="19">2</tspan></text><path d="M543.37 108.7v1.6" stroke="#222" stroke-width=".6"/><text font-size="29" font-weight="bold" text-anchor="middle" fill="#151515" transform="translate(543.97 113.4) rotate(-30) scale(0.1 0.1)">10<tspan dy="-10" font-size="19">3</tspan></text><path d="M558.13 108.7v1.6" stroke="#222" stroke-width=".6"/><text font-size="29" font-weight="bold" text-anchor="middle" fill="#151515" transform="translate(558.73 113.4) rotate(-30) scale(0.1 0.1)">10<tspan dy="-10" font-size="19">4</tspan></text><path d="M572.9 108.7v1.6" stroke="#222" stroke-width=".6"/><text font-size="29" font-weight="bold" text-anchor="middle" fill="#151515" transform="translate(573.5 113.4) rotate(-30) scale(0.1 0.1)">10<tspan dy="-10" font-size="19">5</tspan></text><text font-size="60" font-weight="normal" text-anchor="middle" fill="#111" transform="translate(521.3 75.2) rotate(-90) scale(0.1 0.1)">PI</text><text font-size="26" font-weight="bold" text-anchor="middle" fill="#444" transform="translate(515.9 74.4) rotate(-90) scale(0.1 0.1)">PE-A :: PI-A</text><text font-size="25" font-weight="normal" text-anchor="start" fill="#2a2a2a" transform="translate(527.7 40.9) scale(0.1 0.1)">Q1</text><text font-size="25" font-weight="normal" text-anchor="start" fill="#2a2a2a" transform="translate(527.7 44.3) scale(0.1 0.1)">0.66</text><text font-size="25" font-weight="normal" text-anchor="end" fill="#2a2a2a" transform="translate(576.5 40.9) scale(0.1 0.1)">Q2</text><text font-size="25" font-weight="normal" text-anchor="end" fill="#2a2a2a" transform="translate(576.5 44.3) scale(0.1 0.1)">1.26</text><text font-size="25" font-weight="normal" text-anchor="end" fill="#2a2a2a" transform="translate(576.5 102.1) scale(0.1 0.1)">Q3</text><text font-size="25" font-weight="normal" text-anchor="end" fill="#2a2a2a" transform="translate(576.5 105.7) scale(0.1 0.1)">0.00</text><text font-size="25" font-weight="normal" text-anchor="start" fill="#2a2a2a" transform="translate(527.7 102.1) scale(0.1 0.1)">Q4</text><text font-size="25" font-weight="normal" text-anchor="start" fill="#2a2a2a" transform="translate(527.7 105.7) scale(0.1 0.1)">93.5</text><text font-size="62" font-weight="normal" text-anchor="middle" fill="#0a0a0a" transform="translate(546.65 121.7) scale(0.1 0.1)" stroke="#0a0a0a" stroke-width="2" textLength="269" lengthAdjust="spacingAndGlyphs">Annexin V</text><text font-size="59" font-weight="bold" text-anchor="middle" fill="#050505" transform="translate(546.65 128.8) scale(0.1 0.1)" stroke="#050505" stroke-width="3">+ Serum/ H<tspan dy="19" font-size="36">2</tspan><tspan dy="-19">O</tspan><tspan dy="19" font-size="36">2</tspan><tspan dy="-19"> + NAC</tspan></text></g><g><rect x="594.25" y="33.65" width="71.8" height="98" fill="#eaeaea" stroke="#5a5a5a" stroke-width="1.1"/><rect x="597.6" y="38.5" width="65.2" height="76.9" fill="#e3e3e3" stroke="#3a3a3a" stroke-width=".8"/><rect x="609.9" y="38.7" width="52.7" height="70" fill="#fff"/><clipPath id="cpb3"><rect x="609.9" y="38.7" width="52.7" height="70"/></clipPath><g clip-path="url(#cpb3)"><g transform="translate(609.9 38.7)"><path d="M5.4 38.4C6.3 36.7 13.6 35.6 16.4 31.8C19.2 27.9 20.4 19.6 21.9 15.2C23.4 10.8 23.8 5.6 25.2 5.3C26.7 4.9 28.5 11.3 30.7 13C33 14.6 36.3 15.2 38.5 15.2C40.7 15.2 42.7 11.9 44 13C45.3 14.1 46.4 18.9 46.2 21.8C46 24.8 44.6 28.1 42.9 30.7C41.2 33.2 38.8 34.9 36.3 37.3C33.7 39.7 29.6 42.6 27.4 45C25.2 47.4 24.5 52 23 51.6C21.5 51.3 20.6 44.5 18.6 42.8C16.6 41.1 13.1 42.4 10.9 41.7C8.7 41 4.4 40 5.4 38.4Z" fill="#000" filter="url(#sp0)"/><path d="M10.7 36.1C11.4 34.8 17 34 19.1 31C21.2 28.1 22.2 21.8 23.3 18.4C24.4 15.1 24.7 11.2 25.8 10.9C26.9 10.6 28.3 15.5 30 16.8C31.7 18 34.2 18.4 35.9 18.4C37.6 18.4 39.1 15.9 40.1 16.8C41.1 17.6 41.9 21.2 41.8 23.5C41.6 25.7 40.5 28.2 39.2 30.2C38 32.2 36.2 33.4 34.2 35.2C32.3 37.1 29.2 39.3 27.5 41.1C25.8 42.9 25.3 46.4 24.1 46.2C23 45.9 22.3 40.7 20.8 39.4C19.2 38.2 16.6 39.2 14.9 38.6C13.2 38 10 37.3 10.7 36.1Z" fill="#000" filter="url(#sp2)" opacity=".8"/><path d="M21.1 35.8C20.8 33.7 21.4 30 22.9 28.5C24.4 27 27.9 27.3 30.2 26.7C32.5 26.1 34.9 25.9 36.6 24.9C38.3 23.8 39.5 20.1 40.3 20.3C41 20.4 41.8 23.8 41.2 25.8C40.6 27.7 38.4 30 36.6 32.2C34.8 34.3 32.2 37 30.2 38.5C28.2 40.1 26.3 41.7 24.7 41.3C23.2 40.8 21.4 37.9 21.1 35.8Z" fill="#000" filter="url(#sp2)"/><path d="M23.2 34.3C23 33.1 23.4 30.9 24.3 30C25.2 29.1 27.3 29.2 28.6 28.9C30 28.5 31.5 28.4 32.5 27.8C33.5 27.1 34.2 24.9 34.7 25C35.1 25.1 35.6 27.1 35.2 28.3C34.9 29.5 33.6 30.9 32.5 32.2C31.4 33.4 29.8 35.1 28.6 36C27.5 36.9 26.3 37.9 25.4 37.6C24.4 37.4 23.4 35.6 23.2 34.3Z" fill="#000" filter="url(#sq)"/><ellipse cx="26.57" cy="32.88" rx="5.02" ry="4.75" transform="rotate(-30 26.57 32.88)" fill="#2aa6e4" opacity="1" filter="url(#bl1)"/><ellipse cx="26.2" cy="32.15" rx="3.47" ry="3.29" transform="rotate(-30 26.2 32.15)" fill="#62c340" opacity="1" filter="url(#bl0)"/><ellipse cx="26.11" cy="31.42" rx="2.01" ry="1.64" transform="rotate(-20 26.11 31.42)" fill="#ece31e" opacity="1" filter="url(#bl0)"/><ellipse cx="26.11" cy="30.78" rx="1.1" ry="0.82" transform="rotate(0 26.11 30.78)" fill="#e6281c" opacity="1" filter="url(#bl0)"/></g></g><path d="M609.9 38.5V108.7H662.8" fill="none" stroke="#222" stroke-width=".7"/><path d="M609.9 109.15H662.6" stroke="#3a3a3a" stroke-width="1.1" stroke-dasharray="1.3 .5" fill="none"/><path d="M646.05 38.7L644.22 108.7" stroke="#3c3c3c" stroke-width=".55" fill="none"/><path d="M609.9 64.47L642.95 64.27Q653.07 64.17 662.7 62.64" stroke="#333" stroke-width=".6" fill="none"/><path d="M609.9 39.3h-1.6" stroke="#222" stroke-width=".6"/><text font-size="27" font-weight="bold" text-anchor="end" fill="#3a3a3a" transform="translate(608.6 40.4) scale(0.1 0.1)">10<tspan dy="-10" font-size="19">7</tspan></text><path d="M609.9 48.96h-1.6" stroke="#222" stroke-width=".6"/><text font-size="27" font-weight="bold" text-anchor="end" fill="#3a3a3a" transform="translate(608.6 50.06) scale(0.1 0.1)">10<tspan dy="-10" font-size="19">6</tspan></text><path d="M609.9 58.61h-1.6" stroke="#222" stroke-width=".6"/><text font-size="27" font-weight="bold" text-anchor="end" fill="#3a3a3a" transform="translate(608.6 59.71) scale(0.1 0.1)">10<tspan dy="-10" font-size="19">5</tspan></text><path d="M609.9 68.27h-1.6" stroke="#222" stroke-width=".6"/><text font-size="27" font-weight="bold" text-anchor="end" fill="#3a3a3a" transform="translate(608.6 69.37) scale(0.1 0.1)">10<tspan dy="-10" font-size="19">4</tspan></text><path d="M609.9 77.93h-1.6" stroke="#222" stroke-width=".6"/><text font-size="27" font-weight="bold" text-anchor="end" fill="#3a3a3a" transform="translate(608.6 79.03) scale(0.1 0.1)">10<tspan dy="-10" font-size="19">3</tspan></text><path d="M609.9 87.59h-1.6" stroke="#222" stroke-width=".6"/><text font-size="27" font-weight="bold" text-anchor="end" fill="#3a3a3a" transform="translate(608.6 88.69) scale(0.1 0.1)">10<tspan dy="-10" font-size="19">2</tspan></text><path d="M609.9 97.24h-1.6" stroke="#222" stroke-width=".6"/><text font-size="27" font-weight="bold" text-anchor="end" fill="#3a3a3a" transform="translate(608.6 98.34) scale(0.1 0.1)">10<tspan dy="-10" font-size="19">1</tspan></text><path d="M609.9 106.9h-1.6" stroke="#222" stroke-width=".6"/><text font-size="27" font-weight="bold" text-anchor="end" fill="#3a3a3a" transform="translate(608.6 108) scale(0.1 0.1)">10<tspan dy="-10" font-size="19">0</tspan></text><path d="M612.1 108.7v1.6" stroke="#222" stroke-width=".6"/><text font-size="29" font-weight="bold" text-anchor="middle" fill="#151515" transform="translate(612.7 113.4) rotate(-30) scale(0.1 0.1)">10<tspan dy="-10" font-size="19">2</tspan></text><path d="M626.87 108.7v1.6" stroke="#222" stroke-width=".6"/><text font-size="29" font-weight="bold" text-anchor="middle" fill="#151515" transform="translate(627.47 113.4) rotate(-30) scale(0.1 0.1)">10<tspan dy="-10" font-size="19">3</tspan></text><path d="M641.63 108.7v1.6" stroke="#222" stroke-width=".6"/><text font-size="29" font-weight="bold" text-anchor="middle" fill="#151515" transform="translate(642.23 113.4) rotate(-30) scale(0.1 0.1)">10<tspan dy="-10" font-size="19">4</tspan></text><path d="M656.4 108.7v1.6" stroke="#222" stroke-width=".6"/><text font-size="29" font-weight="bold" text-anchor="middle" fill="#151515" transform="translate(657 113.4) rotate(-30) scale(0.1 0.1)">10<tspan dy="-10" font-size="19">5</tspan></text><text font-size="60" font-weight="normal" text-anchor="middle" fill="#111" transform="translate(604.8 75.2) rotate(-90) scale(0.1 0.1)">PI</text><text font-size="26" font-weight="bold" text-anchor="middle" fill="#444" transform="translate(599.4 74.4) rotate(-90) scale(0.1 0.1)">PE-A :: PI-A</text><text font-size="25" font-weight="normal" text-anchor="start" fill="#2a2a2a" transform="translate(611.2 40.9) scale(0.1 0.1)">Q1</text><text font-size="25" font-weight="normal" text-anchor="start" fill="#2a2a2a" transform="translate(611.2 44.3) scale(0.1 0.1)">0.66</text><text font-size="25" font-weight="normal" text-anchor="end" fill="#2a2a2a" transform="translate(660 40.9) scale(0.1 0.1)">Q2</text><text font-size="25" font-weight="normal" text-anchor="end" fill="#2a2a2a" transform="translate(660 44.3) scale(0.1 0.1)">1.26</text><text font-size="25" font-weight="normal" text-anchor="end" fill="#2a2a2a" transform="translate(660 102.1) scale(0.1 0.1)">Q3</text><text font-size="25" font-weight="normal" text-anchor="end" fill="#2a2a2a" transform="translate(660 105.7) scale(0.1 0.1)">0.00</text><text font-size="25" font-weight="normal" text-anchor="start" fill="#2a2a2a" transform="translate(611.2 102.1) scale(0.1 0.1)">Q4</text><text font-size="25" font-weight="normal" text-anchor="start" fill="#2a2a2a" transform="translate(611.2 105.7) scale(0.1 0.1)">93.5</text><text font-size="62" font-weight="normal" text-anchor="middle" fill="#0a0a0a" transform="translate(630.15 121.7) scale(0.1 0.1)" stroke="#0a0a0a" stroke-width="2" textLength="269" lengthAdjust="spacingAndGlyphs">Annexin V</text><text font-size="59" font-weight="bold" text-anchor="middle" fill="#050505" transform="translate(630.15 128.8) scale(0.1 0.1)" stroke="#050505" stroke-width="3">- Serum</text></g><g><rect x="385.55" y="139.15" width="71.9" height="97.3" fill="#eaeaea" stroke="#5a5a5a" stroke-width="1.1"/><rect x="388.8" y="143.6" width="65" height="76.6" fill="#e3e3e3" stroke="#3a3a3a" stroke-width=".8"/><rect x="401.3" y="143.8" width="52.3" height="69.9" fill="#fff"/><clipPath id="cpb4"><rect x="401.3" y="143.8" width="52.3" height="69.9"/></clipPath><g clip-path="url(#cpb4)"><g transform="translate(401.3 143.8)"><path d="M8.2 38.3C9.2 36.8 16 35.2 18.2 31.7C20.4 28.2 20.4 21.7 21.5 17.3C22.6 12.9 23.5 6.1 24.8 5.2C26.1 4.2 27.2 10.1 29.2 11.8C31.2 13.4 34.7 14.7 36.9 15.1C39.2 15.5 41.4 12.7 42.5 14C43.6 15.3 43.9 20.1 43.6 22.8C43.2 25.6 41.7 28.2 40.3 30.6C38.8 32.9 36.9 34.8 34.7 37.2C32.5 39.6 28.8 42.7 27 44.9C25.2 47.1 24.8 51 23.7 50.4C22.6 49.9 22.2 43.3 20.4 41.6C18.5 39.9 14.7 41 12.7 40.5C10.6 39.9 7.3 39.8 8.2 38.3Z" fill="#000" filter="url(#sp0)"/><path d="M12.8 36C13.5 34.9 18.7 33.6 20.4 30.9C22.1 28.3 22.1 23.4 22.9 20C23.7 16.7 24.4 11.5 25.4 10.8C26.4 10.1 27.2 14.6 28.8 15.8C30.3 17.1 33 18.1 34.7 18.3C36.3 18.6 38 16.5 38.9 17.5C39.7 18.5 40 22.1 39.7 24.2C39.4 26.3 38.3 28.3 37.2 30.1C36.1 31.9 34.7 33.3 33 35.1C31.3 37 28.5 39.3 27.1 41C25.7 42.7 25.4 45.6 24.6 45.2C23.7 44.8 23.5 39.8 22.1 38.5C20.7 37.2 17.7 38.1 16.2 37.7C14.7 37.2 12.1 37.1 12.8 36Z" fill="#000" filter="url(#sp2)" opacity=".8"/><path d="M21.6 35.7C21.2 33.3 21.1 29.2 22.5 27.5C23.9 25.8 27.5 26.4 29.8 25.7C32.1 24.9 34.5 24 36.2 22.9C37.9 21.9 39.2 18.8 39.9 19.3C40.5 19.7 40.6 23.5 39.9 25.7C39.1 27.8 37 29.9 35.3 32.1C33.6 34.2 31.6 36.8 29.8 38.4C28.1 40.1 26.2 42.5 24.8 42.1C23.4 41.6 22 38.1 21.6 35.7Z" fill="#000" filter="url(#sp2)"/><path d="M23.2 34.2C23 32.7 22.9 30.3 23.7 29.3C24.6 28.3 26.8 28.6 28.1 28.2C29.5 27.7 31 27.2 32 26.5C33 25.9 33.8 24.1 34.1 24.3C34.5 24.6 34.6 26.9 34.1 28.2C33.7 29.4 32.4 30.7 31.4 32C30.4 33.3 29.2 34.8 28.1 35.8C27.1 36.8 25.9 38.3 25.1 38C24.3 37.8 23.4 35.7 23.2 34.2Z" fill="#000" filter="url(#sq)"/><ellipse cx="25.71" cy="32.78" rx="4.56" ry="5.48" transform="rotate(15 25.71 32.78)" fill="#2aa6e4" opacity="1" filter="url(#bl1)"/><ellipse cx="25.53" cy="31.87" rx="3.19" ry="3.65" transform="rotate(15 25.53 31.87)" fill="#62c340" opacity="1" filter="url(#bl0)"/><ellipse cx="25.53" cy="31.14" rx="2.01" ry="1.83" transform="rotate(0 25.53 31.14)" fill="#ece31e" opacity="1" filter="url(#bl0)"/><ellipse cx="25.53" cy="30.68" rx="1.1" ry="0.91" transform="rotate(0 25.53 30.68)" fill="#e6281c" opacity="1" filter="url(#bl0)"/></g></g><path d="M401.3 143.6V213.7H453.8" fill="none" stroke="#222" stroke-width=".7"/><path d="M401.3 214.15H453.6" stroke="#3a3a3a" stroke-width="1.1" stroke-dasharray="1.3 .5" fill="none"/><path d="M436.77 143.8L435.22 213.7" stroke="#3c3c3c" stroke-width=".55" fill="none"/><path d="M401.3 169.47L434.1 169.27Q444.15 169.17 453.7 167.46" stroke="#333" stroke-width=".6" fill="none"/><path d="M401.3 144.4h-1.6" stroke="#222" stroke-width=".6"/><text font-size="27" font-weight="bold" text-anchor="end" fill="#3a3a3a" transform="translate(400 145.5) scale(0.1 0.1)">10<tspan dy="-10" font-size="19">7</tspan></text><path d="M401.3 154.04h-1.6" stroke="#222" stroke-width=".6"/><text font-size="27" font-weight="bold" text-anchor="end" fill="#3a3a3a" transform="translate(400 155.14) scale(0.1 0.1)">10<tspan dy="-10" font-size="19">6</tspan></text><path d="M401.3 163.69h-1.6" stroke="#222" stroke-width=".6"/><text font-size="27" font-weight="bold" text-anchor="end" fill="#3a3a3a" transform="translate(400 164.79) scale(0.1 0.1)">10<tspan dy="-10" font-size="19">5</tspan></text><path d="M401.3 173.33h-1.6" stroke="#222" stroke-width=".6"/><text font-size="27" font-weight="bold" text-anchor="end" fill="#3a3a3a" transform="translate(400 174.43) scale(0.1 0.1)">10<tspan dy="-10" font-size="19">4</tspan></text><path d="M401.3 182.97h-1.6" stroke="#222" stroke-width=".6"/><text font-size="27" font-weight="bold" text-anchor="end" fill="#3a3a3a" transform="translate(400 184.07) scale(0.1 0.1)">10<tspan dy="-10" font-size="19">3</tspan></text><path d="M401.3 192.61h-1.6" stroke="#222" stroke-width=".6"/><text font-size="27" font-weight="bold" text-anchor="end" fill="#3a3a3a" transform="translate(400 193.71) scale(0.1 0.1)">10<tspan dy="-10" font-size="19">2</tspan></text><path d="M401.3 202.26h-1.6" stroke="#222" stroke-width=".6"/><text font-size="27" font-weight="bold" text-anchor="end" fill="#3a3a3a" transform="translate(400 203.36) scale(0.1 0.1)">10<tspan dy="-10" font-size="19">1</tspan></text><path d="M401.3 211.9h-1.6" stroke="#222" stroke-width=".6"/><text font-size="27" font-weight="bold" text-anchor="end" fill="#3a3a3a" transform="translate(400 213) scale(0.1 0.1)">10<tspan dy="-10" font-size="19">0</tspan></text><path d="M403.5 213.7v1.6" stroke="#222" stroke-width=".6"/><text font-size="29" font-weight="bold" text-anchor="middle" fill="#151515" transform="translate(404.1 218.4) rotate(-30) scale(0.1 0.1)">10<tspan dy="-10" font-size="19">2</tspan></text><path d="M418.13 213.7v1.6" stroke="#222" stroke-width=".6"/><text font-size="29" font-weight="bold" text-anchor="middle" fill="#151515" transform="translate(418.73 218.4) rotate(-30) scale(0.1 0.1)">10<tspan dy="-10" font-size="19">3</tspan></text><path d="M432.77 213.7v1.6" stroke="#222" stroke-width=".6"/><text font-size="29" font-weight="bold" text-anchor="middle" fill="#151515" transform="translate(433.37 218.4) rotate(-30) scale(0.1 0.1)">10<tspan dy="-10" font-size="19">4</tspan></text><path d="M447.4 213.7v1.6" stroke="#222" stroke-width=".6"/><text font-size="29" font-weight="bold" text-anchor="middle" fill="#151515" transform="translate(448 218.4) rotate(-30) scale(0.1 0.1)">10<tspan dy="-10" font-size="19">5</tspan></text><text font-size="60" font-weight="normal" text-anchor="middle" fill="#111" transform="translate(396.2 180.25) rotate(-90) scale(0.1 0.1)">PI</text><text font-size="26" font-weight="bold" text-anchor="middle" fill="#444" transform="translate(390.6 179.45) rotate(-90) scale(0.1 0.1)">PE-A :: PI-A</text><text font-size="25" font-weight="normal" text-anchor="start" fill="#2a2a2a" transform="translate(402.6 146) scale(0.1 0.1)">Q1</text><text font-size="25" font-weight="normal" text-anchor="start" fill="#2a2a2a" transform="translate(402.6 149.4) scale(0.1 0.1)">0.66</text><text font-size="25" font-weight="normal" text-anchor="end" fill="#2a2a2a" transform="translate(451 146) scale(0.1 0.1)">Q2</text><text font-size="25" font-weight="normal" text-anchor="end" fill="#2a2a2a" transform="translate(451 149.4) scale(0.1 0.1)">1.26</text><text font-size="25" font-weight="normal" text-anchor="end" fill="#2a2a2a" transform="translate(451 207.1) scale(0.1 0.1)">Q3</text><text font-size="25" font-weight="normal" text-anchor="end" fill="#2a2a2a" transform="translate(451 210.7) scale(0.1 0.1)">0.00</text><text font-size="25" font-weight="normal" text-anchor="start" fill="#2a2a2a" transform="translate(402.6 207.1) scale(0.1 0.1)">Q4</text><text font-size="25" font-weight="normal" text-anchor="start" fill="#2a2a2a" transform="translate(402.6 210.7) scale(0.1 0.1)">93.5</text><text font-size="62" font-weight="normal" text-anchor="middle" fill="#0a0a0a" transform="translate(421.5 225.8) scale(0.1 0.1)" stroke="#0a0a0a" stroke-width="2" textLength="269" lengthAdjust="spacingAndGlyphs">Annexin V</text><text font-size="59" font-weight="bold" text-anchor="middle" fill="#050505" transform="translate(421.5 233.1) scale(0.1 0.1)" stroke="#050505" stroke-width="3">- Serum/ H<tspan dy="19" font-size="36">2</tspan><tspan dy="-19">O</tspan><tspan dy="19" font-size="36">2</tspan></text></g><g><rect x="468.95" y="139.15" width="71.9" height="97.3" fill="#eaeaea" stroke="#5a5a5a" stroke-width="1.1"/><rect x="472.2" y="143.6" width="65" height="76.6" fill="#e3e3e3" stroke="#3a3a3a" stroke-width=".8"/><rect x="484.7" y="143.8" width="52.3" height="69.9" fill="#fff"/><clipPath id="cpb5"><rect x="484.7" y="143.8" width="52.3" height="69.9"/></clipPath><g clip-path="url(#cpb5)"><g transform="translate(484.7 143.8)"><path d="M4 40.8C4.3 38 8.8 34.1 11.3 30.3C13.7 26.5 16.2 22 18.6 17.8C21 13.6 23.8 6.1 25.9 5.3C28 4.4 29 10.5 31.1 12.6C33.2 14.7 36 16.4 38.4 17.8C40.9 19.2 45 19 45.7 20.9C46.4 22.8 44.3 26.5 42.6 29.3C40.9 32.1 37.9 35 35.3 37.6C32.7 40.2 29.9 42.7 26.9 44.9C24 47.2 20.5 50.8 17.5 51.2C14.6 51.5 11.5 48.8 9.2 47C6.9 45.3 3.6 43.5 4 40.8Z" fill="#000" filter="url(#sp0)"/><path d="M5.9 39.7C6.3 37.2 10.4 33.7 12.6 30.3C14.8 26.8 17 22.7 19.2 18.9C21.4 15.1 24 8.3 25.9 7.5C27.8 6.7 28.7 12.2 30.6 14.1C32.5 16 35 17.6 37.3 18.9C39.5 20.1 43.3 20 43.9 21.7C44.5 23.5 42.6 26.8 41.1 29.3C39.5 31.8 36.8 34.5 34.4 36.9C32 39.3 29.5 41.5 26.8 43.5C24.1 45.6 21 48.9 18.3 49.2C15.6 49.6 12.7 47 10.7 45.4C8.6 43.9 5.6 42.3 5.9 39.7Z" fill="#000" filter="url(#sp1)"/><path d="M13.3 36.9C13.5 35.5 15.9 33.5 17.2 31.5C18.5 29.5 19.7 27.1 21 24.9C22.3 22.7 23.7 18.8 24.8 18.3C25.9 17.9 26.5 21.1 27.6 22.2C28.7 23.3 30.1 24.2 31.4 24.9C32.7 25.6 34.9 25.5 35.2 26.5C35.6 27.5 34.5 29.5 33.6 30.9C32.7 32.4 31.1 33.9 29.8 35.3C28.4 36.7 26.9 37.9 25.4 39.1C23.8 40.3 22 42.2 20.5 42.4C18.9 42.6 17.3 41.1 16.1 40.2C14.9 39.3 13.2 38.4 13.3 36.9Z" fill="#000" filter="url(#sq)"/><ellipse cx="26.31" cy="31.14" rx="8.4" ry="4.56" transform="rotate(-52 26.31 31.14)" fill="#2aa6e4" opacity="1" filter="url(#bl1)"/><ellipse cx="16.73" cy="38.62" rx="2.74" ry="2.19" transform="rotate(0 16.73 38.62)" fill="#5cc6e8" opacity="0.4" filter="url(#bl1)"/><ellipse cx="26.95" cy="30.23" rx="6.02" ry="3.1" transform="rotate(-55 26.95 30.23)" fill="#62c340" opacity="1" filter="url(#bl0)"/><ellipse cx="26.58" cy="30.96" rx="4.2" ry="1.64" transform="rotate(-58 26.58 30.96)" fill="#ece31e" opacity="1" filter="url(#bl0)"/><ellipse cx="28.59" cy="28.4" rx="1.1" ry="0.91" transform="rotate(0 28.59 28.4)" fill="#ece31e" opacity="1" filter="url(#bl0)"/><ellipse cx="25.12" cy="33.42" rx="1.28" ry="1.19" transform="rotate(0 25.12 33.42)" fill="#e6281c" opacity="1" filter="url(#bl0)"/></g></g><path d="M484.7 143.6V213.7H537.2" fill="none" stroke="#222" stroke-width=".7"/><path d="M484.7 214.15H537" stroke="#3a3a3a" stroke-width="1.1" stroke-dasharray="1.3 .5" fill="none"/><path d="M520.13 143.8L519.22 213.7" stroke="#3c3c3c" stroke-width=".55" fill="none"/><path d="M484.7 169.47L517.5 169.27Q527.55 169.17 537.1 167.18" stroke="#333" stroke-width=".6" fill="none"/><path d="M484.7 144.4h-1.6" stroke="#222" stroke-width=".6"/><text font-size="27" font-weight="bold" text-anchor="end" fill="#3a3a3a" transform="translate(483.4 145.5) scale(0.1 0.1)">10<tspan dy="-10" font-size="19">7</tspan></text><path d="M484.7 154.04h-1.6" stroke="#222" stroke-width=".6"/><text font-size="27" font-weight="bold" text-anchor="end" fill="#3a3a3a" transform="translate(483.4 155.14) scale(0.1 0.1)">10<tspan dy="-10" font-size="19">6</tspan></text><path d="M484.7 163.69h-1.6" stroke="#222" stroke-width=".6"/><text font-size="27" font-weight="bold" text-anchor="end" fill="#3a3a3a" transform="translate(483.4 164.79) scale(0.1 0.1)">10<tspan dy="-10" font-size="19">5</tspan></text><path d="M484.7 173.33h-1.6" stroke="#222" stroke-width=".6"/><text font-size="27" font-weight="bold" text-anchor="end" fill="#3a3a3a" transform="translate(483.4 174.43) scale(0.1 0.1)">10<tspan dy="-10" font-size="19">4</tspan></text><path d="M484.7 182.97h-1.6" stroke="#222" stroke-width=".6"/><text font-size="27" font-weight="bold" text-anchor="end" fill="#3a3a3a" transform="translate(483.4 184.07) scale(0.1 0.1)">10<tspan dy="-10" font-size="19">3</tspan></text><path d="M484.7 192.61h-1.6" stroke="#222" stroke-width=".6"/><text font-size="27" font-weight="bold" text-anchor="end" fill="#3a3a3a" transform="translate(483.4 193.71) scale(0.1 0.1)">10<tspan dy="-10" font-size="19">2</tspan></text><path d="M484.7 202.26h-1.6" stroke="#222" stroke-width=".6"/><text font-size="27" font-weight="bold" text-anchor="end" fill="#3a3a3a" transform="translate(483.4 203.36) scale(0.1 0.1)">10<tspan dy="-10" font-size="19">1</tspan></text><path d="M484.7 211.9h-1.6" stroke="#222" stroke-width=".6"/><text font-size="27" font-weight="bold" text-anchor="end" fill="#3a3a3a" transform="translate(483.4 213) scale(0.1 0.1)">10<tspan dy="-10" font-size="19">0</tspan></text><path d="M486.9 213.7v1.6" stroke="#222" stroke-width=".6"/><text font-size="29" font-weight="bold" text-anchor="middle" fill="#151515" transform="translate(487.5 218.4) rotate(-30) scale(0.1 0.1)">10<tspan dy="-10" font-size="19">2</tspan></text><path d="M501.53 213.7v1.6" stroke="#222" stroke-width=".6"/><text font-size="29" font-weight="bold" text-anchor="middle" fill="#151515" transform="translate(502.13 218.4) rotate(-30) scale(0.1 0.1)">10<tspan dy="-10" font-size="19">3</tspan></text><path d="M516.17 213.7v1.6" stroke="#222" stroke-width=".6"/><text font-size="29" font-weight="bold" text-anchor="middle" fill="#151515" transform="translate(516.77 218.4) rotate(-30) scale(0.1 0.1)">10<tspan dy="-10" font-size="19">4</tspan></text><path d="M530.8 213.7v1.6" stroke="#222" stroke-width=".6"/><text font-size="29" font-weight="bold" text-anchor="middle" fill="#151515" transform="translate(531.4 218.4) rotate(-30) scale(0.1 0.1)">10<tspan dy="-10" font-size="19">5</tspan></text><text font-size="60" font-weight="normal" text-anchor="middle" fill="#111" transform="translate(479.6 180.25) rotate(-90) scale(0.1 0.1)">PI</text><text font-size="26" font-weight="bold" text-anchor="middle" fill="#444" transform="translate(474 179.45) rotate(-90) scale(0.1 0.1)">PE-A :: PI-A</text><text font-size="25" font-weight="normal" text-anchor="start" fill="#2a2a2a" transform="translate(486 146) scale(0.1 0.1)">Q1</text><text font-size="25" font-weight="normal" text-anchor="start" fill="#2a2a2a" transform="translate(486 149.4) scale(0.1 0.1)">0.66</text><text font-size="25" font-weight="normal" text-anchor="end" fill="#2a2a2a" transform="translate(534.4 146) scale(0.1 0.1)">Q2</text><text font-size="25" font-weight="normal" text-anchor="end" fill="#2a2a2a" transform="translate(534.4 149.4) scale(0.1 0.1)">1.26</text><text font-size="25" font-weight="normal" text-anchor="end" fill="#2a2a2a" transform="translate(534.4 207.1) scale(0.1 0.1)">Q3</text><text font-size="25" font-weight="normal" text-anchor="end" fill="#2a2a2a" transform="translate(534.4 210.7) scale(0.1 0.1)">0.00</text><text font-size="25" font-weight="normal" text-anchor="start" fill="#2a2a2a" transform="translate(486 207.1) scale(0.1 0.1)">Q4</text><text font-size="25" font-weight="normal" text-anchor="start" fill="#2a2a2a" transform="translate(486 210.7) scale(0.1 0.1)">93.5</text><text font-size="62" font-weight="normal" text-anchor="middle" fill="#0a0a0a" transform="translate(504.9 225.8) scale(0.1 0.1)" stroke="#0a0a0a" stroke-width="2" textLength="269" lengthAdjust="spacingAndGlyphs">Annexin V</text><text font-size="59" font-weight="bold" text-anchor="middle" fill="#050505" transform="translate(504.9 233.1) scale(0.1 0.1)" stroke="#050505" stroke-width="3">- Serum/ H<tspan dy="19" font-size="36">2</tspan><tspan dy="-19">O</tspan><tspan dy="19" font-size="36">2</tspan><tspan dy="-19"> + NAC</tspan></text></g><g><rect x="553.15" y="139.15" width="71.9" height="97.3" fill="#eaeaea" stroke="#5a5a5a" stroke-width="1.1"/><rect x="556.4" y="143.6" width="65" height="76.6" fill="#e3e3e3" stroke="#3a3a3a" stroke-width=".8"/><rect x="568.9" y="143.8" width="52.3" height="69.9" fill="#fff"/><clipPath id="cpb6"><rect x="568.9" y="143.8" width="52.3" height="69.9"/></clipPath><g clip-path="url(#cpb6)"><g transform="translate(568.9 143.8)"><path d="M7.4 38.5C8.2 36.5 14.8 33.6 17.4 30.4C20.1 27.3 22.3 23.3 23.5 19.4C24.6 15.6 23 9 24.5 7.4C26 5.7 30 8.9 32.5 9.4C35 9.9 37.5 8.9 39.5 10.4C41.5 11.9 44 15.2 44.6 18.4C45.1 21.6 43.9 26.1 42.5 29.4C41.2 32.8 39 35.3 36.5 38.5C34 41.7 30.2 47.7 27.5 48.5C24.8 49.4 23 44.5 20.5 43.5C17.9 42.5 14.6 43.3 12.4 42.5C10.3 41.7 6.6 40.5 7.4 38.5Z" fill="#000" filter="url(#sp0)"/><path d="M10.7 36.8C11.4 35.1 16.8 32.7 19.1 30.1C21.3 27.4 23.1 24 24.1 20.8C25.1 17.6 23.7 12.1 25 10.7C26.2 9.3 29.6 12 31.7 12.4C33.8 12.8 35.9 12 37.5 13.3C39.2 14.5 41.3 17.3 41.7 20C42.2 22.6 41.2 26.4 40.1 29.2C38.9 32 37.1 34.1 35 36.8C32.9 39.4 29.7 44.5 27.5 45.2C25.2 45.9 23.7 41.8 21.6 41C19.5 40.1 16.7 40.8 14.9 40.1C13.1 39.4 10 38.4 10.7 36.8Z" fill="#000" filter="url(#sp2)" opacity=".8"/><path d="M12 36.6C12.6 35.2 16.2 33.4 18.4 31.1C20.5 28.9 22.8 25.7 24.7 22.9C26.7 20.2 28.5 15.9 30.2 14.7C31.9 13.5 33.1 15.2 34.8 15.6C36.5 16.1 39 16.4 40.3 17.5C41.5 18.5 42.2 20 42.1 22C41.9 24 40.6 27 39.3 29.3C38.1 31.6 36.5 33.9 34.8 35.7C33.1 37.5 31.6 39.5 29.3 40.3C27 41 23.5 40.4 21.1 40.3C18.7 40.1 16.2 40 14.7 39.4C13.2 38.7 11.4 38 12 36.6Z" fill="#000" filter="url(#sp2)"/><path d="M19.4 31.3C19.8 30.5 22 29.4 23.3 28C24.6 26.6 25.9 24.7 27.1 23.1C28.3 21.4 29.4 18.9 30.4 18.2C31.4 17.4 32.1 18.4 33.1 18.7C34.1 19 35.7 19.2 36.4 19.8C37.2 20.4 37.6 21.4 37.5 22.5C37.4 23.7 36.6 25.5 35.9 26.9C35.1 28.3 34.1 29.7 33.1 30.8C32.1 31.8 31.2 33 29.9 33.5C28.5 33.9 26.4 33.6 24.9 33.5C23.5 33.4 22 33.3 21.1 32.9C20.2 32.6 19.1 32.1 19.4 31.3Z" fill="#000" filter="url(#sq)"/><ellipse cx="30.67" cy="23.38" rx="5.11" ry="1.64" transform="rotate(-60 30.67 23.38)" fill="#2aa6e4" opacity="1" filter="url(#bl1)"/><ellipse cx="30.67" cy="23.38" rx="3.65" ry="1.1" transform="rotate(-60 30.67 23.38)" fill="#62c340" opacity="1" filter="url(#bl0)"/><ellipse cx="30.67" cy="23.2" rx="2.01" ry="0.73" transform="rotate(-60 30.67 23.2)" fill="#f39a1c" opacity="1" filter="url(#bl0)"/></g></g><path d="M568.9 143.6V213.7H621.4" fill="none" stroke="#222" stroke-width=".7"/><path d="M568.9 214.15H621.2" stroke="#3a3a3a" stroke-width="1.1" stroke-dasharray="1.3 .5" fill="none"/><path d="M604.13 143.8L602.31 213.7" stroke="#3c3c3c" stroke-width=".55" fill="none"/><path d="M568.9 169.47L601.7 169.27Q611.75 169.17 621.3 167.18" stroke="#333" stroke-width=".6" fill="none"/><path d="M568.9 144.4h-1.6" stroke="#222" stroke-width=".6"/><text font-size="27" font-weight="bold" text-anchor="end" fill="#3a3a3a" transform="translate(567.6 145.5) scale(0.1 0.1)">10<tspan dy="-10" font-size="19">7</tspan></text><path d="M568.9 154.04h-1.6" stroke="#222" stroke-width=".6"/><text font-size="27" font-weight="bold" text-anchor="end" fill="#3a3a3a" transform="translate(567.6 155.14) scale(0.1 0.1)">10<tspan dy="-10" font-size="19">6</tspan></text><path d="M568.9 163.69h-1.6" stroke="#222" stroke-width=".6"/><text font-size="27" font-weight="bold" text-anchor="end" fill="#3a3a3a" transform="translate(567.6 164.79) scale(0.1 0.1)">10<tspan dy="-10" font-size="19">5</tspan></text><path d="M568.9 173.33h-1.6" stroke="#222" stroke-width=".6"/><text font-size="27" font-weight="bold" text-anchor="end" fill="#3a3a3a" transform="translate(567.6 174.43) scale(0.1 0.1)">10<tspan dy="-10" font-size="19">4</tspan></text><path d="M568.9 182.97h-1.6" stroke="#222" stroke-width=".6"/><text font-size="27" font-weight="bold" text-anchor="end" fill="#3a3a3a" transform="translate(567.6 184.07) scale(0.1 0.1)">10<tspan dy="-10" font-size="19">3</tspan></text><path d="M568.9 192.61h-1.6" stroke="#222" stroke-width=".6"/><text font-size="27" font-weight="bold" text-anchor="end" fill="#3a3a3a" transform="translate(567.6 193.71) scale(0.1 0.1)">10<tspan dy="-10" font-size="19">2</tspan></text><path d="M568.9 202.26h-1.6" stroke="#222" stroke-width=".6"/><text font-size="27" font-weight="bold" text-anchor="end" fill="#3a3a3a" transform="translate(567.6 203.36) scale(0.1 0.1)">10<tspan dy="-10" font-size="19">1</tspan></text><path d="M568.9 211.9h-1.6" stroke="#222" stroke-width=".6"/><text font-size="27" font-weight="bold" text-anchor="end" fill="#3a3a3a" transform="translate(567.6 213) scale(0.1 0.1)">10<tspan dy="-10" font-size="19">0</tspan></text><path d="M571.1 213.7v1.6" stroke="#222" stroke-width=".6"/><text font-size="29" font-weight="bold" text-anchor="middle" fill="#151515" transform="translate(571.7 218.4) rotate(-30) scale(0.1 0.1)">10<tspan dy="-10" font-size="19">2</tspan></text><path d="M585.73 213.7v1.6" stroke="#222" stroke-width=".6"/><text font-size="29" font-weight="bold" text-anchor="middle" fill="#151515" transform="translate(586.33 218.4) rotate(-30) scale(0.1 0.1)">10<tspan dy="-10" font-size="19">3</tspan></text><path d="M600.37 213.7v1.6" stroke="#222" stroke-width=".6"/><text font-size="29" font-weight="bold" text-anchor="middle" fill="#151515" transform="translate(600.97 218.4) rotate(-30) scale(0.1 0.1)">10<tspan dy="-10" font-size="19">4</tspan></text><path d="M615 213.7v1.6" stroke="#222" stroke-width=".6"/><text font-size="29" font-weight="bold" text-anchor="middle" fill="#151515" transform="translate(615.6 218.4) rotate(-30) scale(0.1 0.1)">10<tspan dy="-10" font-size="19">5</tspan></text><text font-size="60" font-weight="normal" text-anchor="middle" fill="#111" transform="translate(563.8 180.25) rotate(-90) scale(0.1 0.1)">PI</text><text font-size="26" font-weight="bold" text-anchor="middle" fill="#444" transform="translate(558.2 179.45) rotate(-90) scale(0.1 0.1)">PE-A :: PI-A</text><text font-size="25" font-weight="normal" text-anchor="start" fill="#2a2a2a" transform="translate(570.2 146) scale(0.1 0.1)">Q1</text><text font-size="25" font-weight="normal" text-anchor="start" fill="#2a2a2a" transform="translate(570.2 149.4) scale(0.1 0.1)">0.66</text><text font-size="25" font-weight="normal" text-anchor="end" fill="#2a2a2a" transform="translate(618.6 146) scale(0.1 0.1)">Q2</text><text font-size="25" font-weight="normal" text-anchor="end" fill="#2a2a2a" transform="translate(618.6 149.4) scale(0.1 0.1)">1.26</text><text font-size="25" font-weight="normal" text-anchor="end" fill="#2a2a2a" transform="translate(618.6 207.1) scale(0.1 0.1)">Q3</text><text font-size="25" font-weight="normal" text-anchor="end" fill="#2a2a2a" transform="translate(618.6 210.7) scale(0.1 0.1)">0.00</text><text font-size="25" font-weight="normal" text-anchor="start" fill="#2a2a2a" transform="translate(570.2 207.1) scale(0.1 0.1)">Q4</text><text font-size="25" font-weight="normal" text-anchor="start" fill="#2a2a2a" transform="translate(570.2 210.7) scale(0.1 0.1)">93.5</text><text font-size="62" font-weight="normal" text-anchor="middle" fill="#0a0a0a" transform="translate(589.1 225.8) scale(0.1 0.1)" stroke="#0a0a0a" stroke-width="2" textLength="269" lengthAdjust="spacingAndGlyphs">Annexin V</text><text font-size="59" font-weight="bold" text-anchor="middle" fill="#050505" transform="translate(589.1 233.1) scale(0.1 0.1)" stroke="#050505" stroke-width="3">Doxo</text></g><g><rect x="14.55" y="431.45" width="70.8" height="101.7" fill="#e9e9e9" stroke="#3c3c3c" stroke-width="1.1"/><rect x="18.3" y="435.6" width="63.3" height="79.7" fill="#e5e5e5" stroke="#3a3a3a" stroke-width=".8"/><rect x="30.5" y="435.8" width="50.9" height="72.9" fill="#fff"/><clipPath id="cpc0"><rect x="30.5" y="435.8" width="50.9" height="72.9"/></clipPath><g clip-path="url(#cpc0)"><g transform="translate(30.5 435.8)"><path d="M7.7 43C8.2 40.1 12 35.8 13.9 31.7C15.7 27.6 17.1 22.5 19 18.3C20.9 14.2 22.9 10.3 25.1 7.1C27.4 3.8 29.6 0.2 32.3 -1.1C35.1 -2.5 40.4 -3 41.6 -1.1C42.7 0.7 39.8 6 39.5 10.1C39.2 14.2 39.7 19.4 39.5 23.5C39.3 27.6 39.3 31.3 38.5 34.8C37.6 38.2 36.1 40.9 34.4 44C32.7 47.1 30.3 50.8 28.2 53.2C26.2 55.6 24.1 58 22.1 58.3C20 58.7 17.8 56.8 15.9 55.3C14 53.7 12.2 51.2 10.8 49.1C9.4 47.1 7.2 45.9 7.7 43Z" fill="#000" filter="url(#sp0)"/><path d="M9.4 41.8C9.9 39.2 13.3 35.3 15 31.6C16.7 27.8 18 23.2 19.7 19.4C21.4 15.7 23.2 12.1 25.3 9.2C27.3 6.2 29.3 3 31.8 1.7C34.3 0.5 39.1 0 40.2 1.7C41.3 3.4 38.6 8.3 38.3 12C38 15.7 38.5 20.4 38.3 24.1C38.1 27.8 38.1 31.3 37.4 34.4C36.6 37.5 35.2 40 33.6 42.8C32.1 45.5 29.9 49 28 51.1C26.2 53.3 24.3 55.5 22.5 55.8C20.6 56.1 18.6 54.4 16.9 53C15.2 51.6 13.4 49.3 12.2 47.4C11 45.5 8.9 44.5 9.4 41.8Z" fill="#000" filter="url(#sp1)"/><path d="M18.4 32.9C18.7 31.4 20.6 29.2 21.5 27.1C22.5 25 23.2 22.4 24.2 20.3C25.1 18.2 26.2 16.2 27.3 14.6C28.4 12.9 29.6 11.1 31 10.4C32.4 9.7 35.1 9.4 35.7 10.4C36.3 11.3 34.8 14 34.6 16.1C34.4 18.2 34.7 20.8 34.6 22.9C34.5 25 34.5 26.9 34.1 28.7C33.7 30.4 32.9 31.8 32 33.4C31.1 35 29.9 36.9 28.9 38.1C27.8 39.3 26.8 40.5 25.7 40.7C24.7 40.9 23.5 39.9 22.6 39.2C21.6 38.4 20.7 37.1 20 36C19.3 35 18.1 34.4 18.4 32.9Z" fill="#000" filter="url(#sq)"/><ellipse cx="26.66" cy="33.01" rx="13.32" ry="4.57" transform="rotate(-62 26.66 33.01)" fill="#2aa6e4" opacity="1" filter="url(#bl1)"/><ellipse cx="33.79" cy="2.1" rx="3.8" ry="1.71" transform="rotate(-20 33.79 2.1)" fill="#2aa6e4" opacity="1" filter="url(#bl1)"/><ellipse cx="29.03" cy="29.88" rx="8.08" ry="3.61" transform="rotate(-68 29.03 29.88)" fill="#62c340" opacity="1" filter="url(#bl0)"/><ellipse cx="33.31" cy="1.91" rx="2.09" ry="0.95" transform="rotate(-20 33.31 1.91)" fill="#62c340" opacity="1" filter="url(#bl0)"/><ellipse cx="29.32" cy="29.21" rx="5.71" ry="1.71" transform="rotate(-78 29.32 29.21)" fill="#ece31e" opacity="1" filter="url(#bl0)"/><ellipse cx="29.51" cy="27.78" rx="1.05" ry="2.38" transform="rotate(12 29.51 27.78)" fill="#e6281c" opacity="1" filter="url(#bl0)"/></g></g><path d="M30.5 435.6V508.7H81.6" fill="none" stroke="#222" stroke-width=".7"/><path d="M30.5 509.15H81.4" stroke="#3a3a3a" stroke-width="1.1" stroke-dasharray="1.3 .5" fill="none"/><path d="M67.62 435.8L67.14 508.7" stroke="#777" stroke-width=".55" fill="none"/><path d="M30.5 457.4L62.43 457.2Q72.22 457.1 81.5 456.16" stroke="#333" stroke-width=".6" fill="none"/><path d="M30.5 436.4h-1.6" stroke="#222" stroke-width=".6"/><text font-size="27" font-weight="bold" text-anchor="end" fill="#3a3a3a" transform="translate(29.8 437.5) scale(0.1 0.1)">10<tspan dy="-10" font-size="19">7</tspan></text><path d="M30.5 446.47h-1.6" stroke="#222" stroke-width=".6"/><text font-size="27" font-weight="bold" text-anchor="end" fill="#3a3a3a" transform="translate(29.8 447.57) scale(0.1 0.1)">10<tspan dy="-10" font-size="19">6</tspan></text><path d="M30.5 456.54h-1.6" stroke="#222" stroke-width=".6"/><text font-size="27" font-weight="bold" text-anchor="end" fill="#3a3a3a" transform="translate(29.8 457.64) scale(0.1 0.1)">10<tspan dy="-10" font-size="19">5</tspan></text><path d="M30.5 466.61h-1.6" stroke="#222" stroke-width=".6"/><text font-size="27" font-weight="bold" text-anchor="end" fill="#3a3a3a" transform="translate(29.8 467.71) scale(0.1 0.1)">10<tspan dy="-10" font-size="19">4</tspan></text><path d="M30.5 476.69h-1.6" stroke="#222" stroke-width=".6"/><text font-size="27" font-weight="bold" text-anchor="end" fill="#3a3a3a" transform="translate(29.8 477.79) scale(0.1 0.1)">10<tspan dy="-10" font-size="19">3</tspan></text><path d="M30.5 486.76h-1.6" stroke="#222" stroke-width=".6"/><text font-size="27" font-weight="bold" text-anchor="end" fill="#3a3a3a" transform="translate(29.8 487.86) scale(0.1 0.1)">10<tspan dy="-10" font-size="19">2</tspan></text><path d="M30.5 496.83h-1.6" stroke="#222" stroke-width=".6"/><text font-size="27" font-weight="bold" text-anchor="end" fill="#3a3a3a" transform="translate(29.8 497.93) scale(0.1 0.1)">10<tspan dy="-10" font-size="19">1</tspan></text><path d="M30.5 506.9h-1.6" stroke="#222" stroke-width=".6"/><text font-size="27" font-weight="bold" text-anchor="end" fill="#3a3a3a" transform="translate(29.8 508) scale(0.1 0.1)">10<tspan dy="-10" font-size="19">0</tspan></text><path d="M32.7 508.7v1.6" stroke="#222" stroke-width=".6"/><text font-size="29" font-weight="bold" text-anchor="middle" fill="#151515" transform="translate(33.3 513.4) rotate(-30) scale(0.1 0.1)">10<tspan dy="-10" font-size="19">2</tspan></text><path d="M46.87 508.7v1.6" stroke="#222" stroke-width=".6"/><text font-size="29" font-weight="bold" text-anchor="middle" fill="#151515" transform="translate(47.47 513.4) rotate(-30) scale(0.1 0.1)">10<tspan dy="-10" font-size="19">3</tspan></text><path d="M61.03 508.7v1.6" stroke="#222" stroke-width=".6"/><text font-size="29" font-weight="bold" text-anchor="middle" fill="#151515" transform="translate(61.63 513.4) rotate(-30) scale(0.1 0.1)">10<tspan dy="-10" font-size="19">4</tspan></text><path d="M75.2 508.7v1.6" stroke="#222" stroke-width=".6"/><text font-size="29" font-weight="bold" text-anchor="middle" fill="#151515" transform="translate(75.8 513.4) rotate(-30) scale(0.1 0.1)">10<tspan dy="-10" font-size="19">5</tspan></text><text font-size="74" font-weight="normal" text-anchor="middle" fill="#111" transform="translate(26.4 471.55) rotate(-90) scale(0.1 0.1)">PI</text><text font-size="26" font-weight="bold" text-anchor="middle" fill="#444" transform="translate(20.1 472.95) rotate(-90) scale(0.1 0.1)">PE-A :: PI-A</text><text font-size="25" font-weight="normal" text-anchor="start" fill="#2a2a2a" transform="translate(31.8 438) scale(0.1 0.1)">Q1</text><text font-size="25" font-weight="normal" text-anchor="start" fill="#2a2a2a" transform="translate(31.8 441.4) scale(0.1 0.1)">0.66</text><text font-size="25" font-weight="normal" text-anchor="end" fill="#2a2a2a" transform="translate(78.8 438) scale(0.1 0.1)">Q2</text><text font-size="25" font-weight="normal" text-anchor="end" fill="#2a2a2a" transform="translate(78.8 441.4) scale(0.1 0.1)">1.26</text><text font-size="25" font-weight="normal" text-anchor="end" fill="#2a2a2a" transform="translate(78.8 502.1) scale(0.1 0.1)">Q3</text><text font-size="25" font-weight="normal" text-anchor="end" fill="#2a2a2a" transform="translate(78.8 505.7) scale(0.1 0.1)">0.00</text><text font-size="25" font-weight="normal" text-anchor="start" fill="#2a2a2a" transform="translate(31.8 502.1) scale(0.1 0.1)">Q4</text><text font-size="25" font-weight="normal" text-anchor="start" fill="#2a2a2a" transform="translate(31.8 505.7) scale(0.1 0.1)">93.5</text><text font-size="62" font-weight="normal" text-anchor="middle" fill="#0a0a0a" transform="translate(51.25 520.8) scale(0.1 0.1)" stroke="#0a0a0a" stroke-width="2" textLength="269" lengthAdjust="spacingAndGlyphs">Annexin V</text><text font-size="59" font-weight="bold" text-anchor="middle" fill="#050505" transform="translate(50.65 529.5) scale(0.1 0.1)" stroke="#050505" stroke-width="3">+ Serum</text></g><g><rect x="98.65" y="431.55" width="70.1" height="101.7" fill="#e9e9e9" stroke="#3c3c3c" stroke-width="1.1"/><rect x="102.4" y="435.7" width="62.6" height="79.7" fill="#e5e5e5" stroke="#3a3a3a" stroke-width=".8"/><rect x="114.6" y="435.9" width="50.2" height="72.9" fill="#fff"/><clipPath id="cpc1"><rect x="114.6" y="435.9" width="50.2" height="72.9"/></clipPath><g clip-path="url(#cpc1)"><g transform="translate(114.6 435.9)"><path d="M8.6 43.9C9.1 41.2 12.7 35.9 14.7 31.6C16.8 27.3 18.6 22.7 20.9 18.3C23.1 13.8 26 8.3 28 4.9C30.1 1.6 31 -0.6 33.2 -1.7C35.4 -2.8 40 -3.7 41.4 -1.7C42.7 0.2 41.5 5.9 41.4 10.1C41.2 14.3 40.9 19.5 40.4 23.4C39.8 27.3 39.3 30.2 38.3 33.7C37.3 37.1 35.9 40.7 34.2 43.9C32.5 47.2 29.9 50.6 28 53.1C26.2 55.7 24.8 59.3 22.9 59.3C21 59.3 18.6 55 16.8 53.1C14.9 51.3 13 49.5 11.6 48C10.3 46.5 8.1 46.6 8.6 43.9Z" fill="#000" filter="url(#sp0)"/><path d="M10.3 42.6C10.7 40.2 14 35.3 15.8 31.5C17.7 27.6 19.4 23.4 21.4 19.3C23.5 15.3 26.1 10.3 28 7.2C29.8 4.2 30.6 2.2 32.6 1.2C34.6 0.2 38.8 -0.6 40.1 1.2C41.3 3 40.2 8.1 40.1 11.9C39.9 15.7 39.6 20.4 39.2 24C38.7 27.6 38.2 30.2 37.3 33.3C36.4 36.4 35.1 39.7 33.6 42.6C32 45.6 29.7 48.7 28 51C26.3 53.4 25 56.6 23.3 56.6C21.6 56.6 19.4 52.7 17.7 51C16 49.3 14.3 47.8 13.1 46.4C11.8 45 9.8 45.1 10.3 42.6Z" fill="#000" filter="url(#sp1)"/><path d="M20 30.4C20.3 29 22.1 26.3 23.2 24.1C24.2 21.9 25.2 19.6 26.3 17.3C27.4 15 28.9 12.2 30 10.5C31 8.8 31.4 7.7 32.6 7.1C33.7 6.5 36.1 6.1 36.8 7.1C37.5 8.1 36.8 11 36.8 13.1C36.7 15.3 36.5 17.9 36.2 19.9C36 21.9 35.7 23.4 35.2 25.2C34.7 26.9 34 28.7 33.1 30.4C32.2 32 30.9 33.8 30 35.1C29 36.4 28.3 38.2 27.3 38.2C26.4 38.2 25.2 36.1 24.2 35.1C23.2 34.1 22.3 33.3 21.6 32.5C20.9 31.7 19.8 31.8 20 30.4Z" fill="#000" filter="url(#sq)"/><ellipse cx="27.79" cy="32.25" rx="15.22" ry="4.19" transform="rotate(-62 27.79 32.25)" fill="#2aa6e4" opacity="1" filter="url(#bl1)"/><ellipse cx="35.12" cy="11.51" rx="1.14" ry="10.46" transform="rotate(3 35.12 11.51)" fill="#2aa6e4" opacity="0.85" filter="url(#bl1)"/><ellipse cx="34.17" cy="1.53" rx="3.33" ry="1.43" transform="rotate(-20 34.17 1.53)" fill="#2aa6e4" opacity="1" filter="url(#bl1)"/><ellipse cx="29.12" cy="30.73" rx="9.51" ry="2.85" transform="rotate(-62 29.12 30.73)" fill="#62c340" opacity="1" filter="url(#bl0)"/><ellipse cx="34.83" cy="12.47" rx="0.76" ry="9.51" transform="rotate(3 34.83 12.47)" fill="#62c340" opacity="1" filter="url(#bl0)"/><ellipse cx="34.17" cy="1.24" rx="2.38" ry="0.95" transform="rotate(-20 34.17 1.24)" fill="#62c340" opacity="1" filter="url(#bl0)"/><ellipse cx="30.36" cy="28.63" rx="5.71" ry="2.09" transform="rotate(-66 30.36 28.63)" fill="#ece31e" opacity="1" filter="url(#bl0)"/><ellipse cx="31.6" cy="26.73" rx="1.14" ry="2.66" transform="rotate(12 31.6 26.73)" fill="#e6281c" opacity="1" filter="url(#bl0)"/></g></g><path d="M114.6 435.7V508.8H165" fill="none" stroke="#222" stroke-width=".7"/><path d="M114.6 509.25H164.8" stroke="#3a3a3a" stroke-width="1.1" stroke-dasharray="1.3 .5" fill="none"/><path d="M150.67 435.9L150.19 508.8" stroke="#333" stroke-width=".55" fill="none"/><path d="M114.6 457.4L146.1 457.2Q155.75 457.1 164.9 455.97" stroke="#333" stroke-width=".6" fill="none"/><path d="M114.6 436.5h-1.6" stroke="#222" stroke-width=".6"/><text font-size="27" font-weight="bold" text-anchor="end" fill="#3a3a3a" transform="translate(113.9 437.6) scale(0.1 0.1)">10<tspan dy="-10" font-size="19">7</tspan></text><path d="M114.6 446.57h-1.6" stroke="#222" stroke-width=".6"/><text font-size="27" font-weight="bold" text-anchor="end" fill="#3a3a3a" transform="translate(113.9 447.67) scale(0.1 0.1)">10<tspan dy="-10" font-size="19">6</tspan></text><path d="M114.6 456.64h-1.6" stroke="#222" stroke-width=".6"/><text font-size="27" font-weight="bold" text-anchor="end" fill="#3a3a3a" transform="translate(113.9 457.74) scale(0.1 0.1)">10<tspan dy="-10" font-size="19">5</tspan></text><path d="M114.6 466.71h-1.6" stroke="#222" stroke-width=".6"/><text font-size="27" font-weight="bold" text-anchor="end" fill="#3a3a3a" transform="translate(113.9 467.81) scale(0.1 0.1)">10<tspan dy="-10" font-size="19">4</tspan></text><path d="M114.6 476.79h-1.6" stroke="#222" stroke-width=".6"/><text font-size="27" font-weight="bold" text-anchor="end" fill="#3a3a3a" transform="translate(113.9 477.89) scale(0.1 0.1)">10<tspan dy="-10" font-size="19">3</tspan></text><path d="M114.6 486.86h-1.6" stroke="#222" stroke-width=".6"/><text font-size="27" font-weight="bold" text-anchor="end" fill="#3a3a3a" transform="translate(113.9 487.96) scale(0.1 0.1)">10<tspan dy="-10" font-size="19">2</tspan></text><path d="M114.6 496.93h-1.6" stroke="#222" stroke-width=".6"/><text font-size="27" font-weight="bold" text-anchor="end" fill="#3a3a3a" transform="translate(113.9 498.03) scale(0.1 0.1)">10<tspan dy="-10" font-size="19">1</tspan></text><path d="M114.6 507h-1.6" stroke="#222" stroke-width=".6"/><text font-size="27" font-weight="bold" text-anchor="end" fill="#3a3a3a" transform="translate(113.9 508.1) scale(0.1 0.1)">10<tspan dy="-10" font-size="19">0</tspan></text><path d="M116.8 508.8v1.6" stroke="#222" stroke-width=".6"/><text font-size="29" font-weight="bold" text-anchor="middle" fill="#151515" transform="translate(117.4 513.5) rotate(-30) scale(0.1 0.1)">10<tspan dy="-10" font-size="19">2</tspan></text><path d="M130.73 508.8v1.6" stroke="#222" stroke-width=".6"/><text font-size="29" font-weight="bold" text-anchor="middle" fill="#151515" transform="translate(131.33 513.5) rotate(-30) scale(0.1 0.1)">10<tspan dy="-10" font-size="19">3</tspan></text><path d="M144.67 508.8v1.6" stroke="#222" stroke-width=".6"/><text font-size="29" font-weight="bold" text-anchor="middle" fill="#151515" transform="translate(145.27 513.5) rotate(-30) scale(0.1 0.1)">10<tspan dy="-10" font-size="19">4</tspan></text><path d="M158.6 508.8v1.6" stroke="#222" stroke-width=".6"/><text font-size="29" font-weight="bold" text-anchor="middle" fill="#151515" transform="translate(159.2 513.5) rotate(-30) scale(0.1 0.1)">10<tspan dy="-10" font-size="19">5</tspan></text><text font-size="74" font-weight="normal" text-anchor="middle" fill="#111" transform="translate(110.5 471.65) rotate(-90) scale(0.1 0.1)">PI</text><text font-size="26" font-weight="bold" text-anchor="middle" fill="#444" transform="translate(104.2 473.05) rotate(-90) scale(0.1 0.1)">PE-A :: PI-A</text><text font-size="25" font-weight="normal" text-anchor="start" fill="#2a2a2a" transform="translate(115.9 438.1) scale(0.1 0.1)">Q1</text><text font-size="25" font-weight="normal" text-anchor="start" fill="#2a2a2a" transform="translate(115.9 441.5) scale(0.1 0.1)">0.66</text><text font-size="25" font-weight="normal" text-anchor="end" fill="#2a2a2a" transform="translate(162.2 438.1) scale(0.1 0.1)">Q2</text><text font-size="25" font-weight="normal" text-anchor="end" fill="#2a2a2a" transform="translate(162.2 441.5) scale(0.1 0.1)">1.26</text><text font-size="25" font-weight="normal" text-anchor="end" fill="#2a2a2a" transform="translate(162.2 502.2) scale(0.1 0.1)">Q3</text><text font-size="25" font-weight="normal" text-anchor="end" fill="#2a2a2a" transform="translate(162.2 505.8) scale(0.1 0.1)">0.00</text><text font-size="25" font-weight="normal" text-anchor="start" fill="#2a2a2a" transform="translate(115.9 502.2) scale(0.1 0.1)">Q4</text><text font-size="25" font-weight="normal" text-anchor="start" fill="#2a2a2a" transform="translate(115.9 505.8) scale(0.1 0.1)">93.5</text><text font-size="62" font-weight="normal" text-anchor="middle" fill="#0a0a0a" transform="translate(135 520.86) scale(0.1 0.1)" stroke="#0a0a0a" stroke-width="2" textLength="269" lengthAdjust="spacingAndGlyphs">Annexin V</text><text font-size="59" font-weight="bold" text-anchor="middle" fill="#050505" transform="translate(134.4 528.4) scale(0.1 0.1)" stroke="#050505" stroke-width="3">+ Serum/ H<tspan dy="19" font-size="36">2</tspan><tspan dy="-19">O</tspan><tspan dy="19" font-size="36">2</tspan></text></g><g><rect x="183.05" y="432.65" width="70.4" height="101.7" fill="#e9e9e9" stroke="#3c3c3c" stroke-width="1.1"/><rect x="186.8" y="436.8" width="62.9" height="79.7" fill="#e5e5e5" stroke="#3a3a3a" stroke-width=".8"/><rect x="199" y="437" width="50.5" height="72.9" fill="#fff"/><clipPath id="cpc2"><rect x="199" y="437" width="50.5" height="72.9"/></clipPath><g clip-path="url(#cpc2)"><g transform="translate(199 437)"><path d="M8.2 42.8C8.9 39.9 12.3 34.8 14.3 30.5C16.4 26.2 18.4 21.3 20.5 17.1C22.5 13 24.8 8.9 26.6 5.9C28.5 2.8 29.4 -0.1 31.8 -1.3C34.2 -2.5 39.6 -3.2 41 -1.3C42.4 0.6 40 5.9 40 10C40 14.1 41.2 19.4 41 23.3C40.8 27.2 40.1 30.1 38.9 33.6C37.8 37 35.7 40.6 33.8 43.8C31.9 47.1 29.7 50.5 27.7 53C25.6 55.6 23.6 59 21.5 59.2C19.5 59.4 17.2 55.9 15.4 54.1C13.5 52.2 11.4 49.8 10.2 47.9C9 46 7.5 45.7 8.2 42.8Z" fill="#000" filter="url(#sp0)"/><path d="M9.9 41.6C10.5 39 13.6 34.3 15.4 30.4C17.3 26.5 19.2 22 21 18.3C22.9 14.6 24.9 10.9 26.6 8.1C28.3 5.3 29.1 2.6 31.3 1.5C33.5 0.4 38.4 -0.2 39.7 1.5C40.9 3.2 38.7 8.1 38.7 11.8C38.7 15.5 39.8 20.3 39.7 23.9C39.5 27.5 38.9 30.1 37.8 33.2C36.7 36.3 34.9 39.6 33.2 42.5C31.4 45.5 29.4 48.6 27.6 50.9C25.7 53.3 23.8 56.4 22 56.5C20.1 56.7 18.1 53.6 16.4 51.9C14.7 50.2 12.8 48 11.7 46.3C10.6 44.6 9.2 44.3 9.9 41.6Z" fill="#000" filter="url(#sp1)"/><path d="M18.6 32.5C19 31 20.7 28.4 21.8 26.2C22.8 24 23.9 21.5 24.9 19.4C26 17.3 27.1 15.2 28.1 13.7C29 12.1 29.5 10.6 30.7 10C31.9 9.4 34.7 9.1 35.4 10C36.1 11 34.9 13.7 34.9 15.8C34.9 17.9 35.5 20.6 35.4 22.6C35.3 24.6 34.9 26.1 34.3 27.8C33.7 29.5 32.7 31.4 31.7 33C30.8 34.7 29.6 36.4 28.6 37.7C27.5 39 26.5 40.8 25.4 40.9C24.4 41 23.3 39.2 22.3 38.3C21.3 37.3 20.3 36.1 19.7 35.1C19.1 34.2 18.3 34 18.6 32.5Z" fill="#000" filter="url(#sq)"/><ellipse cx="27.39" cy="31.39" rx="15.22" ry="4.38" transform="rotate(-62 27.39 31.39)" fill="#2aa6e4" opacity="1" filter="url(#bl1)"/><ellipse cx="33.77" cy="1.43" rx="3.33" ry="1.43" transform="rotate(-20 33.77 1.43)" fill="#2aa6e4" opacity="1" filter="url(#bl1)"/><ellipse cx="28.25" cy="30.44" rx="9.51" ry="3.14" transform="rotate(-66 28.25 30.44)" fill="#62c340" opacity="1" filter="url(#bl0)"/><ellipse cx="33.48" cy="1.24" rx="1.9" ry="0.86" transform="rotate(-20 33.48 1.24)" fill="#62c340" opacity="1" filter="url(#bl0)"/><ellipse cx="29.49" cy="28.53" rx="5.71" ry="1.71" transform="rotate(-72 29.49 28.53)" fill="#ece31e" opacity="1" filter="url(#bl0)"/><ellipse cx="30.25" cy="26.16" rx="1.14" ry="2.38" transform="rotate(15 30.25 26.16)" fill="#e6281c" opacity="1" filter="url(#bl0)"/></g></g><path d="M199 436.8V509.9H249.7" fill="none" stroke="#222" stroke-width=".7"/><path d="M199 510.35H249.5" stroke="#3a3a3a" stroke-width="1.1" stroke-dasharray="1.3 .5" fill="none"/><path d="M235.62 437L235.62 509.9" stroke="#333" stroke-width=".55" fill="none"/><path d="M199 458.4L230.68 458.2Q240.39 458.1 249.6 457.16" stroke="#333" stroke-width=".6" fill="none"/><path d="M199 437.6h-1.6" stroke="#222" stroke-width=".6"/><text font-size="27" font-weight="bold" text-anchor="end" fill="#3a3a3a" transform="translate(198.3 438.7) scale(0.1 0.1)">10<tspan dy="-10" font-size="19">7</tspan></text><path d="M199 447.67h-1.6" stroke="#222" stroke-width=".6"/><text font-size="27" font-weight="bold" text-anchor="end" fill="#3a3a3a" transform="translate(198.3 448.77) scale(0.1 0.1)">10<tspan dy="-10" font-size="19">6</tspan></text><path d="M199 457.74h-1.6" stroke="#222" stroke-width=".6"/><text font-size="27" font-weight="bold" text-anchor="end" fill="#3a3a3a" transform="translate(198.3 458.84) scale(0.1 0.1)">10<tspan dy="-10" font-size="19">5</tspan></text><path d="M199 467.81h-1.6" stroke="#222" stroke-width=".6"/><text font-size="27" font-weight="bold" text-anchor="end" fill="#3a3a3a" transform="translate(198.3 468.91) scale(0.1 0.1)">10<tspan dy="-10" font-size="19">4</tspan></text><path d="M199 477.89h-1.6" stroke="#222" stroke-width=".6"/><text font-size="27" font-weight="bold" text-anchor="end" fill="#3a3a3a" transform="translate(198.3 478.99) scale(0.1 0.1)">10<tspan dy="-10" font-size="19">3</tspan></text><path d="M199 487.96h-1.6" stroke="#222" stroke-width=".6"/><text font-size="27" font-weight="bold" text-anchor="end" fill="#3a3a3a" transform="translate(198.3 489.06) scale(0.1 0.1)">10<tspan dy="-10" font-size="19">2</tspan></text><path d="M199 498.03h-1.6" stroke="#222" stroke-width=".6"/><text font-size="27" font-weight="bold" text-anchor="end" fill="#3a3a3a" transform="translate(198.3 499.13) scale(0.1 0.1)">10<tspan dy="-10" font-size="19">1</tspan></text><path d="M199 508.1h-1.6" stroke="#222" stroke-width=".6"/><text font-size="27" font-weight="bold" text-anchor="end" fill="#3a3a3a" transform="translate(198.3 509.2) scale(0.1 0.1)">10<tspan dy="-10" font-size="19">0</tspan></text><path d="M201.2 509.9v1.6" stroke="#222" stroke-width=".6"/><text font-size="29" font-weight="bold" text-anchor="middle" fill="#151515" transform="translate(201.8 514.6) rotate(-30) scale(0.1 0.1)">10<tspan dy="-10" font-size="19">2</tspan></text><path d="M215.23 509.9v1.6" stroke="#222" stroke-width=".6"/><text font-size="29" font-weight="bold" text-anchor="middle" fill="#151515" transform="translate(215.83 514.6) rotate(-30) scale(0.1 0.1)">10<tspan dy="-10" font-size="19">3</tspan></text><path d="M229.27 509.9v1.6" stroke="#222" stroke-width=".6"/><text font-size="29" font-weight="bold" text-anchor="middle" fill="#151515" transform="translate(229.87 514.6) rotate(-30) scale(0.1 0.1)">10<tspan dy="-10" font-size="19">4</tspan></text><path d="M243.3 509.9v1.6" stroke="#222" stroke-width=".6"/><text font-size="29" font-weight="bold" text-anchor="middle" fill="#151515" transform="translate(243.9 514.6) rotate(-30) scale(0.1 0.1)">10<tspan dy="-10" font-size="19">5</tspan></text><text font-size="74" font-weight="normal" text-anchor="middle" fill="#111" transform="translate(194.9 472.75) rotate(-90) scale(0.1 0.1)">PI</text><text font-size="26" font-weight="bold" text-anchor="middle" fill="#444" transform="translate(188.6 474.15) rotate(-90) scale(0.1 0.1)">PE-A :: PI-A</text><text font-size="25" font-weight="normal" text-anchor="start" fill="#2a2a2a" transform="translate(200.3 439.2) scale(0.1 0.1)">Q1</text><text font-size="25" font-weight="normal" text-anchor="start" fill="#2a2a2a" transform="translate(200.3 442.6) scale(0.1 0.1)">0.66</text><text font-size="25" font-weight="normal" text-anchor="end" fill="#2a2a2a" transform="translate(246.9 439.2) scale(0.1 0.1)">Q2</text><text font-size="25" font-weight="normal" text-anchor="end" fill="#2a2a2a" transform="translate(246.9 442.6) scale(0.1 0.1)">1.26</text><text font-size="25" font-weight="normal" text-anchor="end" fill="#2a2a2a" transform="translate(246.9 503.3) scale(0.1 0.1)">Q3</text><text font-size="25" font-weight="normal" text-anchor="end" fill="#2a2a2a" transform="translate(246.9 506.9) scale(0.1 0.1)">0.00</text><text font-size="25" font-weight="normal" text-anchor="start" fill="#2a2a2a" transform="translate(200.3 503.3) scale(0.1 0.1)">Q4</text><text font-size="25" font-weight="normal" text-anchor="start" fill="#2a2a2a" transform="translate(200.3 506.9) scale(0.1 0.1)">93.5</text><text font-size="62" font-weight="normal" text-anchor="middle" fill="#0a0a0a" transform="translate(219.55 521.52) scale(0.1 0.1)" stroke="#0a0a0a" stroke-width="2" textLength="269" lengthAdjust="spacingAndGlyphs">Annexin V</text><text font-size="59" font-weight="bold" text-anchor="middle" fill="#050505" transform="translate(218.95 529.6) scale(0.1 0.1)" stroke="#050505" stroke-width="3">+ Serum/ H<tspan dy="19" font-size="36">2</tspan><tspan dy="-19">O</tspan><tspan dy="19" font-size="36">2</tspan><tspan dy="-19"> + NAC</tspan></text></g><g><rect x="265.65" y="432.25" width="70.7" height="101.7" fill="#e9e9e9" stroke="#3c3c3c" stroke-width="1.1"/><rect x="269.4" y="436.4" width="63.2" height="79.7" fill="#e5e5e5" stroke="#3a3a3a" stroke-width=".8"/><rect x="281.6" y="436.6" width="50.8" height="72.9" fill="#fff"/><clipPath id="cpc3"><rect x="281.6" y="436.6" width="50.8" height="72.9"/></clipPath><g clip-path="url(#cpc3)"><g transform="translate(281.6 436.6)"><path d="M9.6 44.2C10 41.3 13 36.1 14.7 31.9C16.4 27.6 18.2 22.6 19.9 18.5C21.6 14.4 23.1 10.5 25 7.3C26.9 4 28.8 0.5 31.1 -1C33.5 -2.4 38.2 -3.2 39.3 -1.5C40.5 0.2 38.2 5.3 38.3 9.3C38.5 13.3 40.4 18.7 40.4 22.6C40.4 26.6 39.3 29.6 38.3 32.9C37.3 36.1 35.8 38.9 34.2 42.1C32.7 45.4 30.6 49.3 29.1 52.4C27.6 55.4 26.7 60.2 25 60.6C23.3 60.9 20.9 56.3 18.8 54.4C16.8 52.5 14.2 51 12.7 49.3C11.2 47.6 9.3 47.1 9.6 44.2Z" fill="#000" filter="url(#sp0)"/><path d="M11.2 42.9C11.5 40.3 14.3 35.6 15.8 31.7C17.4 27.8 19 23.3 20.5 19.6C22.1 15.9 23.5 12.3 25.2 9.3C26.9 6.4 28.6 3.2 30.8 1.9C32.9 0.6 37.1 -0.1 38.2 1.4C39.3 3 37.1 7.6 37.3 11.2C37.4 14.9 39.1 19.7 39.1 23.3C39.1 26.9 38.2 29.7 37.3 32.6C36.4 35.6 35 38.1 33.6 41C32.2 44 30.3 47.6 28.9 50.4C27.5 53.1 26.7 57.5 25.2 57.8C23.6 58.1 21.4 53.9 19.6 52.2C17.7 50.5 15.4 49.1 14 47.6C12.6 46 10.9 45.5 11.2 42.9Z" fill="#000" filter="url(#sp1)"/><path d="M19.5 33C19.6 31.5 21.2 28.9 22.1 26.7C22.9 24.6 23.8 22 24.7 19.9C25.6 17.9 26.3 15.8 27.3 14.2C28.3 12.5 29.2 10.7 30.4 10C31.7 9.3 34 8.9 34.6 9.7C35.2 10.6 34 13.2 34.1 15.2C34.2 17.3 35.1 20 35.1 22C35.1 24 34.6 25.6 34.1 27.3C33.6 28.9 32.8 30.3 32 32C31.2 33.6 30.2 35.6 29.4 37.2C28.6 38.8 28.2 41.2 27.3 41.4C26.4 41.6 25.2 39.2 24.2 38.3C23.1 37.3 21.8 36.5 21 35.6C20.2 34.8 19.3 34.5 19.5 33Z" fill="#000" filter="url(#sq)"/><ellipse cx="27.98" cy="30.79" rx="13.32" ry="3.8" transform="rotate(-68 27.98 30.79)" fill="#2aa6e4" opacity="1" filter="url(#bl1)"/><ellipse cx="33.21" cy="1.3" rx="3.04" ry="1.33" transform="rotate(-20 33.21 1.3)" fill="#2aa6e4" opacity="1" filter="url(#bl1)"/><ellipse cx="28.65" cy="29.84" rx="8.37" ry="2.85" transform="rotate(-74 28.65 29.84)" fill="#62c340" opacity="1" filter="url(#bl0)"/><ellipse cx="33.02" cy="1.11" rx="1.71" ry="0.76" transform="rotate(-20 33.02 1.11)" fill="#62c340" opacity="1" filter="url(#bl0)"/><ellipse cx="29.89" cy="28.89" rx="5.23" ry="1.62" transform="rotate(-82 29.89 28.89)" fill="#ece31e" opacity="1" filter="url(#bl0)"/><ellipse cx="30.08" cy="27.93" rx="0.86" ry="2.38" transform="rotate(5 30.08 27.93)" fill="#e6281c" opacity="1" filter="url(#bl0)"/></g></g><path d="M281.6 436.4V509.5H332.6" fill="none" stroke="#222" stroke-width=".7"/><path d="M281.6 509.95H332.4" stroke="#3a3a3a" stroke-width="1.1" stroke-dasharray="1.3 .5" fill="none"/><path d="M318.33 436.6L318.14 509.5" stroke="#aaa" stroke-width=".55" fill="none"/><path d="M281.6 458.35L313.47 458.15Q323.23 458.05 332.5 456.93" stroke="#333" stroke-width=".6" fill="none"/><path d="M281.6 437.2h-1.6" stroke="#222" stroke-width=".6"/><text font-size="27" font-weight="bold" text-anchor="end" fill="#3a3a3a" transform="translate(280.9 438.3) scale(0.1 0.1)">10<tspan dy="-10" font-size="19">7</tspan></text><path d="M281.6 447.27h-1.6" stroke="#222" stroke-width=".6"/><text font-size="27" font-weight="bold" text-anchor="end" fill="#3a3a3a" transform="translate(280.9 448.37) scale(0.1 0.1)">10<tspan dy="-10" font-size="19">6</tspan></text><path d="M281.6 457.34h-1.6" stroke="#222" stroke-width=".6"/><text font-size="27" font-weight="bold" text-anchor="end" fill="#3a3a3a" transform="translate(280.9 458.44) scale(0.1 0.1)">10<tspan dy="-10" font-size="19">5</tspan></text><path d="M281.6 467.41h-1.6" stroke="#222" stroke-width=".6"/><text font-size="27" font-weight="bold" text-anchor="end" fill="#3a3a3a" transform="translate(280.9 468.51) scale(0.1 0.1)">10<tspan dy="-10" font-size="19">4</tspan></text><path d="M281.6 477.49h-1.6" stroke="#222" stroke-width=".6"/><text font-size="27" font-weight="bold" text-anchor="end" fill="#3a3a3a" transform="translate(280.9 478.59) scale(0.1 0.1)">10<tspan dy="-10" font-size="19">3</tspan></text><path d="M281.6 487.56h-1.6" stroke="#222" stroke-width=".6"/><text font-size="27" font-weight="bold" text-anchor="end" fill="#3a3a3a" transform="translate(280.9 488.66) scale(0.1 0.1)">10<tspan dy="-10" font-size="19">2</tspan></text><path d="M281.6 497.63h-1.6" stroke="#222" stroke-width=".6"/><text font-size="27" font-weight="bold" text-anchor="end" fill="#3a3a3a" transform="translate(280.9 498.73) scale(0.1 0.1)">10<tspan dy="-10" font-size="19">1</tspan></text><path d="M281.6 507.7h-1.6" stroke="#222" stroke-width=".6"/><text font-size="27" font-weight="bold" text-anchor="end" fill="#3a3a3a" transform="translate(280.9 508.8) scale(0.1 0.1)">10<tspan dy="-10" font-size="19">0</tspan></text><path d="M283.8 509.5v1.6" stroke="#222" stroke-width=".6"/><text font-size="29" font-weight="bold" text-anchor="middle" fill="#151515" transform="translate(284.4 514.2) rotate(-30) scale(0.1 0.1)">10<tspan dy="-10" font-size="19">2</tspan></text><path d="M297.93 509.5v1.6" stroke="#222" stroke-width=".6"/><text font-size="29" font-weight="bold" text-anchor="middle" fill="#151515" transform="translate(298.53 514.2) rotate(-30) scale(0.1 0.1)">10<tspan dy="-10" font-size="19">3</tspan></text><path d="M312.07 509.5v1.6" stroke="#222" stroke-width=".6"/><text font-size="29" font-weight="bold" text-anchor="middle" fill="#151515" transform="translate(312.67 514.2) rotate(-30) scale(0.1 0.1)">10<tspan dy="-10" font-size="19">4</tspan></text><path d="M326.2 509.5v1.6" stroke="#222" stroke-width=".6"/><text font-size="29" font-weight="bold" text-anchor="middle" fill="#151515" transform="translate(326.8 514.2) rotate(-30) scale(0.1 0.1)">10<tspan dy="-10" font-size="19">5</tspan></text><text font-size="74" font-weight="normal" text-anchor="middle" fill="#111" transform="translate(277.5 472.35) rotate(-90) scale(0.1 0.1)">PI</text><text font-size="26" font-weight="bold" text-anchor="middle" fill="#444" transform="translate(271.2 473.75) rotate(-90) scale(0.1 0.1)">PE-A :: PI-A</text><text font-size="25" font-weight="normal" text-anchor="start" fill="#2a2a2a" transform="translate(282.9 438.8) scale(0.1 0.1)">Q1</text><text font-size="25" font-weight="normal" text-anchor="start" fill="#2a2a2a" transform="translate(282.9 442.2) scale(0.1 0.1)">0.66</text><text font-size="25" font-weight="normal" text-anchor="end" fill="#2a2a2a" transform="translate(329.8 438.8) scale(0.1 0.1)">Q2</text><text font-size="25" font-weight="normal" text-anchor="end" fill="#2a2a2a" transform="translate(329.8 442.2) scale(0.1 0.1)">1.26</text><text font-size="25" font-weight="normal" text-anchor="end" fill="#2a2a2a" transform="translate(329.8 502.9) scale(0.1 0.1)">Q3</text><text font-size="25" font-weight="normal" text-anchor="end" fill="#2a2a2a" transform="translate(329.8 506.5) scale(0.1 0.1)">0.00</text><text font-size="25" font-weight="normal" text-anchor="start" fill="#2a2a2a" transform="translate(282.9 502.9) scale(0.1 0.1)">Q4</text><text font-size="25" font-weight="normal" text-anchor="start" fill="#2a2a2a" transform="translate(282.9 506.5) scale(0.1 0.1)">93.5</text><text font-size="62" font-weight="normal" text-anchor="middle" fill="#0a0a0a" transform="translate(302.3 521.28) scale(0.1 0.1)" stroke="#0a0a0a" stroke-width="2" textLength="269" lengthAdjust="spacingAndGlyphs">Annexin V</text><text font-size="59" font-weight="bold" text-anchor="middle" fill="#050505" transform="translate(301.7 529.5) scale(0.1 0.1)" stroke="#050505" stroke-width="3">- Serum</text></g><g><rect x="56.75" y="542.15" width="70.6" height="101.9" fill="#e9e9e9" stroke="#3c3c3c" stroke-width="1.1"/><rect x="60.4" y="545.8" width="63.2" height="80.3" fill="#e5e5e5" stroke="#3a3a3a" stroke-width=".8"/><rect x="72.5" y="546" width="50.9" height="73.6" fill="#fff"/><clipPath id="cpc4"><rect x="72.5" y="546" width="50.9" height="73.6"/></clipPath><g clip-path="url(#cpc4)"><g transform="translate(72.5 546)"><path d="M9.6 43.9C9.8 40.6 13.2 35.7 14.7 31.6C16.3 27.5 17.1 23.2 18.8 19.3C20.6 15.3 22.9 11.4 25 8C27 4.6 28.4 0.3 31.1 -1.2C33.9 -2.8 39.5 -3.1 41.4 -1.2C43.3 0.6 41.9 6.8 42.4 10C42.9 13.3 44.5 15.2 44.5 18.2C44.5 21.3 43.6 25.1 42.4 28.5C41.2 31.9 39.2 35.7 37.3 38.8C35.4 41.8 33.4 44.2 31.1 47C28.9 49.7 26 53.4 24 55.2C21.9 56.9 20.6 57.9 18.8 57.2C17.1 56.5 15.3 53.3 13.7 51.1C12.2 48.8 9.4 47.1 9.6 43.9Z" fill="#000" filter="url(#sp0)"/><path d="M11.3 42.5C11.5 39.6 14.6 35.1 16 31.3C17.4 27.6 18.1 23.7 19.7 20.2C21.3 16.6 23.4 13 25.3 9.9C27.2 6.8 28.4 2.9 30.9 1.5C33.4 0.1 38.5 -0.2 40.2 1.5C41.9 3.2 40.7 8.8 41.1 11.8C41.6 14.7 43 16.4 43 19.2C43 22 42.2 25.4 41.1 28.5C40 31.7 38.2 35.1 36.5 37.9C34.8 40.7 32.9 42.8 30.9 45.3C28.9 47.8 26.2 51.2 24.4 52.8C22.5 54.3 21.3 55.3 19.7 54.6C18.1 54 16.4 51.1 15 49.1C13.6 47 11.2 45.5 11.3 42.5Z" fill="#000" filter="url(#sp1)"/><path d="M18.7 32.1C18.8 30.4 20.5 27.9 21.3 25.8C22.1 23.7 22.5 21.6 23.4 19.5C24.2 17.5 25.5 15.5 26.5 13.8C27.6 12 28.3 9.9 29.7 9.1C31 8.3 33.9 8.1 34.9 9.1C35.8 10 35.1 13.2 35.4 14.8C35.7 16.5 36.5 17.5 36.5 19C36.5 20.6 36 22.5 35.4 24.3C34.8 26 33.8 27.9 32.8 29.5C31.8 31.1 30.8 32.3 29.7 33.7C28.5 35.1 27 37 26 37.9C24.9 38.7 24.2 39.3 23.4 38.9C22.5 38.6 21.5 36.9 20.8 35.8C20 34.6 18.6 33.8 18.7 32.1Z" fill="#000" filter="url(#sq)"/><ellipse cx="27.13" cy="27.58" rx="15.22" ry="5.52" transform="rotate(-65 27.13 27.58)" fill="#2aa6e4" opacity="1" filter="url(#bl1)"/><ellipse cx="33.31" cy="1.9" rx="3.33" ry="1.9" transform="rotate(0 33.31 1.9)" fill="#2aa6e4" opacity="1" filter="url(#bl1)"/><ellipse cx="23.8" cy="27.58" rx="8.08" ry="2.66" transform="rotate(-66 23.8 27.58)" fill="#62c340" opacity="1" filter="url(#bl0)"/><ellipse cx="29.99" cy="27.58" rx="6.66" ry="2.38" transform="rotate(-76 29.99 27.58)" fill="#62c340" opacity="1" filter="url(#bl0)"/><ellipse cx="29.03" cy="16.17" rx="5.71" ry="1.14" transform="rotate(-60 29.03 16.17)" fill="#62c340" opacity="1" filter="url(#bl0)"/><ellipse cx="23.61" cy="27.11" rx="4.28" ry="1.33" transform="rotate(-66 23.61 27.11)" fill="#ece31e" opacity="1" filter="url(#bl0)"/><ellipse cx="30.18" cy="26.63" rx="3.33" ry="1.14" transform="rotate(-80 30.18 26.63)" fill="#ece31e" opacity="1" filter="url(#bl0)"/><ellipse cx="23.52" cy="26.82" rx="2.38" ry="0.76" transform="rotate(-66 23.52 26.82)" fill="#e6281c" opacity="1" filter="url(#bl0)"/><ellipse cx="30.18" cy="26.16" rx="1.71" ry="0.67" transform="rotate(-80 30.18 26.16)" fill="#e6281c" opacity="1" filter="url(#bl0)"/><ellipse cx="33.03" cy="1.71" rx="1.33" ry="0.76" transform="rotate(0 33.03 1.71)" fill="#f39a1c" opacity="1" filter="url(#bl0)"/></g></g><path d="M72.5 545.8V619.6H123.6" fill="none" stroke="#222" stroke-width=".7"/><path d="M72.5 620.05H123.4" stroke="#3a3a3a" stroke-width="1.1" stroke-dasharray="1.3 .5" fill="none"/><path d="M109.14 546L108.67 619.6" stroke="#b5b5b5" stroke-width=".55" fill="none"/><path d="M72.5 568.35L104.43 568.15Q114.22 568.05 123.5 566.45" stroke="#333" stroke-width=".6" fill="none"/><path d="M72.5 546.6h-1.6" stroke="#222" stroke-width=".6"/><text font-size="27" font-weight="bold" text-anchor="end" fill="#3a3a3a" transform="translate(71.8 547.7) scale(0.1 0.1)">10<tspan dy="-10" font-size="19">7</tspan></text><path d="M72.5 556.77h-1.6" stroke="#222" stroke-width=".6"/><text font-size="27" font-weight="bold" text-anchor="end" fill="#3a3a3a" transform="translate(71.8 557.87) scale(0.1 0.1)">10<tspan dy="-10" font-size="19">6</tspan></text><path d="M72.5 566.94h-1.6" stroke="#222" stroke-width=".6"/><text font-size="27" font-weight="bold" text-anchor="end" fill="#3a3a3a" transform="translate(71.8 568.04) scale(0.1 0.1)">10<tspan dy="-10" font-size="19">5</tspan></text><path d="M72.5 577.11h-1.6" stroke="#222" stroke-width=".6"/><text font-size="27" font-weight="bold" text-anchor="end" fill="#3a3a3a" transform="translate(71.8 578.21) scale(0.1 0.1)">10<tspan dy="-10" font-size="19">4</tspan></text><path d="M72.5 587.29h-1.6" stroke="#222" stroke-width=".6"/><text font-size="27" font-weight="bold" text-anchor="end" fill="#3a3a3a" transform="translate(71.8 588.39) scale(0.1 0.1)">10<tspan dy="-10" font-size="19">3</tspan></text><path d="M72.5 597.46h-1.6" stroke="#222" stroke-width=".6"/><text font-size="27" font-weight="bold" text-anchor="end" fill="#3a3a3a" transform="translate(71.8 598.56) scale(0.1 0.1)">10<tspan dy="-10" font-size="19">2</tspan></text><path d="M72.5 607.63h-1.6" stroke="#222" stroke-width=".6"/><text font-size="27" font-weight="bold" text-anchor="end" fill="#3a3a3a" transform="translate(71.8 608.73) scale(0.1 0.1)">10<tspan dy="-10" font-size="19">1</tspan></text><path d="M72.5 617.8h-1.6" stroke="#222" stroke-width=".6"/><text font-size="27" font-weight="bold" text-anchor="end" fill="#3a3a3a" transform="translate(71.8 618.9) scale(0.1 0.1)">10<tspan dy="-10" font-size="19">0</tspan></text><path d="M74.7 619.6v1.6" stroke="#222" stroke-width=".6"/><text font-size="29" font-weight="bold" text-anchor="middle" fill="#151515" transform="translate(75.3 624.3) rotate(-30) scale(0.1 0.1)">10<tspan dy="-10" font-size="19">2</tspan></text><path d="M88.87 619.6v1.6" stroke="#222" stroke-width=".6"/><text font-size="29" font-weight="bold" text-anchor="middle" fill="#151515" transform="translate(89.47 624.3) rotate(-30) scale(0.1 0.1)">10<tspan dy="-10" font-size="19">3</tspan></text><path d="M103.03 619.6v1.6" stroke="#222" stroke-width=".6"/><text font-size="29" font-weight="bold" text-anchor="middle" fill="#151515" transform="translate(103.63 624.3) rotate(-30) scale(0.1 0.1)">10<tspan dy="-10" font-size="19">4</tspan></text><path d="M117.2 619.6v1.6" stroke="#222" stroke-width=".6"/><text font-size="29" font-weight="bold" text-anchor="middle" fill="#151515" transform="translate(117.8 624.3) rotate(-30) scale(0.1 0.1)">10<tspan dy="-10" font-size="19">5</tspan></text><text font-size="74" font-weight="normal" text-anchor="middle" fill="#111" transform="translate(68.4 582.1) rotate(-90) scale(0.1 0.1)">PI</text><text font-size="26" font-weight="bold" text-anchor="middle" fill="#444" transform="translate(62.2 583.5) rotate(-90) scale(0.1 0.1)">PE-A :: PI-A</text><text font-size="25" font-weight="normal" text-anchor="start" fill="#2a2a2a" transform="translate(73.8 548.2) scale(0.1 0.1)">Q1</text><text font-size="25" font-weight="normal" text-anchor="start" fill="#2a2a2a" transform="translate(73.8 551.6) scale(0.1 0.1)">0.66</text><text font-size="25" font-weight="normal" text-anchor="end" fill="#2a2a2a" transform="translate(120.8 548.2) scale(0.1 0.1)">Q2</text><text font-size="25" font-weight="normal" text-anchor="end" fill="#2a2a2a" transform="translate(120.8 551.6) scale(0.1 0.1)">1.26</text><text font-size="25" font-weight="normal" text-anchor="end" fill="#2a2a2a" transform="translate(120.8 613) scale(0.1 0.1)">Q3</text><text font-size="25" font-weight="normal" text-anchor="end" fill="#2a2a2a" transform="translate(120.8 616.6) scale(0.1 0.1)">0.00</text><text font-size="25" font-weight="normal" text-anchor="start" fill="#2a2a2a" transform="translate(73.8 613) scale(0.1 0.1)">Q4</text><text font-size="25" font-weight="normal" text-anchor="start" fill="#2a2a2a" transform="translate(73.8 616.6) scale(0.1 0.1)">93.5</text><text font-size="62" font-weight="normal" text-anchor="middle" fill="#0a0a0a" transform="translate(93.35 631.6) scale(0.1 0.1)" stroke="#0a0a0a" stroke-width="2" textLength="269" lengthAdjust="spacingAndGlyphs">Annexin V</text><text font-size="59" font-weight="bold" text-anchor="middle" fill="#050505" transform="translate(92.75 639.3) scale(0.1 0.1)" stroke="#050505" stroke-width="3">- Serum/ H<tspan dy="19" font-size="36">2</tspan><tspan dy="-19">O</tspan><tspan dy="19" font-size="36">2</tspan></text></g><g><rect x="140.55" y="542.15" width="70.6" height="101.9" fill="#e9e9e9" stroke="#3c3c3c" stroke-width="1.1"/><rect x="144.2" y="545.8" width="63.2" height="80.3" fill="#e5e5e5" stroke="#3a3a3a" stroke-width=".8"/><rect x="156.3" y="546" width="50.9" height="73.6" fill="#fff"/><clipPath id="cpc5"><rect x="156.3" y="546" width="50.9" height="73.6"/></clipPath><g clip-path="url(#cpc5)"><g transform="translate(156.3 546)"><path d="M8.8 43.9C9 41 12.3 36.7 14 32.6C15.7 28.5 17.2 23.4 19.1 19.3C21 15.2 23.2 11.4 25.3 8C27.3 4.6 28.8 0.3 31.4 -1.3C34 -2.8 38.9 -3.1 40.6 -1.3C42.3 0.6 41.1 6.4 41.7 10C42.2 13.6 43.7 17 43.7 20.3C43.7 23.5 42.9 26.3 41.7 29.5C40.5 32.8 38.4 36.7 36.5 39.8C34.7 42.8 32.6 45.4 30.4 48C28.2 50.5 25.3 53.9 23.2 55.1C21.2 56.3 19.8 56 18.1 55.1C16.4 54.3 14.5 51.9 13 50C11.4 48.1 8.7 46.8 8.8 43.9Z" fill="#000" filter="url(#sp0)"/><path d="M10.6 42.5C10.7 39.9 13.7 36 15.2 32.3C16.8 28.5 18.2 23.9 19.9 20.2C21.6 16.4 23.6 13 25.5 9.9C27.3 6.8 28.7 2.9 31.1 1.5C33.4 0.1 37.9 -0.2 39.5 1.5C41 3.2 39.9 8.5 40.4 11.8C40.9 15 42.3 18.1 42.3 21.1C42.3 24 41.5 26.5 40.4 29.5C39.3 32.4 37.4 36 35.7 38.8C34 41.6 32.2 43.9 30.1 46.3C28.1 48.6 25.5 51.7 23.6 52.8C21.7 53.9 20.5 53.6 18.9 52.8C17.4 52 15.7 49.8 14.3 48.1C12.9 46.4 10.4 45.2 10.6 42.5Z" fill="#000" filter="url(#sp1)"/><path d="M18.8 32.2C18.9 30.7 20.6 28.6 21.5 26.5C22.3 24.4 23.1 21.8 24.1 19.7C25 17.6 26.2 15.6 27.2 13.9C28.3 12.2 29 10 30.4 9.2C31.7 8.4 34.2 8.2 35.1 9.2C35.9 10.2 35.3 13.1 35.6 15C35.8 16.8 36.6 18.5 36.6 20.2C36.6 21.8 36.2 23.2 35.6 24.9C35 26.5 33.9 28.6 33 30.1C32 31.7 31 33 29.8 34.3C28.7 35.6 27.2 37.4 26.2 38C25.1 38.6 24.4 38.4 23.6 38C22.7 37.5 21.7 36.3 20.9 35.4C20.2 34.4 18.8 33.7 18.8 32.2Z" fill="#000" filter="url(#sq)"/><ellipse cx="28.28" cy="28.53" rx="14.27" ry="4.57" transform="rotate(-65 28.28 28.53)" fill="#2aa6e4" opacity="1" filter="url(#bl1)"/><ellipse cx="33.51" cy="1.71" rx="3.04" ry="1.33" transform="rotate(0 33.51 1.71)" fill="#2aa6e4" opacity="1" filter="url(#bl1)"/><ellipse cx="26.38" cy="27.58" rx="7.13" ry="2.09" transform="rotate(-62 26.38 27.58)" fill="#62c340" opacity="1" filter="url(#bl0)"/><ellipse cx="30.66" cy="27.58" rx="6.18" ry="2.38" transform="rotate(-72 30.66 27.58)" fill="#62c340" opacity="1" filter="url(#bl0)"/><ellipse cx="31.14" cy="18.07" rx="4.76" ry="0.95" transform="rotate(-65 31.14 18.07)" fill="#62c340" opacity="1" filter="url(#bl0)"/><ellipse cx="33.51" cy="1.43" rx="1.52" ry="0.67" transform="rotate(0 33.51 1.43)" fill="#62c340" opacity="1" filter="url(#bl0)"/><ellipse cx="30.95" cy="27.11" rx="3.8" ry="1.43" transform="rotate(-75 30.95 27.11)" fill="#ece31e" opacity="1" filter="url(#bl0)"/><ellipse cx="25.62" cy="28.06" rx="3.33" ry="0.95" transform="rotate(-62 25.62 28.06)" fill="#ece31e" opacity="1" filter="url(#bl0)"/><ellipse cx="31.14" cy="26.16" rx="2.09" ry="0.86" transform="rotate(-75 31.14 26.16)" fill="#e6281c" opacity="1" filter="url(#bl0)"/></g></g><path d="M156.3 545.8V619.6H207.4" fill="none" stroke="#222" stroke-width=".7"/><path d="M156.3 620.05H207.2" stroke="#3a3a3a" stroke-width="1.1" stroke-dasharray="1.3 .5" fill="none"/><path d="M192.67 546L192.38 619.6" stroke="#333" stroke-width=".55" fill="none"/><path d="M156.3 568.64L188.23 568.44Q198.02 568.34 207.3 566.93" stroke="#333" stroke-width=".6" fill="none"/><path d="M156.3 546.6h-1.6" stroke="#222" stroke-width=".6"/><text font-size="27" font-weight="bold" text-anchor="end" fill="#3a3a3a" transform="translate(155.6 547.7) scale(0.1 0.1)">10<tspan dy="-10" font-size="19">7</tspan></text><path d="M156.3 556.77h-1.6" stroke="#222" stroke-width=".6"/><text font-size="27" font-weight="bold" text-anchor="end" fill="#3a3a3a" transform="translate(155.6 557.87) scale(0.1 0.1)">10<tspan dy="-10" font-size="19">6</tspan></text><path d="M156.3 566.94h-1.6" stroke="#222" stroke-width=".6"/><text font-size="27" font-weight="bold" text-anchor="end" fill="#3a3a3a" transform="translate(155.6 568.04) scale(0.1 0.1)">10<tspan dy="-10" font-size="19">5</tspan></text><path d="M156.3 577.11h-1.6" stroke="#222" stroke-width=".6"/><text font-size="27" font-weight="bold" text-anchor="end" fill="#3a3a3a" transform="translate(155.6 578.21) scale(0.1 0.1)">10<tspan dy="-10" font-size="19">4</tspan></text><path d="M156.3 587.29h-1.6" stroke="#222" stroke-width=".6"/><text font-size="27" font-weight="bold" text-anchor="end" fill="#3a3a3a" transform="translate(155.6 588.39) scale(0.1 0.1)">10<tspan dy="-10" font-size="19">3</tspan></text><path d="M156.3 597.46h-1.6" stroke="#222" stroke-width=".6"/><text font-size="27" font-weight="bold" text-anchor="end" fill="#3a3a3a" transform="translate(155.6 598.56) scale(0.1 0.1)">10<tspan dy="-10" font-size="19">2</tspan></text><path d="M156.3 607.63h-1.6" stroke="#222" stroke-width=".6"/><text font-size="27" font-weight="bold" text-anchor="end" fill="#3a3a3a" transform="translate(155.6 608.73) scale(0.1 0.1)">10<tspan dy="-10" font-size="19">1</tspan></text><path d="M156.3 617.8h-1.6" stroke="#222" stroke-width=".6"/><text font-size="27" font-weight="bold" text-anchor="end" fill="#3a3a3a" transform="translate(155.6 618.9) scale(0.1 0.1)">10<tspan dy="-10" font-size="19">0</tspan></text><path d="M158.5 619.6v1.6" stroke="#222" stroke-width=".6"/><text font-size="29" font-weight="bold" text-anchor="middle" fill="#151515" transform="translate(159.1 624.3) rotate(-30) scale(0.1 0.1)">10<tspan dy="-10" font-size="19">2</tspan></text><path d="M172.67 619.6v1.6" stroke="#222" stroke-width=".6"/><text font-size="29" font-weight="bold" text-anchor="middle" fill="#151515" transform="translate(173.27 624.3) rotate(-30) scale(0.1 0.1)">10<tspan dy="-10" font-size="19">3</tspan></text><path d="M186.83 619.6v1.6" stroke="#222" stroke-width=".6"/><text font-size="29" font-weight="bold" text-anchor="middle" fill="#151515" transform="translate(187.43 624.3) rotate(-30) scale(0.1 0.1)">10<tspan dy="-10" font-size="19">4</tspan></text><path d="M201 619.6v1.6" stroke="#222" stroke-width=".6"/><text font-size="29" font-weight="bold" text-anchor="middle" fill="#151515" transform="translate(201.6 624.3) rotate(-30) scale(0.1 0.1)">10<tspan dy="-10" font-size="19">5</tspan></text><text font-size="74" font-weight="normal" text-anchor="middle" fill="#111" transform="translate(152.2 582.1) rotate(-90) scale(0.1 0.1)">PI</text><text font-size="26" font-weight="bold" text-anchor="middle" fill="#444" transform="translate(146 583.5) rotate(-90) scale(0.1 0.1)">PE-A :: PI-A</text><text font-size="25" font-weight="normal" text-anchor="start" fill="#2a2a2a" transform="translate(157.6 548.2) scale(0.1 0.1)">Q1</text><text font-size="25" font-weight="normal" text-anchor="start" fill="#2a2a2a" transform="translate(157.6 551.6) scale(0.1 0.1)">0.66</text><text font-size="25" font-weight="normal" text-anchor="end" fill="#2a2a2a" transform="translate(204.6 548.2) scale(0.1 0.1)">Q2</text><text font-size="25" font-weight="normal" text-anchor="end" fill="#2a2a2a" transform="translate(204.6 551.6) scale(0.1 0.1)">1.26</text><text font-size="25" font-weight="normal" text-anchor="end" fill="#2a2a2a" transform="translate(204.6 613) scale(0.1 0.1)">Q3</text><text font-size="25" font-weight="normal" text-anchor="end" fill="#2a2a2a" transform="translate(204.6 616.6) scale(0.1 0.1)">0.00</text><text font-size="25" font-weight="normal" text-anchor="start" fill="#2a2a2a" transform="translate(157.6 613) scale(0.1 0.1)">Q4</text><text font-size="25" font-weight="normal" text-anchor="start" fill="#2a2a2a" transform="translate(157.6 616.6) scale(0.1 0.1)">93.5</text><text font-size="62" font-weight="normal" text-anchor="middle" fill="#0a0a0a" transform="translate(177.15 631.6) scale(0.1 0.1)" stroke="#0a0a0a" stroke-width="2" textLength="269" lengthAdjust="spacingAndGlyphs">Annexin V</text><text font-size="59" font-weight="bold" text-anchor="middle" fill="#050505" transform="translate(176.55 639.3) scale(0.1 0.1)" stroke="#050505" stroke-width="3">- Serum/ H<tspan dy="19" font-size="36">2</tspan><tspan dy="-19">O</tspan><tspan dy="19" font-size="36">2</tspan><tspan dy="-19"> + NAC</tspan></text></g><g><rect x="224.55" y="542.15" width="70.6" height="101.9" fill="#e9e9e9" stroke="#3c3c3c" stroke-width="1.1"/><rect x="228.2" y="545.8" width="63.2" height="80.3" fill="#e5e5e5" stroke="#3a3a3a" stroke-width=".8"/><rect x="240.3" y="546" width="50.9" height="73.6" fill="#fff"/><clipPath id="cpc6"><rect x="240.3" y="546" width="50.9" height="73.6"/></clipPath><g clip-path="url(#cpc6)"><g transform="translate(240.3 546)"><path d="M12.8 45.9C13.2 42.9 15.7 37 16.9 32.6C18.1 28.2 18.6 23.5 20 19.3C21.4 15 23.4 10.4 25.1 7C26.8 3.5 27.7 0.1 30.3 -1.2C32.8 -2.6 38.6 -2.8 40.5 -1.2C42.4 0.3 41 4.9 41.5 8C42.1 11.1 43.6 13.8 43.6 17.2C43.6 20.6 42.6 25.1 41.5 28.5C40.5 31.9 39.2 34.6 37.4 37.7C35.7 40.8 33.5 43.9 31.3 47C29.1 50 26.2 54.3 24.1 56.2C22.1 58.1 20.5 59.1 19 58.2C17.4 57.4 15.9 53.1 14.9 51.1C13.9 49 12.5 49 12.8 45.9Z" fill="#000" filter="url(#sp0)"/><path d="M14.3 44.4C14.6 41.6 16.9 36.3 18 32.3C19.1 28.2 19.5 24 20.8 20.2C22 16.3 23.9 12.1 25.4 9C27 5.9 27.8 2.8 30.1 1.5C32.4 0.3 37.7 0.1 39.4 1.5C41.1 2.9 39.9 7.1 40.4 9.9C40.8 12.7 42.2 15.2 42.2 18.3C42.2 21.4 41.3 25.4 40.4 28.5C39.4 31.7 38.2 34.1 36.6 36.9C35.1 39.7 33.1 42.5 31 45.3C29 48.1 26.4 52 24.5 53.7C22.6 55.4 21.2 56.4 19.9 55.6C18.5 54.8 17.1 50.9 16.1 49.1C15.2 47.2 13.9 47.2 14.3 44.4Z" fill="#000" filter="url(#sp1)"/><path d="M21.8 32.9C22 31.3 23.3 28.3 23.9 26.1C24.5 23.8 24.8 21.4 25.5 19.3C26.2 17.1 27.2 14.7 28.1 13C29 11.2 29.4 9.5 30.7 8.8C32 8.1 35 8 35.9 8.8C36.9 9.6 36.2 11.9 36.5 13.5C36.7 15.1 37.5 16.5 37.5 18.2C37.5 20 37 22.2 36.5 24C35.9 25.7 35.2 27.1 34.4 28.7C33.5 30.2 32.4 31.8 31.2 33.4C30.1 35 28.6 37.1 27.6 38.1C26.5 39.1 25.7 39.6 25 39.1C24.2 38.7 23.4 36.5 22.9 35.5C22.3 34.4 21.6 34.4 21.8 32.9Z" fill="#000" filter="url(#sq)"/><ellipse cx="30.14" cy="25.21" rx="15.22" ry="3.99" transform="rotate(-65 30.14 25.21)" fill="#2aa6e4" opacity="1" filter="url(#bl1)"/><ellipse cx="34.89" cy="2.38" rx="4.28" ry="1.71" transform="rotate(-10 34.89 2.38)" fill="#2aa6e4" opacity="1" filter="url(#bl1)"/><ellipse cx="29.19" cy="27.58" rx="9.51" ry="2.66" transform="rotate(-65 29.19 27.58)" fill="#62c340" opacity="1" filter="url(#bl0)"/><ellipse cx="34.42" cy="19.02" rx="3.8" ry="1.43" transform="rotate(-58 34.42 19.02)" fill="#62c340" opacity="1" filter="url(#bl0)"/><ellipse cx="34.89" cy="2.38" rx="2.85" ry="0.95" transform="rotate(-10 34.89 2.38)" fill="#62c340" opacity="1" filter="url(#bl0)"/><ellipse cx="28.23" cy="28.53" rx="5.23" ry="1.33" transform="rotate(-68 28.23 28.53)" fill="#ece31e" opacity="1" filter="url(#bl0)"/><ellipse cx="34.42" cy="19.02" rx="2.85" ry="0.95" transform="rotate(-58 34.42 19.02)" fill="#ece31e" opacity="1" filter="url(#bl0)"/><ellipse cx="33.94" cy="19.5" rx="2.47" ry="0.76" transform="rotate(-58 33.94 19.5)" fill="#e6281c" opacity="1" filter="url(#bl0)"/></g></g><path d="M240.3 545.8V619.6H291.4" fill="none" stroke="#222" stroke-width=".7"/><path d="M240.3 620.05H291.2" stroke="#3a3a3a" stroke-width="1.1" stroke-dasharray="1.3 .5" fill="none"/><path d="M276.9 546L276.9 619.6" stroke="#333" stroke-width=".55" fill="none"/><path d="M240.3 568.54L272.23 568.34Q282.01 568.24 291.3 566.74" stroke="#333" stroke-width=".6" fill="none"/><path d="M240.3 546.6h-1.6" stroke="#222" stroke-width=".6"/><text font-size="27" font-weight="bold" text-anchor="end" fill="#3a3a3a" transform="translate(239.6 547.7) scale(0.1 0.1)">10<tspan dy="-10" font-size="19">7</tspan></text><path d="M240.3 556.77h-1.6" stroke="#222" stroke-width=".6"/><text font-size="27" font-weight="bold" text-anchor="end" fill="#3a3a3a" transform="translate(239.6 557.87) scale(0.1 0.1)">10<tspan dy="-10" font-size="19">6</tspan></text><path d="M240.3 566.94h-1.6" stroke="#222" stroke-width=".6"/><text font-size="27" font-weight="bold" text-anchor="end" fill="#3a3a3a" transform="translate(239.6 568.04) scale(0.1 0.1)">10<tspan dy="-10" font-size="19">5</tspan></text><path d="M240.3 577.11h-1.6" stroke="#222" stroke-width=".6"/><text font-size="27" font-weight="bold" text-anchor="end" fill="#3a3a3a" transform="translate(239.6 578.21) scale(0.1 0.1)">10<tspan dy="-10" font-size="19">4</tspan></text><path d="M240.3 587.29h-1.6" stroke="#222" stroke-width=".6"/><text font-size="27" font-weight="bold" text-anchor="end" fill="#3a3a3a" transform="translate(239.6 588.39) scale(0.1 0.1)">10<tspan dy="-10" font-size="19">3</tspan></text><path d="M240.3 597.46h-1.6" stroke="#222" stroke-width=".6"/><text font-size="27" font-weight="bold" text-anchor="end" fill="#3a3a3a" transform="translate(239.6 598.56) scale(0.1 0.1)">10<tspan dy="-10" font-size="19">2</tspan></text><path d="M240.3 607.63h-1.6" stroke="#222" stroke-width=".6"/><text font-size="27" font-weight="bold" text-anchor="end" fill="#3a3a3a" transform="translate(239.6 608.73) scale(0.1 0.1)">10<tspan dy="-10" font-size="19">1</tspan></text><path d="M240.3 617.8h-1.6" stroke="#222" stroke-width=".6"/><text font-size="27" font-weight="bold" text-anchor="end" fill="#3a3a3a" transform="translate(239.6 618.9) scale(0.1 0.1)">10<tspan dy="-10" font-size="19">0</tspan></text><path d="M242.5 619.6v1.6" stroke="#222" stroke-width=".6"/><text font-size="29" font-weight="bold" text-anchor="middle" fill="#151515" transform="translate(243.1 624.3) rotate(-30) scale(0.1 0.1)">10<tspan dy="-10" font-size="19">2</tspan></text><path d="M256.67 619.6v1.6" stroke="#222" stroke-width=".6"/><text font-size="29" font-weight="bold" text-anchor="middle" fill="#151515" transform="translate(257.27 624.3) rotate(-30) scale(0.1 0.1)">10<tspan dy="-10" font-size="19">3</tspan></text><path d="M270.83 619.6v1.6" stroke="#222" stroke-width=".6"/><text font-size="29" font-weight="bold" text-anchor="middle" fill="#151515" transform="translate(271.43 624.3) rotate(-30) scale(0.1 0.1)">10<tspan dy="-10" font-size="19">4</tspan></text><path d="M285 619.6v1.6" stroke="#222" stroke-width=".6"/><text font-size="29" font-weight="bold" text-anchor="middle" fill="#151515" transform="translate(285.6 624.3) rotate(-30) scale(0.1 0.1)">10<tspan dy="-10" font-size="19">5</tspan></text><text font-size="74" font-weight="normal" text-anchor="middle" fill="#111" transform="translate(236.2 582.1) rotate(-90) scale(0.1 0.1)">PI</text><text font-size="26" font-weight="bold" text-anchor="middle" fill="#444" transform="translate(230 583.5) rotate(-90) scale(0.1 0.1)">PE-A :: PI-A</text><text font-size="25" font-weight="normal" text-anchor="start" fill="#2a2a2a" transform="translate(241.6 548.2) scale(0.1 0.1)">Q1</text><text font-size="25" font-weight="normal" text-anchor="start" fill="#2a2a2a" transform="translate(241.6 551.6) scale(0.1 0.1)">0.66</text><text font-size="25" font-weight="normal" text-anchor="end" fill="#2a2a2a" transform="translate(288.6 548.2) scale(0.1 0.1)">Q2</text><text font-size="25" font-weight="normal" text-anchor="end" fill="#2a2a2a" transform="translate(288.6 551.6) scale(0.1 0.1)">1.26</text><text font-size="25" font-weight="normal" text-anchor="end" fill="#2a2a2a" transform="translate(288.6 613) scale(0.1 0.1)">Q3</text><text font-size="25" font-weight="normal" text-anchor="end" fill="#2a2a2a" transform="translate(288.6 616.6) scale(0.1 0.1)">0.00</text><text font-size="25" font-weight="normal" text-anchor="start" fill="#2a2a2a" transform="translate(241.6 613) scale(0.1 0.1)">Q4</text><text font-size="25" font-weight="normal" text-anchor="start" fill="#2a2a2a" transform="translate(241.6 616.6) scale(0.1 0.1)">93.5</text><text font-size="62" font-weight="normal" text-anchor="middle" fill="#0a0a0a" transform="translate(261.15 631.6) scale(0.1 0.1)" stroke="#0a0a0a" stroke-width="2" textLength="269" lengthAdjust="spacingAndGlyphs">Annexin V</text><text font-size="59" font-weight="bold" text-anchor="middle" fill="#050505" transform="translate(260.55 639.3) scale(0.1 0.1)" stroke="#050505" stroke-width="3">Doxo</text></g><text font-size="15.5" font-weight="normal" text-anchor="start" fill="#111" transform="translate(11.5 13) scale(1 1)" stroke="#111" stroke-width=".3">a</text><text font-size="65" font-weight="bold" text-anchor="start" fill="#111" transform="translate(1.6 27.8) scale(0.1 0.1)" stroke="#111" stroke-width="1.5">i</text><text font-size="65" font-weight="bold" text-anchor="middle" fill="#111" transform="translate(160.5 23) scale(0.1 0.1)" stroke="#111" stroke-width="2.8" textLength="112" lengthAdjust="spacingAndGlyphs">PC3</text><text font-size="14.5" font-weight="normal" text-anchor="start" fill="#111" transform="translate(360.5 12.5) scale(1 1)" stroke="#111" stroke-width=".3">b</text><text font-size="60" font-weight="bold" text-anchor="start" fill="#111" transform="translate(347.1 24.6) scale(0.1 0.1)" stroke="#111" stroke-width="2">i</text><text font-size="63" font-weight="bold" text-anchor="middle" fill="#111" transform="translate(505.2 19.7) scale(0.1 0.1)" stroke="#111" stroke-width="2.8" textLength="185" lengthAdjust="spacingAndGlyphs">DU145</text><text font-size="15" font-weight="bold" text-anchor="start" fill="#111" transform="translate(31.5 411.3) scale(1 1)">c</text><text font-size="60" font-weight="bold" text-anchor="start" fill="#111" transform="translate(17.7 420.8) scale(0.1 0.1)" stroke="#111" stroke-width="2">i</text><text font-size="63" font-weight="bold" text-anchor="middle" fill="#111" transform="translate(175.7 416.8) scale(0.1 0.1)" stroke="#111" stroke-width="2.8" textLength="181" lengthAdjust="spacingAndGlyphs">LNCaP</text><g><path d="M79.8 292.3V282.2H134.2V301.3M93 282.2V298.8" fill="none" stroke="#9a9a9a" stroke-width=".55"/><path d="M79.8 292.75V292.35M77.2 292.35H82.4" stroke="#111" stroke-width=".7" fill="none"/><rect x="75" y="292.75" width="9.6" height="56.65" fill="#0b0b0b"/><rect x="88.2" y="298.87" width="9.7" height="50.53" fill="#a2a2a6"/><path d="M106.95 290.53V290.2M104.35 290.2H109.55" stroke="#7e7e7e" stroke-width=".7" fill="none"/><rect x="102.1" y="290.53" width="9.7" height="58.87" fill="#868686"/><path d="M120.55 290.26V288.72M117.95 288.72H123.15" stroke="#b0b0b0" stroke-width=".7" fill="none"/><rect x="115.5" y="290.26" width="10.1" height="59.14" fill="#d6d7d7" stroke="#a6a6a6" stroke-width=".5"/><path d="M134.15 303.03V301.69M131.55 301.69H136.75" stroke="#555" stroke-width=".7" fill="none"/><rect x="129.3" y="303.03" width="9.7" height="46.37" fill="#5f5f5f"/><path d="M148.05 294.09V293.69M145.45 293.69H150.65" stroke="#96969a" stroke-width=".7" fill="none"/><rect x="143.2" y="294.09" width="9.7" height="55.31" fill="#9c9ca0"/><path d="M72.6 282.2V349.4H155" fill="none" stroke="#1a1a1a" stroke-width=".8"/><path d="M72.6 349.4h-1.6" stroke="#1a1a1a" stroke-width=".7"/><text font-size="58" font-weight="normal" text-anchor="end" fill="#111" transform="translate(70.6 351.5) scale(0.088 0.1)" stroke="#111" stroke-width="1.2">0</text><path d="M72.6 335.96h-1.6" stroke="#1a1a1a" stroke-width=".7"/><text font-size="58" font-weight="normal" text-anchor="end" fill="#111" transform="translate(70.6 338.06) scale(0.088 0.1)" stroke="#111" stroke-width="1.2">20</text><path d="M72.6 322.52h-1.6" stroke="#1a1a1a" stroke-width=".7"/><text font-size="58" font-weight="normal" text-anchor="end" fill="#111" transform="translate(70.6 324.62) scale(0.088 0.1)" stroke="#111" stroke-width="1.2">40</text><path d="M72.6 309.08h-1.6" stroke="#1a1a1a" stroke-width=".7"/><text font-size="58" font-weight="normal" text-anchor="end" fill="#111" transform="translate(70.6 311.18) scale(0.088 0.1)" stroke="#111" stroke-width="1.2">60</text><path d="M72.6 295.64h-1.6" stroke="#1a1a1a" stroke-width=".7"/><text font-size="58" font-weight="normal" text-anchor="end" fill="#111" transform="translate(70.6 297.74) scale(0.088 0.1)" stroke="#111" stroke-width="1.2">80</text><path d="M72.6 282.2h-1.6" stroke="#1a1a1a" stroke-width=".7"/><text font-size="58" font-weight="normal" text-anchor="end" fill="#111" transform="translate(70.6 284.3) scale(0.088 0.1)" stroke="#111" stroke-width="1.2">100</text><text font-size="62" font-weight="normal" text-anchor="middle" fill="#111" transform="translate(61.1 316.2) rotate(-90) scale(0.1 0.1)" stroke="#111" stroke-width="1.2" textLength="475" lengthAdjust="spacing">Cell&#160; Ratio&#160; (%)</text><text font-size="56" font-weight="bold" text-anchor="middle" fill="#111" transform="translate(106.5 266.1) scale(0.1 0.1)" stroke="#111" stroke-width="1" textLength="246" lengthAdjust="spacingAndGlyphs">Live&#160; Cells</text><text font-size="56" font-weight="bold" text-anchor="middle" fill="#111" transform="translate(106.5 273.7) scale(0.1 0.1)" stroke="#111" stroke-width="1" textLength="542" lengthAdjust="spacingAndGlyphs">(average of 3 repeats)</text><text font-size="50" font-weight="bold" text-anchor="start" fill="#111" transform="translate(51 260) scale(0.085 0.1)" stroke="#111" stroke-width="1">ii</text><text font-size="54" font-weight="bold" text-anchor="middle" fill="#111" transform="translate(64 360.7) scale(0.064 0.1)" stroke="#111" stroke-width="1">Serum</text><text font-size="48" font-weight="bold" text-anchor="middle" fill="#111" transform="translate(79.8 360.5) scale(0.075 0.1)" stroke="#111" stroke-width="1">+</text><text font-size="48" font-weight="bold" text-anchor="middle" fill="#111" transform="translate(93.05 360.5) scale(0.075 0.1)" stroke="#111" stroke-width="1">+</text><text font-size="48" font-weight="bold" text-anchor="middle" fill="#111" transform="translate(106.95 360.5) scale(0.075 0.1)" stroke="#111" stroke-width="1">+</text><text font-size="46" font-weight="bold" text-anchor="middle" fill="#444" transform="translate(120.55 360.2) scale(0.07 0.1)">-</text><text font-size="46" font-weight="bold" text-anchor="middle" fill="#444" transform="translate(134.15 360.2) scale(0.07 0.1)">-</text><text font-size="46" font-weight="bold" text-anchor="middle" fill="#444" transform="translate(148.05 360.2) scale(0.07 0.1)">-</text><text font-size="54" font-weight="bold" text-anchor="middle" fill="#111" transform="translate(64 369.2) scale(0.064 0.1)" stroke="#111" stroke-width="1">H<tspan dy="13" font-size="32">2</tspan><tspan dy="-13">O</tspan><tspan dy="13" font-size="32">2</tspan></text><text font-size="46" font-weight="bold" text-anchor="middle" fill="#444" transform="translate(79.8 368.7) scale(0.07 0.1)">-</text><text font-size="48" font-weight="bold" text-anchor="middle" fill="#111" transform="translate(93.05 369) scale(0.075 0.1)" stroke="#111" stroke-width="1">+</text><text font-size="48" font-weight="bold" text-anchor="middle" fill="#111" transform="translate(106.95 369) scale(0.075 0.1)" stroke="#111" stroke-width="1">+</text><text font-size="46" font-weight="bold" text-anchor="middle" fill="#444" transform="translate(120.55 368.7) scale(0.07 0.1)">-</text><text font-size="48" font-weight="bold" text-anchor="middle" fill="#111" transform="translate(134.15 369) scale(0.075 0.1)" stroke="#111" stroke-width="1">+</text><text font-size="48" font-weight="bold" text-anchor="middle" fill="#111" transform="translate(148.05 369) scale(0.075 0.1)" stroke="#111" stroke-width="1">+</text><text font-size="54" font-weight="bold" text-anchor="middle" fill="#111" transform="translate(64 377.4) scale(0.064 0.1)" stroke="#111" stroke-width="1">NAC</text><text font-size="46" font-weight="bold" text-anchor="middle" fill="#444" transform="translate(79.8 376.9) scale(0.07 0.1)">-</text><text font-size="46" font-weight="bold" text-anchor="middle" fill="#444" transform="translate(93.05 376.9) scale(0.07 0.1)">-</text><text font-size="48" font-weight="bold" text-anchor="middle" fill="#111" transform="translate(106.95 377.2) scale(0.075 0.1)" stroke="#111" stroke-width="1">+</text><text font-size="46" font-weight="bold" text-anchor="middle" fill="#444" transform="translate(120.55 376.9) scale(0.07 0.1)">-</text><text font-size="46" font-weight="bold" text-anchor="middle" fill="#444" transform="translate(134.15 376.9) scale(0.07 0.1)">-</text><text font-size="48" font-weight="bold" text-anchor="middle" fill="#111" transform="translate(148.05 377.2) scale(0.075 0.1)" stroke="#111" stroke-width="1">+</text><text font-size="42" font-weight="bold" text-anchor="middle" fill="#222" transform="translate(86.3 281.3) scale(0.08 0.1)">*</text></g><g><path d="M199.8 328.6V282.2H254.7V315" fill="none" stroke="#9a9a9a" stroke-width=".55"/><path d="M200.25 334.51V328.86M197.65 328.86H202.85" stroke="#111" stroke-width=".7" fill="none"/><rect x="195.3" y="334.51" width="9.9" height="14.69" fill="#0b0b0b"/><path d="M213.9 299.71V286.6M211.3 286.6H216.5" stroke="#9a9a9e" stroke-width=".7" fill="none"/><rect x="208.9" y="299.71" width="10" height="49.49" fill="#a2a2a6"/><path d="M227.45 330.44V325.92M224.85 325.92H230.05" stroke="#7e7e7e" stroke-width=".7" fill="none"/><rect x="222.4" y="330.44" width="10.1" height="18.76" fill="#868686"/><path d="M240.95 329.09V323.89M238.35 323.89H243.55" stroke="#b0b0b0" stroke-width=".7" fill="none"/><rect x="235.9" y="329.09" width="10.1" height="20.11" fill="#d6d7d7" stroke="#a6a6a6" stroke-width=".5"/><path d="M254.7 318.92V315.53M252.1 315.53H257.3" stroke="#555" stroke-width=".7" fill="none"/><rect x="249.6" y="318.92" width="10.2" height="30.28" fill="#5f5f5f"/><path d="M268.45 318.46V315.3M265.85 315.3H271.05" stroke="#96969a" stroke-width=".7" fill="none"/><rect x="263.3" y="318.46" width="10.3" height="30.74" fill="#9c9ca0"/><path d="M193.2 281.4V349.2H276" fill="none" stroke="#1a1a1a" stroke-width=".8"/><path d="M193.2 349.2h-1.6" stroke="#1a1a1a" stroke-width=".7"/><text font-size="58" font-weight="normal" text-anchor="end" fill="#111" transform="translate(191.2 351.3) scale(0.088 0.1)" stroke="#111" stroke-width="1.2">0</text><path d="M193.2 326.6h-1.6" stroke="#1a1a1a" stroke-width=".7"/><text font-size="58" font-weight="normal" text-anchor="end" fill="#111" transform="translate(191.2 328.7) scale(0.088 0.1)" stroke="#111" stroke-width="1.2">10</text><path d="M193.2 304h-1.6" stroke="#1a1a1a" stroke-width=".7"/><text font-size="58" font-weight="normal" text-anchor="end" fill="#111" transform="translate(191.2 306.1) scale(0.088 0.1)" stroke="#111" stroke-width="1.2">20</text><path d="M193.2 281.4h-1.6" stroke="#1a1a1a" stroke-width=".7"/><text font-size="58" font-weight="normal" text-anchor="end" fill="#111" transform="translate(191.2 283.5) scale(0.088 0.1)" stroke="#111" stroke-width="1.2">30</text><text font-size="65" font-weight="normal" text-anchor="middle" fill="#111" transform="translate(183.1 316.1) rotate(-90) scale(0.1 0.1)" stroke="#111" stroke-width="1.2" textLength="483" lengthAdjust="spacing">Cell&#160; Ratio&#160; (%)</text><text font-size="56" font-weight="bold" text-anchor="middle" fill="#111" transform="translate(226.9 268.6) scale(0.1 0.1)" stroke="#111" stroke-width="1" textLength="384" lengthAdjust="spacingAndGlyphs">Total Apoptosis</text><text font-size="56" font-weight="bold" text-anchor="middle" fill="#111" transform="translate(226.9 276.2) scale(0.1 0.1)" stroke="#111" stroke-width="1" textLength="538" lengthAdjust="spacingAndGlyphs">(average of 3 repeats)</text><text font-size="50" font-weight="bold" text-anchor="start" fill="#111" transform="translate(171 260) scale(0.085 0.1)" stroke="#111" stroke-width="1">iii</text><text font-size="54" font-weight="bold" text-anchor="middle" fill="#111" transform="translate(184.6 361.3) scale(0.064 0.1)" stroke="#111" stroke-width="1">Serum</text><text font-size="48" font-weight="bold" text-anchor="middle" fill="#111" transform="translate(200.25 361.1) scale(0.075 0.1)" stroke="#111" stroke-width="1">+</text><text font-size="48" font-weight="bold" text-anchor="middle" fill="#111" transform="translate(213.9 361.1) scale(0.075 0.1)" stroke="#111" stroke-width="1">+</text><text font-size="48" font-weight="bold" text-anchor="middle" fill="#111" transform="translate(227.45 361.1) scale(0.075 0.1)" stroke="#111" stroke-width="1">+</text><text font-size="46" font-weight="bold" text-anchor="middle" fill="#444" transform="translate(240.95 360.8) scale(0.07 0.1)">-</text><text font-size="46" font-weight="bold" text-anchor="middle" fill="#444" transform="translate(254.7 360.8) scale(0.07 0.1)">-</text><text font-size="46" font-weight="bold" text-anchor="middle" fill="#444" transform="translate(268.45 360.8) scale(0.07 0.1)">-</text><text font-size="54" font-weight="bold" text-anchor="middle" fill="#111" transform="translate(184.6 369.3) scale(0.064 0.1)" stroke="#111" stroke-width="1">H<tspan dy="13" font-size="32">2</tspan><tspan dy="-13">O</tspan><tspan dy="13" font-size="32">2</tspan></text><text font-size="46" font-weight="bold" text-anchor="middle" fill="#444" transform="translate(200.25 368.8) scale(0.07 0.1)">-</text><text font-size="48" font-weight="bold" text-anchor="middle" fill="#111" transform="translate(213.9 369.1) scale(0.075 0.1)" stroke="#111" stroke-width="1">+</text><text font-size="48" font-weight="bold" text-anchor="middle" fill="#111" transform="translate(227.45 369.1) scale(0.075 0.1)" stroke="#111" stroke-width="1">+</text><text font-size="46" font-weight="bold" text-anchor="middle" fill="#444" transform="translate(240.95 368.8) scale(0.07 0.1)">-</text><text font-size="48" font-weight="bold" text-anchor="middle" fill="#111" transform="translate(254.7 369.1) scale(0.075 0.1)" stroke="#111" stroke-width="1">+</text><text font-size="48" font-weight="bold" text-anchor="middle" fill="#111" transform="translate(268.45 369.1) scale(0.075 0.1)" stroke="#111" stroke-width="1">+</text><text font-size="54" font-weight="bold" text-anchor="middle" fill="#111" transform="translate(184.6 377.6) scale(0.064 0.1)" stroke="#111" stroke-width="1">NAC</text><text font-size="46" font-weight="bold" text-anchor="middle" fill="#444" transform="translate(200.25 377.1) scale(0.07 0.1)">-</text><text font-size="46" font-weight="bold" text-anchor="middle" fill="#444" transform="translate(213.9 377.1) scale(0.07 0.1)">-</text><text font-size="48" font-weight="bold" text-anchor="middle" fill="#111" transform="translate(227.45 377.4) scale(0.075 0.1)" stroke="#111" stroke-width="1">+</text><text font-size="46" font-weight="bold" text-anchor="middle" fill="#444" transform="translate(240.95 377.1) scale(0.07 0.1)">-</text><text font-size="46" font-weight="bold" text-anchor="middle" fill="#444" transform="translate(254.7 377.1) scale(0.07 0.1)">-</text><text font-size="48" font-weight="bold" text-anchor="middle" fill="#111" transform="translate(268.45 377.4) scale(0.075 0.1)" stroke="#111" stroke-width="1">+</text><text font-size="42" font-weight="bold" text-anchor="middle" fill="#222" transform="translate(206.6 281) scale(0.08 0.1)">*</text></g><g><path d="M414 284.3V282.4H471.3V291M428 282.4V310.2" fill="none" stroke="#808080" stroke-width=".55"/><path d="M414 284.84V283.6M411.4 283.6H416.6" stroke="#111" stroke-width=".7" fill="none"/><rect x="408.7" y="284.84" width="10.6" height="64.36" fill="#0b0b0b"/><path d="M428.05 310.31V309.89M425.45 309.89H430.65" stroke="#9a9a9e" stroke-width=".7" fill="none"/><rect x="422.7" y="310.31" width="10.7" height="38.89" fill="#a2a2a6"/><path d="M442.35 285.54V284.5M439.75 284.5H444.95" stroke="#7e7e7e" stroke-width=".7" fill="none"/><rect x="436.9" y="285.54" width="10.9" height="63.66" fill="#868686"/><path d="M456.6 287.61V285.19M454 285.19H459.2" stroke="#b0b0b0" stroke-width=".7" fill="none"/><rect x="451.2" y="287.61" width="10.8" height="61.59" fill="#d6d7d7" stroke="#a6a6a6" stroke-width=".5"/><path d="M471.25 291.56V290.73M468.65 290.73H473.85" stroke="#555" stroke-width=".7" fill="none"/><rect x="465.8" y="291.56" width="10.9" height="57.64" fill="#5f5f5f"/><path d="M485.8 286.71V284.91M483.2 284.91H488.4" stroke="#96969a" stroke-width=".7" fill="none"/><rect x="480.3" y="286.71" width="11" height="62.49" fill="#9c9ca0"/><path d="M406.8 280V349.2H493.5" fill="none" stroke="#1a1a1a" stroke-width=".8"/><path d="M406.8 349.2h-1.6" stroke="#1a1a1a" stroke-width=".7"/><text font-size="58" font-weight="normal" text-anchor="end" fill="#111" transform="translate(404.8 351.3) scale(0.088 0.1)" stroke="#111" stroke-width="1.2">0</text><path d="M406.8 335.36h-1.6" stroke="#1a1a1a" stroke-width=".7"/><text font-size="58" font-weight="normal" text-anchor="end" fill="#111" transform="translate(404.8 337.46) scale(0.088 0.1)" stroke="#111" stroke-width="1.2">20</text><path d="M406.8 321.52h-1.6" stroke="#1a1a1a" stroke-width=".7"/><text font-size="58" font-weight="normal" text-anchor="end" fill="#111" transform="translate(404.8 323.62) scale(0.088 0.1)" stroke="#111" stroke-width="1.2">40</text><path d="M406.8 307.68h-1.6" stroke="#1a1a1a" stroke-width=".7"/><text font-size="58" font-weight="normal" text-anchor="end" fill="#111" transform="translate(404.8 309.78) scale(0.088 0.1)" stroke="#111" stroke-width="1.2">60</text><path d="M406.8 293.84h-1.6" stroke="#1a1a1a" stroke-width=".7"/><text font-size="58" font-weight="normal" text-anchor="end" fill="#111" transform="translate(404.8 295.94) scale(0.088 0.1)" stroke="#111" stroke-width="1.2">80</text><path d="M406.8 280h-1.6" stroke="#1a1a1a" stroke-width=".7"/><text font-size="58" font-weight="normal" text-anchor="end" fill="#111" transform="translate(404.8 282.1) scale(0.088 0.1)" stroke="#111" stroke-width="1.2">100</text><text font-size="59" font-weight="normal" text-anchor="middle" fill="#111" transform="translate(395.3 319.2) rotate(-90) scale(0.1 0.1)" stroke="#111" stroke-width="1.2" textLength="422" lengthAdjust="spacing">Cell&#160; Ratio&#160; (%)</text><text font-size="56" font-weight="bold" text-anchor="middle" fill="#111" transform="translate(446.4 268.8) scale(0.1 0.1)" stroke="#111" stroke-width="1" textLength="250" lengthAdjust="spacingAndGlyphs">Live Cells</text><text font-size="56" font-weight="bold" text-anchor="middle" fill="#111" transform="translate(446.4 276) scale(0.1 0.1)" stroke="#111" stroke-width="1" textLength="565" lengthAdjust="spacingAndGlyphs">(average of 3 repeats)</text><text font-size="50" font-weight="bold" text-anchor="start" fill="#111" transform="translate(384.4 257.6) scale(0.085 0.1)" stroke="#111" stroke-width="1">ii</text><text font-size="54" font-weight="bold" text-anchor="middle" fill="#111" transform="translate(397 360.5) scale(0.064 0.1)" stroke="#111" stroke-width="1">Serum</text><text font-size="48" font-weight="bold" text-anchor="middle" fill="#111" transform="translate(414 360.3) scale(0.075 0.1)" stroke="#111" stroke-width="1">+</text><text font-size="48" font-weight="bold" text-anchor="middle" fill="#111" transform="translate(428.05 360.3) scale(0.075 0.1)" stroke="#111" stroke-width="1">+</text><text font-size="48" font-weight="bold" text-anchor="middle" fill="#111" transform="translate(442.35 360.3) scale(0.075 0.1)" stroke="#111" stroke-width="1">+</text><text font-size="46" font-weight="bold" text-anchor="middle" fill="#444" transform="translate(456.6 360) scale(0.07 0.1)">-</text><text font-size="46" font-weight="bold" text-anchor="middle" fill="#444" transform="translate(471.25 360) scale(0.07 0.1)">-</text><text font-size="46" font-weight="bold" text-anchor="middle" fill="#444" transform="translate(485.8 360) scale(0.07 0.1)">-</text><text font-size="54" font-weight="bold" text-anchor="middle" fill="#111" transform="translate(397 368.5) scale(0.064 0.1)" stroke="#111" stroke-width="1">H<tspan dy="13" font-size="32">2</tspan><tspan dy="-13">O</tspan><tspan dy="13" font-size="32">2</tspan></text><text font-size="46" font-weight="bold" text-anchor="middle" fill="#444" transform="translate(414 368) scale(0.07 0.1)">-</text><text font-size="48" font-weight="bold" text-anchor="middle" fill="#111" transform="translate(428.05 368.3) scale(0.075 0.1)" stroke="#111" stroke-width="1">+</text><text font-size="48" font-weight="bold" text-anchor="middle" fill="#111" transform="translate(442.35 368.3) scale(0.075 0.1)" stroke="#111" stroke-width="1">+</text><text font-size="46" font-weight="bold" text-anchor="middle" fill="#444" transform="translate(456.6 368) scale(0.07 0.1)">-</text><text font-size="48" font-weight="bold" text-anchor="middle" fill="#111" transform="translate(471.25 368.3) scale(0.075 0.1)" stroke="#111" stroke-width="1">+</text><text font-size="48" font-weight="bold" text-anchor="middle" fill="#111" transform="translate(485.8 368.3) scale(0.075 0.1)" stroke="#111" stroke-width="1">+</text><text font-size="54" font-weight="bold" text-anchor="middle" fill="#111" transform="translate(397 376.1) scale(0.064 0.1)" stroke="#111" stroke-width="1">NAC</text><text font-size="46" font-weight="bold" text-anchor="middle" fill="#444" transform="translate(414 375.6) scale(0.07 0.1)">-</text><text font-size="46" font-weight="bold" text-anchor="middle" fill="#444" transform="translate(428.05 375.6) scale(0.07 0.1)">-</text><text font-size="48" font-weight="bold" text-anchor="middle" fill="#111" transform="translate(442.35 375.9) scale(0.075 0.1)" stroke="#111" stroke-width="1">+</text><text font-size="46" font-weight="bold" text-anchor="middle" fill="#444" transform="translate(456.6 375.6) scale(0.07 0.1)">-</text><text font-size="46" font-weight="bold" text-anchor="middle" fill="#444" transform="translate(471.25 375.6) scale(0.07 0.1)">-</text><text font-size="48" font-weight="bold" text-anchor="middle" fill="#111" transform="translate(485.8 375.9) scale(0.075 0.1)" stroke="#111" stroke-width="1">+</text><text font-size="42" font-weight="bold" text-anchor="middle" fill="#222" transform="translate(420.3 282.6) scale(0.08 0.1)">***</text></g><g><path d="M547.3 337V278.8H603.5V323M561.8 278.8V283.2" fill="none" stroke="#808080" stroke-width=".55"/><path d="M548.1 340.5V337.58M545.5 337.58H550.7" stroke="#111" stroke-width=".7" fill="none"/><rect x="542.9" y="340.5" width="10.4" height="11.1" fill="#0b0b0b"/><path d="M561.75 285.32V283.27M559.15 283.27H564.35" stroke="#9a9a9e" stroke-width=".7" fill="none"/><rect x="556.5" y="285.32" width="10.5" height="66.28" fill="#a2a2a6"/><path d="M575.85 339.04V335.83M573.25 335.83H578.45" stroke="#7e7e7e" stroke-width=".7" fill="none"/><rect x="570.6" y="339.04" width="10.5" height="12.56" fill="#868686"/><path d="M589.55 334.37V329.41M586.95 329.41H592.15" stroke="#b0b0b0" stroke-width=".7" fill="none"/><rect x="584.3" y="334.37" width="10.5" height="17.23" fill="#d6d7d7" stroke="#a6a6a6" stroke-width=".5"/><path d="M603.55 325.47V323.42M600.95 323.42H606.15" stroke="#555" stroke-width=".7" fill="none"/><rect x="598.3" y="325.47" width="10.5" height="26.13" fill="#5f5f5f"/><path d="M617.55 336.56V332.77M614.95 332.77H620.15" stroke="#96969a" stroke-width=".7" fill="none"/><rect x="612.1" y="336.56" width="10.9" height="15.04" fill="#9c9ca0"/><path d="M540.7 278.6V351.6H625" fill="none" stroke="#1a1a1a" stroke-width=".8"/><path d="M540.7 351.6h-1.6" stroke="#1a1a1a" stroke-width=".7"/><text font-size="58" font-weight="normal" text-anchor="end" fill="#111" transform="translate(538.7 353.7) scale(0.088 0.1)" stroke="#111" stroke-width="1.2">0</text><path d="M540.7 337h-1.6" stroke="#1a1a1a" stroke-width=".7"/><text font-size="58" font-weight="normal" text-anchor="end" fill="#111" transform="translate(538.7 339.1) scale(0.088 0.1)" stroke="#111" stroke-width="1.2">10</text><path d="M540.7 322.4h-1.6" stroke="#1a1a1a" stroke-width=".7"/><text font-size="58" font-weight="normal" text-anchor="end" fill="#111" transform="translate(538.7 324.5) scale(0.088 0.1)" stroke="#111" stroke-width="1.2">20</text><path d="M540.7 307.8h-1.6" stroke="#1a1a1a" stroke-width=".7"/><text font-size="58" font-weight="normal" text-anchor="end" fill="#111" transform="translate(538.7 309.9) scale(0.088 0.1)" stroke="#111" stroke-width="1.2">30</text><path d="M540.7 293.2h-1.6" stroke="#1a1a1a" stroke-width=".7"/><text font-size="58" font-weight="normal" text-anchor="end" fill="#111" transform="translate(538.7 295.3) scale(0.088 0.1)" stroke="#111" stroke-width="1.2">40</text><path d="M540.7 278.6h-1.6" stroke="#1a1a1a" stroke-width=".7"/><text font-size="58" font-weight="normal" text-anchor="end" fill="#111" transform="translate(538.7 280.7) scale(0.088 0.1)" stroke="#111" stroke-width="1.2">50</text><text font-size="59" font-weight="normal" text-anchor="middle" fill="#111" transform="translate(531.2 320) rotate(-90) scale(0.1 0.1)" stroke="#111" stroke-width="1.2" textLength="440" lengthAdjust="spacing">Cell&#160; Ratio&#160; (%)</text><text font-size="56" font-weight="bold" text-anchor="middle" fill="#111" transform="translate(575.6 264.9) scale(0.1 0.1)" stroke="#111" stroke-width="1" textLength="508" lengthAdjust="spacingAndGlyphs">Total Apoptotic Cells</text><text font-size="56" font-weight="bold" text-anchor="middle" fill="#111" transform="translate(575.6 271.9) scale(0.1 0.1)" stroke="#111" stroke-width="1" textLength="538" lengthAdjust="spacingAndGlyphs">(average of 3 repeats)</text><text font-size="50" font-weight="bold" text-anchor="start" fill="#111" transform="translate(522.8 257.3) scale(0.085 0.1)" stroke="#111" stroke-width="1">iii</text><text font-size="54" font-weight="bold" text-anchor="middle" fill="#111" transform="translate(531.2 360.5) scale(0.064 0.1)" stroke="#111" stroke-width="1">Serum</text><text font-size="48" font-weight="bold" text-anchor="middle" fill="#111" transform="translate(548.1 360.3) scale(0.075 0.1)" stroke="#111" stroke-width="1">+</text><text font-size="48" font-weight="bold" text-anchor="middle" fill="#111" transform="translate(561.75 360.3) scale(0.075 0.1)" stroke="#111" stroke-width="1">+</text><text font-size="48" font-weight="bold" text-anchor="middle" fill="#111" transform="translate(575.85 360.3) scale(0.075 0.1)" stroke="#111" stroke-width="1">+</text><text font-size="46" font-weight="bold" text-anchor="middle" fill="#444" transform="translate(589.55 360) scale(0.07 0.1)">-</text><text font-size="46" font-weight="bold" text-anchor="middle" fill="#444" transform="translate(603.55 360) scale(0.07 0.1)">-</text><text font-size="46" font-weight="bold" text-anchor="middle" fill="#444" transform="translate(617.55 360) scale(0.07 0.1)">-</text><text font-size="54" font-weight="bold" text-anchor="middle" fill="#111" transform="translate(531.2 368.4) scale(0.064 0.1)" stroke="#111" stroke-width="1">H<tspan dy="13" font-size="32">2</tspan><tspan dy="-13">O</tspan><tspan dy="13" font-size="32">2</tspan></text><text font-size="46" font-weight="bold" text-anchor="middle" fill="#444" transform="translate(548.1 367.9) scale(0.07 0.1)">-</text><text font-size="48" font-weight="bold" text-anchor="middle" fill="#111" transform="translate(561.75 368.2) scale(0.075 0.1)" stroke="#111" stroke-width="1">+</text><text font-size="48" font-weight="bold" text-anchor="middle" fill="#111" transform="translate(575.85 368.2) scale(0.075 0.1)" stroke="#111" stroke-width="1">+</text><text font-size="46" font-weight="bold" text-anchor="middle" fill="#444" transform="translate(589.55 367.9) scale(0.07 0.1)">-</text><text font-size="48" font-weight="bold" text-anchor="middle" fill="#111" transform="translate(603.55 368.2) scale(0.075 0.1)" stroke="#111" stroke-width="1">+</text><text font-size="48" font-weight="bold" text-anchor="middle" fill="#111" transform="translate(617.55 368.2) scale(0.075 0.1)" stroke="#111" stroke-width="1">+</text><text font-size="54" font-weight="bold" text-anchor="middle" fill="#111" transform="translate(531.2 375.8) scale(0.064 0.1)" stroke="#111" stroke-width="1">NAC</text><text font-size="46" font-weight="bold" text-anchor="middle" fill="#444" transform="translate(548.1 375.3) scale(0.07 0.1)">-</text><text font-size="46" font-weight="bold" text-anchor="middle" fill="#444" transform="translate(561.75 375.3) scale(0.07 0.1)">-</text><text font-size="48" font-weight="bold" text-anchor="middle" fill="#111" transform="translate(575.85 375.6) scale(0.075 0.1)" stroke="#111" stroke-width="1">+</text><text font-size="46" font-weight="bold" text-anchor="middle" fill="#444" transform="translate(589.55 375.3) scale(0.07 0.1)">-</text><text font-size="46" font-weight="bold" text-anchor="middle" fill="#444" transform="translate(603.55 375.3) scale(0.07 0.1)">-</text><text font-size="48" font-weight="bold" text-anchor="middle" fill="#111" transform="translate(617.55 375.6) scale(0.075 0.1)" stroke="#111" stroke-width="1">+</text><text font-size="42" font-weight="bold" text-anchor="middle" fill="#222" transform="translate(554.6 278.2) scale(0.08 0.1)">***</text></g><g><path d="M82.6 694V685.9H139.3V702.2M96.7 685.9V700" fill="none" stroke="#666" stroke-width=".55"/><path d="M82.25 694.33V694M79.65 694H84.85" stroke="#111" stroke-width=".7" fill="none"/><rect x="76.9" y="694.33" width="10.7" height="54.67" fill="#0b0b0b"/><rect x="90.9" y="700.15" width="10.9" height="48.85" fill="#a2a2a6"/><path d="M110.85 692.71V692.19M108.25 692.19H113.45" stroke="#7e7e7e" stroke-width=".7" fill="none"/><rect x="105.5" y="692.71" width="10.7" height="56.29" fill="#868686"/><path d="M125.5 691.61V690.32M122.9 690.32H128.1" stroke="#b0b0b0" stroke-width=".7" fill="none"/><rect x="120" y="691.61" width="11" height="57.39" fill="#d6d7d7" stroke="#a6a6a6" stroke-width=".5"/><path d="M140.15 703.71V702.55M137.55 702.55H142.75" stroke="#555" stroke-width=".7" fill="none"/><rect x="134.8" y="703.71" width="10.7" height="45.29" fill="#5f5f5f"/><path d="M154.6 695.75V695.36M152 695.36H157.2" stroke="#96969a" stroke-width=".7" fill="none"/><rect x="149.2" y="695.75" width="10.8" height="53.25" fill="#9c9ca0"/><path d="M75.2 684.3V749H162" fill="none" stroke="#1a1a1a" stroke-width=".8"/><path d="M75.2 749h-1.6" stroke="#1a1a1a" stroke-width=".7"/><text font-size="58" font-weight="normal" text-anchor="end" fill="#111" transform="translate(73.2 751.1) scale(0.088 0.1)" stroke="#111" stroke-width="1.2">0</text><path d="M75.2 736.06h-1.6" stroke="#1a1a1a" stroke-width=".7"/><text font-size="58" font-weight="normal" text-anchor="end" fill="#111" transform="translate(73.2 738.16) scale(0.088 0.1)" stroke="#111" stroke-width="1.2">20</text><path d="M75.2 723.12h-1.6" stroke="#1a1a1a" stroke-width=".7"/><text font-size="58" font-weight="normal" text-anchor="end" fill="#111" transform="translate(73.2 725.22) scale(0.088 0.1)" stroke="#111" stroke-width="1.2">40</text><path d="M75.2 710.18h-1.6" stroke="#1a1a1a" stroke-width=".7"/><text font-size="58" font-weight="normal" text-anchor="end" fill="#111" transform="translate(73.2 712.28) scale(0.088 0.1)" stroke="#111" stroke-width="1.2">60</text><path d="M75.2 697.24h-1.6" stroke="#1a1a1a" stroke-width=".7"/><text font-size="58" font-weight="normal" text-anchor="end" fill="#111" transform="translate(73.2 699.34) scale(0.088 0.1)" stroke="#111" stroke-width="1.2">80</text><path d="M75.2 684.3h-1.6" stroke="#1a1a1a" stroke-width=".7"/><text font-size="58" font-weight="normal" text-anchor="end" fill="#111" transform="translate(73.2 686.4) scale(0.088 0.1)" stroke="#111" stroke-width="1.2">100</text><text font-size="58" font-weight="normal" text-anchor="middle" fill="#111" transform="translate(63.3 720.5) rotate(-90) scale(0.1 0.1)" stroke="#111" stroke-width="1.2" textLength="396" lengthAdjust="spacing">Cell&#160; Ratio&#160; (%)</text><text font-size="56" font-weight="bold" text-anchor="middle" fill="#111" transform="translate(110.6 670.8) scale(0.1 0.1)" stroke="#111" stroke-width="1" textLength="269" lengthAdjust="spacingAndGlyphs">Live&#160; Cells</text><text font-size="56" font-weight="bold" text-anchor="middle" fill="#111" transform="translate(110.6 678.3) scale(0.1 0.1)" stroke="#111" stroke-width="1" textLength="570" lengthAdjust="spacingAndGlyphs">(average of 3 repeats)</text><text font-size="50" font-weight="bold" text-anchor="start" fill="#111" transform="translate(54.8 663.4) scale(0.085 0.1)" stroke="#111" stroke-width="1">ii</text><text font-size="54" font-weight="bold" text-anchor="middle" fill="#111" transform="translate(65.5 758.7) scale(0.064 0.1)" stroke="#111" stroke-width="1">Serum</text><text font-size="48" font-weight="bold" text-anchor="middle" fill="#111" transform="translate(82.25 758.5) scale(0.075 0.1)" stroke="#111" stroke-width="1">+</text><text font-size="48" font-weight="bold" text-anchor="middle" fill="#111" transform="translate(96.35 758.5) scale(0.075 0.1)" stroke="#111" stroke-width="1">+</text><text font-size="48" font-weight="bold" text-anchor="middle" fill="#111" transform="translate(110.85 758.5) scale(0.075 0.1)" stroke="#111" stroke-width="1">+</text><text font-size="46" font-weight="bold" text-anchor="middle" fill="#444" transform="translate(125.5 758.2) scale(0.07 0.1)">-</text><text font-size="46" font-weight="bold" text-anchor="middle" fill="#444" transform="translate(140.15 758.2) scale(0.07 0.1)">-</text><text font-size="46" font-weight="bold" text-anchor="middle" fill="#444" transform="translate(154.6 758.2) scale(0.07 0.1)">-</text><text font-size="54" font-weight="bold" text-anchor="middle" fill="#111" transform="translate(65.5 766.5) scale(0.064 0.1)" stroke="#111" stroke-width="1">H<tspan dy="13" font-size="32">2</tspan><tspan dy="-13">O</tspan><tspan dy="13" font-size="32">2</tspan></text><text font-size="46" font-weight="bold" text-anchor="middle" fill="#444" transform="translate(82.25 766) scale(0.07 0.1)">-</text><text font-size="48" font-weight="bold" text-anchor="middle" fill="#111" transform="translate(96.35 766.3) scale(0.075 0.1)" stroke="#111" stroke-width="1">+</text><text font-size="48" font-weight="bold" text-anchor="middle" fill="#111" transform="translate(110.85 766.3) scale(0.075 0.1)" stroke="#111" stroke-width="1">+</text><text font-size="46" font-weight="bold" text-anchor="middle" fill="#444" transform="translate(125.5 766) scale(0.07 0.1)">-</text><text font-size="48" font-weight="bold" text-anchor="middle" fill="#111" transform="translate(140.15 766.3) scale(0.075 0.1)" stroke="#111" stroke-width="1">+</text><text font-size="48" font-weight="bold" text-anchor="middle" fill="#111" transform="translate(154.6 766.3) scale(0.075 0.1)" stroke="#111" stroke-width="1">+</text><text font-size="54" font-weight="bold" text-anchor="middle" fill="#111" transform="translate(65.5 774.2) scale(0.064 0.1)" stroke="#111" stroke-width="1">NAC</text><text font-size="46" font-weight="bold" text-anchor="middle" fill="#444" transform="translate(82.25 773.7) scale(0.07 0.1)">-</text><text font-size="46" font-weight="bold" text-anchor="middle" fill="#444" transform="translate(96.35 773.7) scale(0.07 0.1)">-</text><text font-size="48" font-weight="bold" text-anchor="middle" fill="#111" transform="translate(110.85 774) scale(0.075 0.1)" stroke="#111" stroke-width="1">+</text><text font-size="46" font-weight="bold" text-anchor="middle" fill="#444" transform="translate(125.5 773.7) scale(0.07 0.1)">-</text><text font-size="46" font-weight="bold" text-anchor="middle" fill="#444" transform="translate(140.15 773.7) scale(0.07 0.1)">-</text><text font-size="48" font-weight="bold" text-anchor="middle" fill="#111" transform="translate(154.6 774) scale(0.075 0.1)" stroke="#111" stroke-width="1">+</text><text font-size="42" font-weight="bold" text-anchor="middle" fill="#222" transform="translate(89 683.6) scale(0.08 0.1)">*</text><text font-size="42" font-weight="bold" text-anchor="middle" fill="#222" transform="translate(115.5 683.6) scale(0.08 0.1)">**</text></g><g><path d="M212.9 720.4V686.9H271.4V689M227.3 686.9V704" fill="none" stroke="#666" stroke-width=".55"/><path d="M213.55 720.54V719.99M210.95 719.99H216.15" stroke="#111" stroke-width=".7" fill="none"/><rect x="208.5" y="720.54" width="10.1" height="29.36" fill="#0b0b0b"/><rect x="222.9" y="704.04" width="10.3" height="45.86" fill="#a2a2a6"/><path d="M242.35 718.73V716.37M239.75 716.37H244.95" stroke="#7e7e7e" stroke-width=".7" fill="none"/><rect x="237.4" y="718.73" width="9.9" height="31.17" fill="#868686"/><path d="M256.65 727.24V723.07M254.05 723.07H259.25" stroke="#b0b0b0" stroke-width=".7" fill="none"/><rect x="251.6" y="727.24" width="10.1" height="22.66" fill="#d6d7d7" stroke="#a6a6a6" stroke-width=".5"/><path d="M271.25 692.44V689.36M268.65 689.36H273.85" stroke="#555" stroke-width=".7" fill="none"/><rect x="266.2" y="692.44" width="10.1" height="57.46" fill="#5f5f5f"/><path d="M285.85 715.82V713.29M283.25 713.29H288.45" stroke="#96969a" stroke-width=".7" fill="none"/><rect x="280.8" y="715.82" width="10.1" height="34.08" fill="#9c9ca0"/><path d="M205.6 677.4V749.9H292" fill="none" stroke="#1a1a1a" stroke-width=".8"/><path d="M205.6 749.9h-1.6" stroke="#1a1a1a" stroke-width=".7"/><text font-size="58" font-weight="normal" text-anchor="end" fill="#111" transform="translate(203.6 752) scale(0.088 0.1)" stroke="#111" stroke-width="1.2">0</text><path d="M205.6 731.77h-1.6" stroke="#1a1a1a" stroke-width=".7"/><text font-size="58" font-weight="normal" text-anchor="end" fill="#111" transform="translate(203.6 733.88) scale(0.088 0.1)" stroke="#111" stroke-width="1.2">10</text><path d="M205.6 713.65h-1.6" stroke="#1a1a1a" stroke-width=".7"/><text font-size="58" font-weight="normal" text-anchor="end" fill="#111" transform="translate(203.6 715.75) scale(0.088 0.1)" stroke="#111" stroke-width="1.2">20</text><path d="M205.6 695.52h-1.6" stroke="#1a1a1a" stroke-width=".7"/><text font-size="58" font-weight="normal" text-anchor="end" fill="#111" transform="translate(203.6 697.62) scale(0.088 0.1)" stroke="#111" stroke-width="1.2">30</text><path d="M205.6 677.4h-1.6" stroke="#1a1a1a" stroke-width=".7"/><text font-size="58" font-weight="normal" text-anchor="end" fill="#111" transform="translate(203.6 679.5) scale(0.088 0.1)" stroke="#111" stroke-width="1.2">40</text><text font-size="60" font-weight="normal" text-anchor="middle" fill="#111" transform="translate(196.3 718) rotate(-90) scale(0.1 0.1)" stroke="#111" stroke-width="1.2" textLength="440" lengthAdjust="spacing">Cell&#160; Ratio&#160; (%)</text><text font-size="56" font-weight="bold" text-anchor="middle" fill="#111" transform="translate(246.6 670.8) scale(0.1 0.1)" stroke="#111" stroke-width="1" textLength="510" lengthAdjust="spacingAndGlyphs">Total Apoptotic Cells</text><text font-size="56" font-weight="bold" text-anchor="middle" fill="#111" transform="translate(246.6 678.9) scale(0.1 0.1)" stroke="#111" stroke-width="1" textLength="567" lengthAdjust="spacingAndGlyphs">(average of 3 repeats)</text><text font-size="50" font-weight="bold" text-anchor="start" fill="#111" transform="translate(187.8 663.4) scale(0.085 0.1)" stroke="#111" stroke-width="1">iii</text><text font-size="54" font-weight="bold" text-anchor="middle" fill="#111" transform="translate(197 760) scale(0.064 0.1)" stroke="#111" stroke-width="1">Serum</text><text font-size="48" font-weight="bold" text-anchor="middle" fill="#111" transform="translate(213.55 759.8) scale(0.075 0.1)" stroke="#111" stroke-width="1">+</text><text font-size="48" font-weight="bold" text-anchor="middle" fill="#111" transform="translate(228.05 759.8) scale(0.075 0.1)" stroke="#111" stroke-width="1">+</text><text font-size="48" font-weight="bold" text-anchor="middle" fill="#111" transform="translate(242.35 759.8) scale(0.075 0.1)" stroke="#111" stroke-width="1">+</text><text font-size="46" font-weight="bold" text-anchor="middle" fill="#444" transform="translate(256.65 759.5) scale(0.07 0.1)">-</text><text font-size="46" font-weight="bold" text-anchor="middle" fill="#444" transform="translate(271.25 759.5) scale(0.07 0.1)">-</text><text font-size="46" font-weight="bold" text-anchor="middle" fill="#444" transform="translate(285.85 759.5) scale(0.07 0.1)">-</text><text font-size="54" font-weight="bold" text-anchor="middle" fill="#111" transform="translate(197 767.7) scale(0.064 0.1)" stroke="#111" stroke-width="1">H<tspan dy="13" font-size="32">2</tspan><tspan dy="-13">O</tspan><tspan dy="13" font-size="32">2</tspan></text><text font-size="46" font-weight="bold" text-anchor="middle" fill="#444" transform="translate(213.55 767.2) scale(0.07 0.1)">-</text><text font-size="48" font-weight="bold" text-anchor="middle" fill="#111" transform="translate(228.05 767.5) scale(0.075 0.1)" stroke="#111" stroke-width="1">+</text><text font-size="48" font-weight="bold" text-anchor="middle" fill="#111" transform="translate(242.35 767.5) scale(0.075 0.1)" stroke="#111" stroke-width="1">+</text><text font-size="46" font-weight="bold" text-anchor="middle" fill="#444" transform="translate(256.65 767.2) scale(0.07 0.1)">-</text><text font-size="48" font-weight="bold" text-anchor="middle" fill="#111" transform="translate(271.25 767.5) scale(0.075 0.1)" stroke="#111" stroke-width="1">+</text><text font-size="48" font-weight="bold" text-anchor="middle" fill="#111" transform="translate(285.85 767.5) scale(0.075 0.1)" stroke="#111" stroke-width="1">+</text><text font-size="54" font-weight="bold" text-anchor="middle" fill="#111" transform="translate(197 775.3) scale(0.064 0.1)" stroke="#111" stroke-width="1">NAC</text><text font-size="46" font-weight="bold" text-anchor="middle" fill="#444" transform="translate(213.55 774.8) scale(0.07 0.1)">-</text><text font-size="46" font-weight="bold" text-anchor="middle" fill="#444" transform="translate(228.05 774.8) scale(0.07 0.1)">-</text><text font-size="48" font-weight="bold" text-anchor="middle" fill="#111" transform="translate(242.35 775.1) scale(0.075 0.1)" stroke="#111" stroke-width="1">+</text><text font-size="46" font-weight="bold" text-anchor="middle" fill="#444" transform="translate(256.65 774.8) scale(0.07 0.1)">-</text><text font-size="46" font-weight="bold" text-anchor="middle" fill="#444" transform="translate(271.25 774.8) scale(0.07 0.1)">-</text><text font-size="48" font-weight="bold" text-anchor="middle" fill="#111" transform="translate(285.85 775.1) scale(0.075 0.1)" stroke="#111" stroke-width="1">+</text><text font-size="42" font-weight="bold" text-anchor="middle" fill="#222" transform="translate(220.4 684.4) scale(0.08 0.1)">*</text><text font-size="42" font-weight="bold" text-anchor="middle" fill="#222" transform="translate(246.7 684.4) scale(0.08 0.1)">**</text></g>
</svg></body></html>
